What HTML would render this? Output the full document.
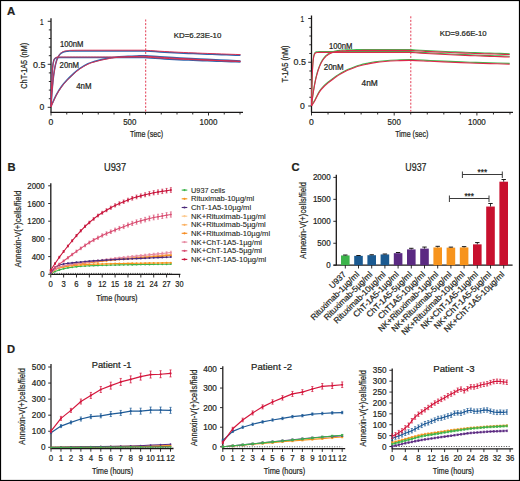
<!DOCTYPE html>
<html><head><meta charset="utf-8"><style>
html,body{margin:0;padding:0;background:#fff;}
svg{display:block;}
text{font-family:"Liberation Sans", sans-serif;fill:#231f20;stroke:#231f20;stroke-width:0.22px;}
</style></head><body>
<svg width="520" height="481" viewBox="0 0 520 481">
<rect x="0" y="0" width="520" height="481" fill="#fff"/>
<text x="7.1" y="14.99" font-size="11.4" fill="#000" font-weight="bold">A</text>
<line x1="51" y1="18.3" x2="51" y2="112.3" stroke="#1a1818" stroke-width="1.3" />
<line x1="47.7" y1="107.3" x2="51" y2="107.3" stroke="#1a1818" stroke-width="0.9" />
<line x1="48.8" y1="98.7" x2="51" y2="98.7" stroke="#1a1818" stroke-width="0.9" />
<line x1="48.8" y1="90.1" x2="51" y2="90.1" stroke="#1a1818" stroke-width="0.9" />
<line x1="48.8" y1="81.5" x2="51" y2="81.5" stroke="#1a1818" stroke-width="0.9" />
<line x1="48.8" y1="72.9" x2="51" y2="72.9" stroke="#1a1818" stroke-width="0.9" />
<line x1="47.7" y1="64.3" x2="51" y2="64.3" stroke="#1a1818" stroke-width="0.9" />
<line x1="48.8" y1="55.7" x2="51" y2="55.7" stroke="#1a1818" stroke-width="0.9" />
<line x1="48.8" y1="47.1" x2="51" y2="47.1" stroke="#1a1818" stroke-width="0.9" />
<line x1="48.8" y1="38.5" x2="51" y2="38.5" stroke="#1a1818" stroke-width="0.9" />
<line x1="48.8" y1="29.9" x2="51" y2="29.9" stroke="#1a1818" stroke-width="0.9" />
<line x1="47.7" y1="21.3" x2="51" y2="21.3" stroke="#1a1818" stroke-width="0.9" />
<text x="41.8" y="24.52" font-size="9.2" text-anchor="middle" textLength="3.6" lengthAdjust="spacingAndGlyphs">1</text>
<text x="39.2" y="67.52" font-size="9.2" text-anchor="middle" textLength="12.4" lengthAdjust="spacingAndGlyphs">0.5</text>
<text x="41.8" y="110.22" font-size="9.2" text-anchor="middle" textLength="4.8" lengthAdjust="spacingAndGlyphs">0</text>
<line x1="50.5" y1="112.3" x2="243" y2="112.3" stroke="#1a1818" stroke-width="1.3" />
<line x1="51" y1="112.3" x2="51" y2="115.5" stroke="#1a1818" stroke-width="0.9" />
<line x1="66.75" y1="112.3" x2="66.75" y2="114.5" stroke="#1a1818" stroke-width="0.9" />
<line x1="82.5" y1="112.3" x2="82.5" y2="114.5" stroke="#1a1818" stroke-width="0.9" />
<line x1="98.25" y1="112.3" x2="98.25" y2="114.5" stroke="#1a1818" stroke-width="0.9" />
<line x1="114" y1="112.3" x2="114" y2="114.5" stroke="#1a1818" stroke-width="0.9" />
<line x1="129.75" y1="112.3" x2="129.75" y2="115.5" stroke="#1a1818" stroke-width="0.9" />
<line x1="145.5" y1="112.3" x2="145.5" y2="114.5" stroke="#1a1818" stroke-width="0.9" />
<line x1="161.25" y1="112.3" x2="161.25" y2="114.5" stroke="#1a1818" stroke-width="0.9" />
<line x1="177" y1="112.3" x2="177" y2="114.5" stroke="#1a1818" stroke-width="0.9" />
<line x1="192.75" y1="112.3" x2="192.75" y2="114.5" stroke="#1a1818" stroke-width="0.9" />
<line x1="208.5" y1="112.3" x2="208.5" y2="115.5" stroke="#1a1818" stroke-width="0.9" />
<line x1="224.25" y1="112.3" x2="224.25" y2="114.5" stroke="#1a1818" stroke-width="0.9" />
<line x1="240" y1="112.3" x2="240" y2="114.5" stroke="#1a1818" stroke-width="0.9" />
<text x="51" y="125.12" font-size="9.2" text-anchor="middle" textLength="4.8" lengthAdjust="spacingAndGlyphs">0</text>
<text x="129.75" y="125.12" font-size="9.2" text-anchor="middle" textLength="13.2" lengthAdjust="spacingAndGlyphs">500</text>
<text x="208.5" y="125.12" font-size="9.2" text-anchor="middle" textLength="17.8" lengthAdjust="spacingAndGlyphs">1000</text>
<text x="146.5" y="136.61" font-size="8.6" text-anchor="middle" textLength="33.2" lengthAdjust="spacingAndGlyphs">Time (sec)</text>
<text x="27" y="65.75" font-size="9.4" text-anchor="middle" textLength="45.9" lengthAdjust="spacingAndGlyphs" transform="rotate(-90 27 65.75)">ChT-1A5 (nM)</text>
<line x1="145.7" y1="19.5" x2="145.7" y2="111.5" stroke="#e0263f" stroke-width="0.9" stroke-dasharray="2,1.6"/>
<text x="173.8" y="38.16" font-size="7.9" textLength="47.5" lengthAdjust="spacingAndGlyphs">KD=6.23E-10</text>
<text x="60" y="47.17" font-size="8.2" textLength="23.5" lengthAdjust="spacingAndGlyphs">100nM</text>
<text x="59.6" y="68.07" font-size="8.2" textLength="19.4" lengthAdjust="spacingAndGlyphs">20nM</text>
<text x="76.2" y="89.37" font-size="8.2" textLength="15.3" lengthAdjust="spacingAndGlyphs">4nM</text>
<path d="M51,107 L51.2,98.05 L51.4,90.71 L51.6,84.71 L51.8,79.8 L52,75.77 L52.2,72.48 L52.4,69.78 L52.6,67.57 L52.8,65.77 L53,64.29 L53.2,63.07 L53.4,62.08 L53.6,61.27 L53.8,60.6 L54,60.06 L54.2,59.61 L54.4,59.25 L54.6,58.95 L54.8,58.71 L55,58.5 L55.2,58.34 L55.4,58.21 L55.6,58.1 L55.8,58.01 L56,57.93 L56.2,57.87 L56.4,57.82 L56.6,57.78 L56.8,57.75 L57,57.72 L60,57.61 L63,57.6 L66,57.6 L69,57.6 L72,57.6 L75,57.6 L78,57.6 L81,57.6 L84,57.6 L87,57.6 L90,57.6 L93,57.6 L96,57.6 L99,57.6 L102,57.6 L105,57.6 L108,57.6 L111,57.6 L114,57.6 L117,57.6 L120,57.6 L123,57.6 L126,57.6 L129,57.6 L132,57.6 L135,57.6 L138,57.6 L141,57.6 L144,57.6 L150.44,57.97 L155.18,58.31 L159.92,58.62 L164.66,58.9 L169.4,59.17 L174.14,59.42 L178.88,59.65 L183.62,59.88 L188.36,60.09 L193.1,60.29 L197.84,60.48 L202.58,60.67 L207.32,60.85 L212.06,61.02 L216.8,61.19 L221.54,61.36 L226.28,61.53 L231.02,61.69 L235.76,61.84 L240.5,62" fill="none" stroke="#2f67ad" stroke-width="1.5" stroke-linejoin="round" />
<path d="M51,107 L51.3,101.98 L51.6,97.41 L51.9,93.25 L52.2,89.46 L52.5,86.01 L52.8,82.86 L53.1,80 L53.4,77.4 L53.7,75.03 L54,72.87 L54.3,70.9 L54.6,69.11 L54.9,67.48 L55.2,66 L55.5,64.65 L55.8,63.42 L56.1,62.3 L56.4,61.28 L56.7,60.35 L57,59.5 L57.3,58.73 L57.6,58.03 L57.9,57.39 L58.2,56.81 L58.5,56.28 L58.8,55.8 L59.1,55.36 L59.4,54.96 L59.7,54.6 L60,54.27 L60.3,53.97 L60.6,53.69 L60.9,53.44 L61.2,53.22 L61.5,53.01 L61.8,52.82 L62.1,52.65 L62.4,52.49 L62.7,52.35 L63,52.22 L63.3,52.1 L63.6,51.99 L63.9,51.9 L64.2,51.81 L64.5,51.73 L64.8,51.65 L65.1,51.58 L65.4,51.52 L65.7,51.47 L66,51.42 L66.3,51.37 L66.6,51.33 L66.9,51.29 L67.2,51.26 L67.5,51.22 L67.8,51.19 L68.1,51.17 L68.4,51.14 L68.7,51.12 L69,51.1 L69.3,51.08 L69.6,51.07 L69.9,51.05 L70.2,51.04 L70.5,51.03 L73.5,50.95 L76.5,50.92 L79.5,50.91 L82.5,50.9 L85.5,50.9 L88.5,50.9 L91.5,50.9 L94.5,50.9 L97.5,50.9 L100.5,50.9 L103.5,50.9 L106.5,50.9 L109.5,50.9 L112.5,50.9 L115.5,50.9 L118.5,50.9 L121.5,50.9 L124.5,50.9 L127.5,50.9 L130.5,50.9 L133.5,50.9 L136.5,50.9 L139.5,50.9 L142.5,50.9 L145.5,50.9 L150.44,51.27 L155.18,51.61 L159.92,51.92 L164.66,52.2 L169.4,52.47 L174.14,52.72 L178.88,52.95 L183.62,53.18 L188.36,53.39 L193.1,53.59 L197.84,53.78 L202.58,53.97 L207.32,54.15 L212.06,54.32 L216.8,54.49 L221.54,54.66 L226.28,54.83 L231.02,54.99 L235.76,55.14 L240.5,55.3" fill="none" stroke="#2f67ad" stroke-width="1.5" stroke-linejoin="round" />
<path d="M51,106.3 C51.88,104.38 54.55,98.1 56.3,94.8 C58.05,91.5 59.77,88.92 61.5,86.5 C63.23,84.08 64.78,82.37 66.7,80.3 C68.62,78.23 70.92,76 73,74.1 C75.08,72.2 76.7,70.63 79.2,68.9 C81.7,67.17 85.5,64.93 88,63.7 C90.5,62.47 91.9,62.2 94.2,61.5 C96.5,60.8 99.25,60.08 101.8,59.5 C104.35,58.92 106.93,58.43 109.5,58 C112.07,57.57 114.12,57.2 117.2,56.9 C120.28,56.6 124.7,56.37 128,56.2 C131.3,56.03 134.05,55.97 137,55.9 C139.95,55.83 141.87,55.65 145.7,55.8 C149.53,55.95 154.28,56.43 160,56.8 C165.72,57.17 173.33,57.63 180,58 C186.67,58.37 193.33,58.67 200,59 C206.67,59.33 213.25,59.68 220,60 C226.75,60.32 237.08,60.75 240.5,60.9" fill="none" stroke="#2f67ad" stroke-width="1.5" stroke-linejoin="round" />
<path d="M51,107 L51.2,98.33 L51.4,91.16 L51.6,85.24 L51.8,80.34 L52,76.29 L52.2,72.95 L52.4,70.18 L52.6,67.89 L52.8,66 L53,64.44 L53.2,63.15 L53.4,62.09 L53.6,61.2 L53.8,60.47 L54,59.87 L54.2,59.37 L54.4,58.96 L54.6,58.62 L54.8,58.34 L55,58.11 L55.2,57.92 L55.4,57.76 L55.6,57.63 L55.8,57.52 L56,57.43 L56.2,57.35 L56.4,57.29 L56.6,57.24 L56.8,57.2 L57,57.16 L57.2,57.14 L57.4,57.11 L60.4,57.01 L63.4,57 L66.4,57 L69.4,57 L72.4,57 L75.4,57 L78.4,57 L81.4,57 L84.4,57 L87.4,57 L90.4,57 L93.4,57 L96.4,57 L99.4,57 L102.4,57 L105.4,57 L108.4,57 L111.4,57 L114.4,57 L117.4,57 L120.4,57 L123.4,57 L126.4,57 L129.4,57 L132.4,57 L135.4,57 L138.4,57 L141.4,57 L144.4,57 L150.44,57.37 L155.18,57.71 L159.92,58.02 L164.66,58.3 L169.4,58.57 L174.14,58.82 L178.88,59.05 L183.62,59.28 L188.36,59.49 L193.1,59.69 L197.84,59.88 L202.58,60.07 L207.32,60.25 L212.06,60.42 L216.8,60.59 L221.54,60.76 L226.28,60.93 L231.02,61.09 L235.76,61.24 L240.5,61.4" fill="none" stroke="#dc2a4c" stroke-width="0.95" stroke-linejoin="round" />
<path d="M51,107 L51.3,102.06 L51.6,97.56 L51.9,93.44 L52.2,89.68 L52.5,86.25 L52.8,83.12 L53.1,80.26 L53.4,77.65 L53.7,75.26 L54,73.08 L54.3,71.1 L54.6,69.28 L54.9,67.62 L55.2,66.11 L55.5,64.73 L55.8,63.46 L56.1,62.31 L56.4,61.26 L56.7,60.3 L57,59.42 L57.3,58.62 L57.6,57.89 L57.9,57.22 L58.2,56.61 L58.5,56.05 L58.8,55.54 L59.1,55.08 L59.4,54.66 L59.7,54.27 L60,53.91 L60.3,53.59 L60.6,53.3 L60.9,53.03 L61.2,52.78 L61.5,52.56 L61.8,52.35 L62.1,52.17 L62.4,51.99 L62.7,51.84 L63,51.7 L63.3,51.57 L63.6,51.45 L63.9,51.34 L64.2,51.24 L64.5,51.15 L64.8,51.07 L65.1,50.99 L65.4,50.92 L65.7,50.86 L66,50.8 L66.3,50.75 L66.6,50.7 L66.9,50.66 L67.2,50.62 L67.5,50.58 L67.8,50.55 L68.1,50.52 L68.4,50.49 L68.7,50.47 L69,50.44 L69.3,50.42 L69.6,50.4 L69.9,50.38 L70.2,50.37 L70.5,50.35 L70.8,50.34 L71.1,50.33 L74.1,50.25 L77.1,50.22 L80.1,50.21 L83.1,50.2 L86.1,50.2 L89.1,50.2 L92.1,50.2 L95.1,50.2 L98.1,50.2 L101.1,50.2 L104.1,50.2 L107.1,50.2 L110.1,50.2 L113.1,50.2 L116.1,50.2 L119.1,50.2 L122.1,50.2 L125.1,50.2 L128.1,50.2 L131.1,50.2 L134.1,50.2 L137.1,50.2 L140.1,50.2 L143.1,50.2 L150.44,50.57 L155.18,50.91 L159.92,51.22 L164.66,51.5 L169.4,51.77 L174.14,52.02 L178.88,52.25 L183.62,52.48 L188.36,52.69 L193.1,52.89 L197.84,53.08 L202.58,53.27 L207.32,53.45 L212.06,53.62 L216.8,53.79 L221.54,53.96 L226.28,54.13 L231.02,54.29 L235.76,54.44 L240.5,54.6" fill="none" stroke="#dc2a4c" stroke-width="0.95" stroke-linejoin="round" />
<path d="M51,106.8 C51.88,104.88 54.55,98.6 56.3,95.3 C58.05,92 59.77,89.42 61.5,87 C63.23,84.58 64.78,82.87 66.7,80.8 C68.62,78.73 70.92,76.5 73,74.6 C75.08,72.7 76.7,71.13 79.2,69.4 C81.7,67.67 85.5,65.43 88,64.2 C90.5,62.97 91.9,62.7 94.2,62 C96.5,61.3 99.25,60.58 101.8,60 C104.35,59.42 106.93,58.93 109.5,58.5 C112.07,58.07 114.12,57.7 117.2,57.4 C120.28,57.1 124.7,56.87 128,56.7 C131.3,56.53 134.05,56.47 137,56.4 C139.95,56.33 141.87,56.15 145.7,56.3 C149.53,56.45 154.28,56.93 160,57.3 C165.72,57.67 173.33,58.13 180,58.5 C186.67,58.87 193.33,59.17 200,59.5 C206.67,59.83 213.25,60.18 220,60.5 C226.75,60.82 237.08,61.25 240.5,61.4" fill="none" stroke="#dc2a4c" stroke-width="0.95" stroke-linejoin="round" />
<line x1="311.5" y1="15.5" x2="311.5" y2="112.3" stroke="#1a1818" stroke-width="1.3" />
<line x1="308.2" y1="106" x2="311.5" y2="106" stroke="#1a1818" stroke-width="0.9" />
<line x1="309.3" y1="97.25" x2="311.5" y2="97.25" stroke="#1a1818" stroke-width="0.9" />
<line x1="309.3" y1="88.5" x2="311.5" y2="88.5" stroke="#1a1818" stroke-width="0.9" />
<line x1="309.3" y1="79.75" x2="311.5" y2="79.75" stroke="#1a1818" stroke-width="0.9" />
<line x1="309.3" y1="71" x2="311.5" y2="71" stroke="#1a1818" stroke-width="0.9" />
<line x1="308.2" y1="62.25" x2="311.5" y2="62.25" stroke="#1a1818" stroke-width="0.9" />
<line x1="309.3" y1="53.5" x2="311.5" y2="53.5" stroke="#1a1818" stroke-width="0.9" />
<line x1="309.3" y1="44.75" x2="311.5" y2="44.75" stroke="#1a1818" stroke-width="0.9" />
<line x1="309.3" y1="36" x2="311.5" y2="36" stroke="#1a1818" stroke-width="0.9" />
<line x1="309.3" y1="27.25" x2="311.5" y2="27.25" stroke="#1a1818" stroke-width="0.9" />
<line x1="308.2" y1="18.5" x2="311.5" y2="18.5" stroke="#1a1818" stroke-width="0.9" />
<text x="302.3" y="21.72" font-size="9.2" text-anchor="middle" textLength="3.6" lengthAdjust="spacingAndGlyphs">1</text>
<text x="299.7" y="65.47" font-size="9.2" text-anchor="middle" textLength="12.4" lengthAdjust="spacingAndGlyphs">0.5</text>
<text x="302.3" y="108.92" font-size="9.2" text-anchor="middle" textLength="4.8" lengthAdjust="spacingAndGlyphs">0</text>
<line x1="311" y1="112.3" x2="513" y2="112.3" stroke="#1a1818" stroke-width="1.3" />
<line x1="311.5" y1="112.3" x2="311.5" y2="115.5" stroke="#1a1818" stroke-width="0.9" />
<line x1="328.04" y1="112.3" x2="328.04" y2="114.5" stroke="#1a1818" stroke-width="0.9" />
<line x1="344.58" y1="112.3" x2="344.58" y2="114.5" stroke="#1a1818" stroke-width="0.9" />
<line x1="361.12" y1="112.3" x2="361.12" y2="114.5" stroke="#1a1818" stroke-width="0.9" />
<line x1="377.66" y1="112.3" x2="377.66" y2="114.5" stroke="#1a1818" stroke-width="0.9" />
<line x1="394.2" y1="112.3" x2="394.2" y2="115.5" stroke="#1a1818" stroke-width="0.9" />
<line x1="410.74" y1="112.3" x2="410.74" y2="114.5" stroke="#1a1818" stroke-width="0.9" />
<line x1="427.28" y1="112.3" x2="427.28" y2="114.5" stroke="#1a1818" stroke-width="0.9" />
<line x1="443.82" y1="112.3" x2="443.82" y2="114.5" stroke="#1a1818" stroke-width="0.9" />
<line x1="460.36" y1="112.3" x2="460.36" y2="114.5" stroke="#1a1818" stroke-width="0.9" />
<line x1="476.9" y1="112.3" x2="476.9" y2="115.5" stroke="#1a1818" stroke-width="0.9" />
<line x1="493.44" y1="112.3" x2="493.44" y2="114.5" stroke="#1a1818" stroke-width="0.9" />
<line x1="509.98" y1="112.3" x2="509.98" y2="114.5" stroke="#1a1818" stroke-width="0.9" />
<text x="311.5" y="125.12" font-size="9.2" text-anchor="middle" textLength="4.8" lengthAdjust="spacingAndGlyphs">0</text>
<text x="394.2" y="125.12" font-size="9.2" text-anchor="middle" textLength="13.2" lengthAdjust="spacingAndGlyphs">500</text>
<text x="476.9" y="125.12" font-size="9.2" text-anchor="middle" textLength="17.8" lengthAdjust="spacingAndGlyphs">1000</text>
<text x="411.74" y="136.61" font-size="8.6" text-anchor="middle" textLength="33.2" lengthAdjust="spacingAndGlyphs">Time (sec)</text>
<text x="287.7" y="63.9" font-size="9.4" text-anchor="middle" textLength="37" lengthAdjust="spacingAndGlyphs" transform="rotate(-90 287.7 63.9)">T-1A5 (nM)</text>
<line x1="410.8" y1="16.3" x2="410.8" y2="111.5" stroke="#e0263f" stroke-width="0.9" stroke-dasharray="2,1.6"/>
<text x="439.8" y="36.27" font-size="7.9" textLength="46.8" lengthAdjust="spacingAndGlyphs">KD=9.66E-10</text>
<text x="329.1" y="48.97" font-size="8.2" textLength="23.3" lengthAdjust="spacingAndGlyphs">100nM</text>
<text x="323.7" y="69.77" font-size="8.2" textLength="20" lengthAdjust="spacingAndGlyphs">20nM</text>
<text x="361.5" y="85.87" font-size="8.2" textLength="16.3" lengthAdjust="spacingAndGlyphs">4nM</text>
<path d="M311.5,105.2 C312.08,104.28 313.67,102.05 315,99.7 C316.33,97.35 317.92,93.52 319.5,91.1 C321.08,88.68 322.77,86.93 324.5,85.2 C326.23,83.47 328.07,82.17 329.9,80.7 C331.73,79.23 333.58,77.73 335.5,76.4 C337.42,75.07 339.4,73.85 341.4,72.7 C343.4,71.55 345.38,70.47 347.5,69.5 C349.62,68.53 352.02,67.65 354.1,66.9 C356.18,66.15 357.88,65.58 360,65 C362.12,64.42 364.3,63.93 366.8,63.4 C369.3,62.87 371.97,62.25 375,61.8 C378.03,61.35 381.33,61 385,60.7 C388.67,60.4 392.7,60.18 397,60 C401.3,59.82 405.3,59.52 410.8,59.6 C416.3,59.68 423.47,60.2 430,60.5 C436.53,60.8 443.33,61.12 450,61.4 C456.67,61.68 463.33,61.97 470,62.2 C476.67,62.43 483.38,62.6 490,62.8 C496.62,63 506.42,63.3 509.7,63.4" fill="none" stroke="#3dba4e" stroke-width="1.1" stroke-linejoin="round" />
<path d="M311.5,105.2 L311.7,94.52 L311.9,85.97 L312.1,79.12 L312.3,73.64 L312.5,69.24 L312.7,65.73 L312.9,62.91 L313.1,60.66 L313.3,58.85 L313.5,57.41 L313.7,56.25 L313.9,55.32 L314.1,54.58 L314.3,53.99 L314.5,53.51 L314.7,53.13 L314.9,52.83 L315.1,52.58 L315.3,52.39 L315.5,52.23 L315.7,52.1 L315.9,52 L316.1,51.92 L316.3,51.86 L316.5,51.81 L316.7,51.77 L316.9,51.73 L317.1,51.71 L320.1,51.6 L323.1,51.6 L326.1,51.6 L329.1,51.6 L332.1,51.6 L335.1,51.6 L338.1,51.6 L341.1,51.6 L344.1,51.6 L347.1,51.6 L350.1,51.6 L353.1,51.6 L356.1,51.6 L359.1,51.6 L362.1,51.6 L365.1,51.6 L368.1,51.6 L371.1,51.6 L374.1,51.6 L377.1,51.6 L380.1,51.6 L383.1,51.6 L386.1,51.6 L389.1,51.6 L392.1,51.6 L395.1,51.6 L398.1,51.6 L401.1,51.6 L404.1,51.6 L407.1,51.6 L410.1,51.6 L415.75,51.99 L420.69,52.34 L425.63,52.66 L430.58,52.96 L435.52,53.24 L440.47,53.5 L445.42,53.75 L450.36,53.98 L455.31,54.2 L460.25,54.41 L465.19,54.61 L470.14,54.81 L475.09,55 L480.03,55.18 L484.98,55.36 L489.92,55.53 L494.87,55.7 L499.81,55.87 L504.75,56.04 L509.7,56.2" fill="none" stroke="#3dba4e" stroke-width="1.1" stroke-linejoin="round" />
<path d="M311.5,105.2 L311.8,102.69 L312.1,100.3 L312.4,98.01 L312.7,95.83 L313,93.74 L313.3,91.75 L313.6,89.85 L313.9,88.03 L314.2,86.3 L314.5,84.65 L314.8,83.06 L315.1,81.56 L315.4,80.11 L315.7,78.74 L316,77.42 L316.3,76.17 L316.6,74.97 L316.9,73.83 L317.2,72.73 L317.5,71.69 L317.8,70.69 L318.1,69.74 L318.4,68.83 L318.7,67.97 L319,67.14 L319.3,66.35 L319.6,65.59 L319.9,64.87 L320.2,64.18 L320.5,63.52 L320.8,62.9 L321.1,62.3 L321.4,61.72 L321.7,61.18 L322,60.65 L322.3,60.16 L322.6,59.68 L322.9,59.22 L323.2,58.79 L323.5,58.38 L323.8,57.98 L324.1,57.6 L324.4,57.24 L324.7,56.9 L325,56.57 L325.3,56.25 L325.6,55.95 L325.9,55.67 L326.2,55.39 L326.5,55.13 L326.8,54.88 L327.1,54.64 L327.4,54.42 L327.7,54.2 L328,53.99 L328.3,53.79 L328.6,53.6 L328.9,53.42 L329.2,53.25 L329.5,53.09 L329.8,52.93 L330.1,52.78 L330.4,52.64 L330.7,52.5 L331,52.37 L331.3,52.24 L331.6,52.12 L331.9,52.01 L332.2,51.9 L332.5,51.8 L332.8,51.7 L333.1,51.6 L333.4,51.51 L333.7,51.43 L334,51.34 L334.3,51.27 L334.6,51.19 L334.9,51.12 L335.2,51.05 L335.5,50.99 L335.8,50.92 L336.1,50.86 L336.4,50.81 L336.7,50.75 L337,50.7 L337.3,50.65 L337.6,50.6 L337.9,50.56 L338.2,50.51 L338.5,50.47 L338.8,50.43 L339.1,50.4 L339.4,50.36 L339.7,50.33 L340,50.29 L340.3,50.26 L340.6,50.23 L340.9,50.2 L341.2,50.18 L341.5,50.15 L341.8,50.13 L342.1,50.1 L342.4,50.08 L342.7,50.06 L343,50.04 L343.3,50.02 L343.6,50 L343.9,49.98 L344.2,49.96 L344.5,49.95 L344.8,49.93 L345.1,49.92 L345.4,49.9 L345.7,49.89 L346,49.88 L346.3,49.86 L346.6,49.85 L346.9,49.84 L347.2,49.83 L347.5,49.82 L347.8,49.81 L348.1,49.8 L348.4,49.79 L348.7,49.78 L349,49.77 L349.3,49.77 L349.6,49.76 L349.9,49.75 L350.2,49.74 L350.5,49.74 L353.5,49.69 L356.5,49.65 L359.5,49.63 L362.5,49.62 L365.5,49.61 L368.5,49.61 L371.5,49.61 L374.5,49.6 L377.5,49.6 L380.5,49.6 L383.5,49.6 L386.5,49.6 L389.5,49.6 L392.5,49.6 L395.5,49.6 L398.5,49.6 L401.5,49.6 L404.5,49.6 L407.5,49.6 L410.5,49.6 L415.75,49.94 L420.69,50.26 L425.63,50.55 L430.58,50.81 L435.52,51.06 L440.47,51.3 L445.42,51.51 L450.36,51.72 L455.31,51.92 L460.25,52.11 L465.19,52.29 L470.14,52.46 L475.09,52.63 L480.03,52.79 L484.98,52.95 L489.92,53.11 L494.87,53.26 L499.81,53.41 L504.75,53.55 L509.7,53.7" fill="none" stroke="#3dba4e" stroke-width="1.1" stroke-linejoin="round" />
<path d="M311.5,106 C312.08,105.08 313.67,102.85 315,100.5 C316.33,98.15 317.92,94.32 319.5,91.9 C321.08,89.48 322.77,87.73 324.5,86 C326.23,84.27 328.07,82.97 329.9,81.5 C331.73,80.03 333.58,78.53 335.5,77.2 C337.42,75.87 339.4,74.65 341.4,73.5 C343.4,72.35 345.38,71.27 347.5,70.3 C349.62,69.33 352.02,68.45 354.1,67.7 C356.18,66.95 357.88,66.38 360,65.8 C362.12,65.22 364.3,64.73 366.8,64.2 C369.3,63.67 371.97,63.05 375,62.6 C378.03,62.15 381.33,61.8 385,61.5 C388.67,61.2 392.7,60.98 397,60.8 C401.3,60.62 405.3,60.32 410.8,60.4 C416.3,60.48 423.47,61 430,61.3 C436.53,61.6 443.33,61.92 450,62.2 C456.67,62.48 463.33,62.77 470,63 C476.67,63.23 483.38,63.4 490,63.6 C496.62,63.8 506.42,64.1 509.7,64.2" fill="none" stroke="#dc2a4c" stroke-width="1.1" stroke-linejoin="round" />
<path d="M311.5,106 L311.7,95.32 L311.9,86.77 L312.1,79.92 L312.3,74.44 L312.5,70.04 L312.7,66.53 L312.9,63.71 L313.1,61.46 L313.3,59.65 L313.5,58.21 L313.7,57.05 L313.9,56.12 L314.1,55.38 L314.3,54.79 L314.5,54.31 L314.7,53.93 L314.9,53.63 L315.1,53.38 L315.3,53.19 L315.5,53.03 L315.7,52.9 L315.9,52.8 L316.1,52.72 L316.3,52.66 L316.5,52.61 L316.7,52.57 L316.9,52.53 L317.1,52.51 L320.1,52.4 L323.1,52.4 L326.1,52.4 L329.1,52.4 L332.1,52.4 L335.1,52.4 L338.1,52.4 L341.1,52.4 L344.1,52.4 L347.1,52.4 L350.1,52.4 L353.1,52.4 L356.1,52.4 L359.1,52.4 L362.1,52.4 L365.1,52.4 L368.1,52.4 L371.1,52.4 L374.1,52.4 L377.1,52.4 L380.1,52.4 L383.1,52.4 L386.1,52.4 L389.1,52.4 L392.1,52.4 L395.1,52.4 L398.1,52.4 L401.1,52.4 L404.1,52.4 L407.1,52.4 L410.1,52.4 L415.75,52.79 L420.69,53.14 L425.63,53.46 L430.58,53.76 L435.52,54.04 L440.47,54.3 L445.42,54.55 L450.36,54.78 L455.31,55 L460.25,55.21 L465.19,55.41 L470.14,55.61 L475.09,55.8 L480.03,55.98 L484.98,56.16 L489.92,56.33 L494.87,56.5 L499.81,56.67 L504.75,56.84 L509.7,57" fill="none" stroke="#dc2a4c" stroke-width="1.1" stroke-linejoin="round" />
<path d="M311.5,106 L311.8,103.49 L312.1,101.1 L312.4,98.81 L312.7,96.63 L313,94.54 L313.3,92.55 L313.6,90.65 L313.9,88.83 L314.2,87.1 L314.5,85.45 L314.8,83.86 L315.1,82.36 L315.4,80.91 L315.7,79.54 L316,78.22 L316.3,76.97 L316.6,75.77 L316.9,74.63 L317.2,73.53 L317.5,72.49 L317.8,71.49 L318.1,70.54 L318.4,69.63 L318.7,68.77 L319,67.94 L319.3,67.15 L319.6,66.39 L319.9,65.67 L320.2,64.98 L320.5,64.32 L320.8,63.7 L321.1,63.1 L321.4,62.52 L321.7,61.98 L322,61.45 L322.3,60.96 L322.6,60.48 L322.9,60.02 L323.2,59.59 L323.5,59.18 L323.8,58.78 L324.1,58.4 L324.4,58.04 L324.7,57.7 L325,57.37 L325.3,57.05 L325.6,56.75 L325.9,56.47 L326.2,56.19 L326.5,55.93 L326.8,55.68 L327.1,55.44 L327.4,55.22 L327.7,55 L328,54.79 L328.3,54.59 L328.6,54.4 L328.9,54.22 L329.2,54.05 L329.5,53.89 L329.8,53.73 L330.1,53.58 L330.4,53.44 L330.7,53.3 L331,53.17 L331.3,53.04 L331.6,52.92 L331.9,52.81 L332.2,52.7 L332.5,52.6 L332.8,52.5 L333.1,52.4 L333.4,52.31 L333.7,52.23 L334,52.14 L334.3,52.07 L334.6,51.99 L334.9,51.92 L335.2,51.85 L335.5,51.79 L335.8,51.72 L336.1,51.66 L336.4,51.61 L336.7,51.55 L337,51.5 L337.3,51.45 L337.6,51.4 L337.9,51.36 L338.2,51.31 L338.5,51.27 L338.8,51.23 L339.1,51.2 L339.4,51.16 L339.7,51.13 L340,51.09 L340.3,51.06 L340.6,51.03 L340.9,51 L341.2,50.98 L341.5,50.95 L341.8,50.93 L342.1,50.9 L342.4,50.88 L342.7,50.86 L343,50.84 L343.3,50.82 L343.6,50.8 L343.9,50.78 L344.2,50.76 L344.5,50.75 L344.8,50.73 L345.1,50.72 L345.4,50.7 L345.7,50.69 L346,50.68 L346.3,50.66 L346.6,50.65 L346.9,50.64 L347.2,50.63 L347.5,50.62 L347.8,50.61 L348.1,50.6 L348.4,50.59 L348.7,50.58 L349,50.57 L349.3,50.57 L349.6,50.56 L349.9,50.55 L350.2,50.54 L350.5,50.54 L353.5,50.49 L356.5,50.45 L359.5,50.43 L362.5,50.42 L365.5,50.41 L368.5,50.41 L371.5,50.41 L374.5,50.4 L377.5,50.4 L380.5,50.4 L383.5,50.4 L386.5,50.4 L389.5,50.4 L392.5,50.4 L395.5,50.4 L398.5,50.4 L401.5,50.4 L404.5,50.4 L407.5,50.4 L410.5,50.4 L415.75,50.74 L420.69,51.06 L425.63,51.35 L430.58,51.61 L435.52,51.86 L440.47,52.1 L445.42,52.31 L450.36,52.52 L455.31,52.72 L460.25,52.91 L465.19,53.09 L470.14,53.26 L475.09,53.43 L480.03,53.59 L484.98,53.75 L489.92,53.91 L494.87,54.06 L499.81,54.21 L504.75,54.35 L509.7,54.5" fill="none" stroke="#dc2a4c" stroke-width="1.1" stroke-linejoin="round" />
<text x="7.5" y="170.92" font-size="11.2" fill="#000" font-weight="bold">B</text>
<text x="104" y="171.07" font-size="10.2" textLength="22.2" lengthAdjust="spacingAndGlyphs">U937</text>
<line x1="50.8" y1="183.3" x2="50.8" y2="274.8" stroke="#1a1818" stroke-width="1.3" />
<line x1="48.2" y1="274.3" x2="50.8" y2="274.3" stroke="#1a1818" stroke-width="0.9" />
<text x="44.7" y="277.38" font-size="8.8" text-anchor="end" textLength="4.35" lengthAdjust="spacingAndGlyphs">0</text>
<line x1="48.2" y1="256.6" x2="50.8" y2="256.6" stroke="#1a1818" stroke-width="0.9" />
<text x="44.7" y="259.68" font-size="8.8" text-anchor="end" textLength="13.05" lengthAdjust="spacingAndGlyphs">400</text>
<line x1="48.2" y1="238.9" x2="50.8" y2="238.9" stroke="#1a1818" stroke-width="0.9" />
<text x="44.7" y="241.98" font-size="8.8" text-anchor="end" textLength="13.05" lengthAdjust="spacingAndGlyphs">800</text>
<line x1="48.2" y1="221.2" x2="50.8" y2="221.2" stroke="#1a1818" stroke-width="0.9" />
<text x="44.7" y="224.28" font-size="8.8" text-anchor="end" textLength="17.4" lengthAdjust="spacingAndGlyphs">1200</text>
<line x1="48.2" y1="203.5" x2="50.8" y2="203.5" stroke="#1a1818" stroke-width="0.9" />
<text x="44.7" y="206.58" font-size="8.8" text-anchor="end" textLength="17.4" lengthAdjust="spacingAndGlyphs">1600</text>
<line x1="48.2" y1="185.8" x2="50.8" y2="185.8" stroke="#1a1818" stroke-width="0.9" />
<text x="44.7" y="188.88" font-size="8.8" text-anchor="end" textLength="17.4" lengthAdjust="spacingAndGlyphs">2000</text>
<line x1="50.3" y1="274.3" x2="180.4" y2="274.3" stroke="#1a1818" stroke-width="1.3" />
<line x1="52" y1="273.4" x2="172" y2="273.4" stroke="#222" stroke-width="0.9" stroke-dasharray="0.9,1.4"/>
<line x1="50.75" y1="274.3" x2="50.75" y2="277.5" stroke="#1a1818" stroke-width="0.9" />
<text x="50.75" y="287.38" font-size="8.8" text-anchor="middle" textLength="4.3" lengthAdjust="spacingAndGlyphs">0</text>
<line x1="63.62" y1="274.3" x2="63.62" y2="277.5" stroke="#1a1818" stroke-width="0.9" />
<text x="63.62" y="287.38" font-size="8.8" text-anchor="middle" textLength="4.3" lengthAdjust="spacingAndGlyphs">3</text>
<line x1="76.49" y1="274.3" x2="76.49" y2="277.5" stroke="#1a1818" stroke-width="0.9" />
<text x="76.49" y="287.38" font-size="8.8" text-anchor="middle" textLength="4.3" lengthAdjust="spacingAndGlyphs">6</text>
<line x1="89.36" y1="274.3" x2="89.36" y2="277.5" stroke="#1a1818" stroke-width="0.9" />
<text x="89.36" y="287.38" font-size="8.8" text-anchor="middle" textLength="4.3" lengthAdjust="spacingAndGlyphs">9</text>
<line x1="102.23" y1="274.3" x2="102.23" y2="277.5" stroke="#1a1818" stroke-width="0.9" />
<text x="102.23" y="287.38" font-size="8.8" text-anchor="middle" textLength="8.2" lengthAdjust="spacingAndGlyphs">12</text>
<line x1="115.1" y1="274.3" x2="115.1" y2="277.5" stroke="#1a1818" stroke-width="0.9" />
<text x="115.1" y="287.38" font-size="8.8" text-anchor="middle" textLength="8.2" lengthAdjust="spacingAndGlyphs">15</text>
<line x1="127.97" y1="274.3" x2="127.97" y2="277.5" stroke="#1a1818" stroke-width="0.9" />
<text x="127.97" y="287.38" font-size="8.8" text-anchor="middle" textLength="8.2" lengthAdjust="spacingAndGlyphs">18</text>
<line x1="140.84" y1="274.3" x2="140.84" y2="277.5" stroke="#1a1818" stroke-width="0.9" />
<text x="140.84" y="287.38" font-size="8.8" text-anchor="middle" textLength="8.2" lengthAdjust="spacingAndGlyphs">21</text>
<line x1="153.71" y1="274.3" x2="153.71" y2="277.5" stroke="#1a1818" stroke-width="0.9" />
<text x="153.71" y="287.38" font-size="8.8" text-anchor="middle" textLength="8.2" lengthAdjust="spacingAndGlyphs">24</text>
<line x1="166.58" y1="274.3" x2="166.58" y2="277.5" stroke="#1a1818" stroke-width="0.9" />
<text x="166.58" y="287.38" font-size="8.8" text-anchor="middle" textLength="8.2" lengthAdjust="spacingAndGlyphs">27</text>
<line x1="179.45" y1="274.3" x2="179.45" y2="277.5" stroke="#1a1818" stroke-width="0.9" />
<text x="179.45" y="287.38" font-size="8.8" text-anchor="middle" textLength="8.2" lengthAdjust="spacingAndGlyphs">30</text>
<text x="116.9" y="300.65" font-size="9" text-anchor="middle" textLength="41.3" lengthAdjust="spacingAndGlyphs">Time (hours)</text>
<text x="21" y="228.9" font-size="9" text-anchor="middle" textLength="76.6" lengthAdjust="spacingAndGlyphs" transform="rotate(-90 21 228.9)">Annexin-V(+)cells/field</text>
<line x1="181.7" y1="190.1" x2="187.3" y2="190.1" stroke="#3cb44b" stroke-width="1.1" />
<circle cx="184.5" cy="190.1" r="1.1" fill="#3cb44b"/>
<text x="191.1" y="192.76" font-size="7.6" textLength="34" lengthAdjust="spacingAndGlyphs" style="stroke-width:0.1px">U937 cells</text>
<line x1="181.7" y1="198.8" x2="187.3" y2="198.8" stroke="#f7941d" stroke-width="1.1" />
<circle cx="184.5" cy="198.8" r="1.1" fill="#f7941d"/>
<text x="191.1" y="201.46" font-size="7.6" textLength="63.1" lengthAdjust="spacingAndGlyphs" style="stroke-width:0.1px">Rituximab-10&#181;g/ml</text>
<line x1="181.7" y1="207.5" x2="187.3" y2="207.5" stroke="#4b2a7b" stroke-width="1.1" />
<circle cx="184.5" cy="207.5" r="1.1" fill="#4b2a7b"/>
<text x="191.1" y="210.16" font-size="7.6" textLength="60" lengthAdjust="spacingAndGlyphs" style="stroke-width:0.1px">ChT-1A5-10&#181;g/ml</text>
<line x1="181.7" y1="216.2" x2="187.3" y2="216.2" stroke="#fcc98e" stroke-width="1.1" />
<circle cx="184.5" cy="216.2" r="1.1" fill="#fcc98e"/>
<text x="191.1" y="218.86" font-size="7.6" textLength="74.7" lengthAdjust="spacingAndGlyphs" style="stroke-width:0.1px">NK+Rituximab-1&#181;g/ml</text>
<line x1="181.7" y1="224.8" x2="187.3" y2="224.8" stroke="#fbb060" stroke-width="1.1" />
<circle cx="184.5" cy="224.8" r="1.1" fill="#fbb060"/>
<text x="191.1" y="227.46" font-size="7.6" textLength="74.7" lengthAdjust="spacingAndGlyphs" style="stroke-width:0.1px">NK+Rituximab-5&#181;g/ml</text>
<line x1="181.7" y1="233.3" x2="187.3" y2="233.3" stroke="#f68b1f" stroke-width="1.1" />
<circle cx="184.5" cy="233.3" r="1.1" fill="#f68b1f"/>
<text x="191.1" y="235.96" font-size="7.6" textLength="79" lengthAdjust="spacingAndGlyphs" style="stroke-width:0.1px">NK+Rituximab-10&#181;g/ml</text>
<line x1="181.7" y1="242.1" x2="187.3" y2="242.1" stroke="#e68aa1" stroke-width="1.1" />
<circle cx="184.5" cy="242.1" r="1.1" fill="#e68aa1"/>
<text x="191.1" y="244.76" font-size="7.6" textLength="70.9" lengthAdjust="spacingAndGlyphs" style="stroke-width:0.1px">NK+ChT-1A5-1&#181;g/ml</text>
<line x1="181.7" y1="250.8" x2="187.3" y2="250.8" stroke="#d94e72" stroke-width="1.1" />
<circle cx="184.5" cy="250.8" r="1.1" fill="#d94e72"/>
<text x="191.1" y="253.46" font-size="7.6" textLength="70.9" lengthAdjust="spacingAndGlyphs" style="stroke-width:0.1px">NK+ChT-1A5-5&#181;g/ml</text>
<line x1="181.7" y1="259.4" x2="187.3" y2="259.4" stroke="#c8143b" stroke-width="1.1" />
<circle cx="184.5" cy="259.4" r="1.1" fill="#c8143b"/>
<text x="191.1" y="262.06" font-size="7.6" textLength="75.2" lengthAdjust="spacingAndGlyphs" style="stroke-width:0.1px">NK+ChT-1A5-10&#181;g/ml</text>
<path d="M50.75,273.42 L55.04,271.44 L59.33,269.9 L63.62,268.66 L67.91,267.87 L72.2,267.23 L76.49,266.67 L80.78,266.31 L85.07,266.01 L89.36,265.75 L93.65,265.58 L97.94,265.45 L102.23,265.32 L106.52,265.18 L110.81,265.05 L115.1,264.93 L119.39,264.86 L123.68,264.8 L127.97,264.74 L132.26,264.67 L136.55,264.61 L140.84,264.55 L145.13,264.49 L149.42,264.43 L153.71,264.37 L158,264.31 L162.29,264.25 L166.58,264.18 L170.87,264.12" fill="none" stroke="#3cb44b" stroke-width="1.1" stroke-linejoin="round" />
<circle cx="50.75" cy="273.42" r="1" fill="#3cb44b"/>
<circle cx="55.04" cy="271.44" r="1" fill="#3cb44b"/>
<circle cx="59.33" cy="269.9" r="1" fill="#3cb44b"/>
<circle cx="63.62" cy="268.66" r="1" fill="#3cb44b"/>
<circle cx="67.91" cy="267.87" r="1" fill="#3cb44b"/>
<circle cx="72.2" cy="267.23" r="1" fill="#3cb44b"/>
<circle cx="76.49" cy="266.67" r="1" fill="#3cb44b"/>
<circle cx="80.78" cy="266.31" r="1" fill="#3cb44b"/>
<circle cx="85.07" cy="266.01" r="1" fill="#3cb44b"/>
<circle cx="89.36" cy="265.75" r="1" fill="#3cb44b"/>
<circle cx="93.65" cy="265.58" r="1" fill="#3cb44b"/>
<circle cx="97.94" cy="265.45" r="1" fill="#3cb44b"/>
<circle cx="102.23" cy="265.32" r="1" fill="#3cb44b"/>
<circle cx="106.52" cy="265.18" r="1" fill="#3cb44b"/>
<circle cx="110.81" cy="265.05" r="1" fill="#3cb44b"/>
<circle cx="115.1" cy="264.93" r="1" fill="#3cb44b"/>
<circle cx="119.39" cy="264.86" r="1" fill="#3cb44b"/>
<circle cx="123.68" cy="264.8" r="1" fill="#3cb44b"/>
<circle cx="127.97" cy="264.74" r="1" fill="#3cb44b"/>
<circle cx="132.26" cy="264.67" r="1" fill="#3cb44b"/>
<circle cx="136.55" cy="264.61" r="1" fill="#3cb44b"/>
<circle cx="140.84" cy="264.55" r="1" fill="#3cb44b"/>
<circle cx="145.13" cy="264.49" r="1" fill="#3cb44b"/>
<circle cx="149.42" cy="264.43" r="1" fill="#3cb44b"/>
<circle cx="153.71" cy="264.37" r="1" fill="#3cb44b"/>
<circle cx="158" cy="264.31" r="1" fill="#3cb44b"/>
<circle cx="162.29" cy="264.25" r="1" fill="#3cb44b"/>
<circle cx="166.58" cy="264.18" r="1" fill="#3cb44b"/>
<circle cx="170.87" cy="264.12" r="1" fill="#3cb44b"/>
<path d="M50.75,273.19 L55.04,269.61 L59.33,267.88 L63.62,266.89 L67.91,266.25 L72.2,265.72 L76.49,265.24 L80.78,264.92 L85.07,264.65 L89.36,264.41 L93.65,264.26 L97.94,264.12 L102.23,263.99 L106.52,263.86 L110.81,263.72 L115.1,263.61 L119.39,263.53 L123.68,263.47 L127.97,263.41 L132.26,263.35 L136.55,263.29 L140.84,263.22 L145.13,263.16 L149.42,263.1 L153.71,263.04 L158,262.98 L162.29,262.92 L166.58,262.86 L170.87,262.8" fill="none" stroke="#f7941d" stroke-width="1.1" stroke-linejoin="round" />
<circle cx="50.75" cy="273.19" r="1" fill="#f7941d"/>
<circle cx="55.04" cy="269.61" r="1" fill="#f7941d"/>
<circle cx="59.33" cy="267.88" r="1" fill="#f7941d"/>
<circle cx="63.62" cy="266.89" r="1" fill="#f7941d"/>
<circle cx="67.91" cy="266.25" r="1" fill="#f7941d"/>
<circle cx="72.2" cy="265.72" r="1" fill="#f7941d"/>
<circle cx="76.49" cy="265.24" r="1" fill="#f7941d"/>
<circle cx="80.78" cy="264.92" r="1" fill="#f7941d"/>
<circle cx="85.07" cy="264.65" r="1" fill="#f7941d"/>
<circle cx="89.36" cy="264.41" r="1" fill="#f7941d"/>
<circle cx="93.65" cy="264.26" r="1" fill="#f7941d"/>
<circle cx="97.94" cy="264.12" r="1" fill="#f7941d"/>
<circle cx="102.23" cy="263.99" r="1" fill="#f7941d"/>
<circle cx="106.52" cy="263.86" r="1" fill="#f7941d"/>
<circle cx="110.81" cy="263.72" r="1" fill="#f7941d"/>
<circle cx="115.1" cy="263.61" r="1" fill="#f7941d"/>
<circle cx="119.39" cy="263.53" r="1" fill="#f7941d"/>
<circle cx="123.68" cy="263.47" r="1" fill="#f7941d"/>
<circle cx="127.97" cy="263.41" r="1" fill="#f7941d"/>
<circle cx="132.26" cy="263.35" r="1" fill="#f7941d"/>
<circle cx="136.55" cy="263.29" r="1" fill="#f7941d"/>
<circle cx="140.84" cy="263.22" r="1" fill="#f7941d"/>
<circle cx="145.13" cy="263.16" r="1" fill="#f7941d"/>
<circle cx="149.42" cy="263.1" r="1" fill="#f7941d"/>
<circle cx="153.71" cy="263.04" r="1" fill="#f7941d"/>
<circle cx="158" cy="262.98" r="1" fill="#f7941d"/>
<circle cx="162.29" cy="262.92" r="1" fill="#f7941d"/>
<circle cx="166.58" cy="262.86" r="1" fill="#f7941d"/>
<circle cx="170.87" cy="262.8" r="1" fill="#f7941d"/>
<path d="M50.75,272.97 L55.04,269.48 L59.33,267.44 L63.62,266.06 L67.91,265.2 L72.2,264.51 L76.49,263.86 L80.78,263.36 L85.07,262.9 L89.36,262.43 L93.65,261.95 L97.94,261.45 L102.23,260.96 L106.52,260.46 L110.81,259.97 L115.1,259.51 L119.39,259.15 L123.68,258.82 L127.97,258.49 L132.26,258.16 L136.55,257.83 L140.84,257.5 L145.13,257.17 L149.42,256.83 L153.71,256.5 L158,256.17 L162.29,255.84 L166.58,255.51 L170.87,255.18" fill="none" stroke="#fcc98e" stroke-width="1.1" stroke-linejoin="round" />
<circle cx="50.75" cy="272.97" r="1" fill="#fcc98e"/>
<circle cx="55.04" cy="269.48" r="1" fill="#fcc98e"/>
<circle cx="59.33" cy="267.44" r="1" fill="#fcc98e"/>
<circle cx="63.62" cy="266.06" r="1" fill="#fcc98e"/>
<circle cx="67.91" cy="265.2" r="1" fill="#fcc98e"/>
<circle cx="72.2" cy="264.51" r="1" fill="#fcc98e"/>
<circle cx="76.49" cy="263.86" r="1" fill="#fcc98e"/>
<circle cx="80.78" cy="263.36" r="1" fill="#fcc98e"/>
<circle cx="85.07" cy="262.9" r="1" fill="#fcc98e"/>
<circle cx="89.36" cy="262.43" r="1" fill="#fcc98e"/>
<circle cx="93.65" cy="261.95" r="1" fill="#fcc98e"/>
<circle cx="97.94" cy="261.45" r="1" fill="#fcc98e"/>
<circle cx="102.23" cy="260.96" r="1" fill="#fcc98e"/>
<circle cx="106.52" cy="260.46" r="1" fill="#fcc98e"/>
<circle cx="110.81" cy="259.97" r="1" fill="#fcc98e"/>
<circle cx="115.1" cy="259.51" r="1" fill="#fcc98e"/>
<circle cx="119.39" cy="259.15" r="1" fill="#fcc98e"/>
<circle cx="123.68" cy="258.82" r="1" fill="#fcc98e"/>
<circle cx="127.97" cy="258.49" r="1" fill="#fcc98e"/>
<circle cx="132.26" cy="258.16" r="1" fill="#fcc98e"/>
<circle cx="136.55" cy="257.83" r="1" fill="#fcc98e"/>
<circle cx="140.84" cy="257.5" r="1" fill="#fcc98e"/>
<circle cx="145.13" cy="257.17" r="1" fill="#fcc98e"/>
<circle cx="149.42" cy="256.83" r="1" fill="#fcc98e"/>
<circle cx="153.71" cy="256.5" r="1" fill="#fcc98e"/>
<circle cx="158" cy="256.17" r="1" fill="#fcc98e"/>
<circle cx="162.29" cy="255.84" r="1" fill="#fcc98e"/>
<circle cx="166.58" cy="255.51" r="1" fill="#fcc98e"/>
<circle cx="170.87" cy="255.18" r="1" fill="#fcc98e"/>
<path d="M50.75,272.97 L55.04,269.3 L59.33,267.22 L63.62,265.84 L67.91,264.98 L72.2,264.28 L76.49,263.64 L80.78,263.13 L85.07,262.68 L89.36,262.21 L93.65,261.71 L97.94,261.2 L102.23,260.69 L106.52,260.18 L110.81,259.68 L115.1,259.2 L119.39,258.81 L123.68,258.45 L127.97,258.09 L132.26,257.74 L136.55,257.38 L140.84,257.02 L145.13,256.66 L149.42,256.31 L153.71,255.95 L158,255.59 L162.29,255.24 L166.58,254.88 L170.87,254.52" fill="none" stroke="#fbb060" stroke-width="1.1" stroke-linejoin="round" />
<circle cx="50.75" cy="272.97" r="1" fill="#fbb060"/>
<circle cx="55.04" cy="269.3" r="1" fill="#fbb060"/>
<circle cx="59.33" cy="267.22" r="1" fill="#fbb060"/>
<circle cx="63.62" cy="265.84" r="1" fill="#fbb060"/>
<circle cx="67.91" cy="264.98" r="1" fill="#fbb060"/>
<circle cx="72.2" cy="264.28" r="1" fill="#fbb060"/>
<circle cx="76.49" cy="263.64" r="1" fill="#fbb060"/>
<circle cx="80.78" cy="263.13" r="1" fill="#fbb060"/>
<circle cx="85.07" cy="262.68" r="1" fill="#fbb060"/>
<circle cx="89.36" cy="262.21" r="1" fill="#fbb060"/>
<circle cx="93.65" cy="261.71" r="1" fill="#fbb060"/>
<circle cx="97.94" cy="261.2" r="1" fill="#fbb060"/>
<circle cx="102.23" cy="260.69" r="1" fill="#fbb060"/>
<circle cx="106.52" cy="260.18" r="1" fill="#fbb060"/>
<circle cx="110.81" cy="259.68" r="1" fill="#fbb060"/>
<circle cx="115.1" cy="259.2" r="1" fill="#fbb060"/>
<circle cx="119.39" cy="258.81" r="1" fill="#fbb060"/>
<circle cx="123.68" cy="258.45" r="1" fill="#fbb060"/>
<circle cx="127.97" cy="258.09" r="1" fill="#fbb060"/>
<circle cx="132.26" cy="257.74" r="1" fill="#fbb060"/>
<circle cx="136.55" cy="257.38" r="1" fill="#fbb060"/>
<circle cx="140.84" cy="257.02" r="1" fill="#fbb060"/>
<circle cx="145.13" cy="256.66" r="1" fill="#fbb060"/>
<circle cx="149.42" cy="256.31" r="1" fill="#fbb060"/>
<circle cx="153.71" cy="255.95" r="1" fill="#fbb060"/>
<circle cx="158" cy="255.59" r="1" fill="#fbb060"/>
<circle cx="162.29" cy="255.24" r="1" fill="#fbb060"/>
<circle cx="166.58" cy="254.88" r="1" fill="#fbb060"/>
<circle cx="170.87" cy="254.52" r="1" fill="#fbb060"/>
<path d="M50.75,272.97 L55.04,269.55 L59.33,267.53 L63.62,266.15 L67.91,265.29 L72.2,264.59 L76.49,263.95 L80.78,263.46 L85.07,263.02 L89.36,262.57 L93.65,262.11 L97.94,261.64 L102.23,261.18 L106.52,260.72 L110.81,260.25 L115.1,259.81 L119.39,259.46 L123.68,259.13 L127.97,258.8 L132.26,258.47 L136.55,258.14 L140.84,257.8 L145.13,257.47 L149.42,257.14 L153.71,256.81 L158,256.48 L162.29,256.15 L166.58,255.82 L170.87,255.49" fill="none" stroke="#f68b1f" stroke-width="1.1" stroke-linejoin="round" />
<circle cx="50.75" cy="272.97" r="1" fill="#f68b1f"/>
<circle cx="55.04" cy="269.55" r="1" fill="#f68b1f"/>
<circle cx="59.33" cy="267.53" r="1" fill="#f68b1f"/>
<circle cx="63.62" cy="266.15" r="1" fill="#f68b1f"/>
<circle cx="67.91" cy="265.29" r="1" fill="#f68b1f"/>
<circle cx="72.2" cy="264.59" r="1" fill="#f68b1f"/>
<circle cx="76.49" cy="263.95" r="1" fill="#f68b1f"/>
<circle cx="80.78" cy="263.46" r="1" fill="#f68b1f"/>
<circle cx="85.07" cy="263.02" r="1" fill="#f68b1f"/>
<circle cx="89.36" cy="262.57" r="1" fill="#f68b1f"/>
<circle cx="93.65" cy="262.11" r="1" fill="#f68b1f"/>
<circle cx="97.94" cy="261.64" r="1" fill="#f68b1f"/>
<circle cx="102.23" cy="261.18" r="1" fill="#f68b1f"/>
<circle cx="106.52" cy="260.72" r="1" fill="#f68b1f"/>
<circle cx="110.81" cy="260.25" r="1" fill="#f68b1f"/>
<circle cx="115.1" cy="259.81" r="1" fill="#f68b1f"/>
<circle cx="119.39" cy="259.46" r="1" fill="#f68b1f"/>
<circle cx="123.68" cy="259.13" r="1" fill="#f68b1f"/>
<circle cx="127.97" cy="258.8" r="1" fill="#f68b1f"/>
<circle cx="132.26" cy="258.47" r="1" fill="#f68b1f"/>
<circle cx="136.55" cy="258.14" r="1" fill="#f68b1f"/>
<circle cx="140.84" cy="257.8" r="1" fill="#f68b1f"/>
<circle cx="145.13" cy="257.47" r="1" fill="#f68b1f"/>
<circle cx="149.42" cy="257.14" r="1" fill="#f68b1f"/>
<circle cx="153.71" cy="256.81" r="1" fill="#f68b1f"/>
<circle cx="158" cy="256.48" r="1" fill="#f68b1f"/>
<circle cx="162.29" cy="256.15" r="1" fill="#f68b1f"/>
<circle cx="166.58" cy="255.82" r="1" fill="#f68b1f"/>
<circle cx="170.87" cy="255.49" r="1" fill="#f68b1f"/>
<path d="M50.75,272.75 L55.04,269.24 L59.33,267.15 L63.62,265.72 L67.91,264.85 L72.2,264.15 L76.49,263.5 L80.78,262.97 L85.07,262.49 L89.36,261.97 L93.65,261.39 L97.94,260.79 L102.23,260.18 L106.52,259.58 L110.81,258.97 L115.1,258.4 L119.39,257.92 L123.68,257.47 L127.97,257.02 L132.26,256.57 L136.55,256.12 L140.84,255.67 L145.13,255.22 L149.42,254.78 L153.71,254.33 L158,253.88 L162.29,253.43 L166.58,252.98 L170.87,252.53" fill="none" stroke="#e68aa1" stroke-width="1.1" stroke-linejoin="round" />
<circle cx="50.75" cy="272.75" r="1" fill="#e68aa1"/>
<circle cx="55.04" cy="269.24" r="1" fill="#e68aa1"/>
<circle cx="59.33" cy="267.15" r="1" fill="#e68aa1"/>
<circle cx="63.62" cy="265.72" r="1" fill="#e68aa1"/>
<circle cx="67.91" cy="264.85" r="1" fill="#e68aa1"/>
<line x1="72.2" y1="263.55" x2="72.2" y2="264.75" stroke="#e68aa1" stroke-width="0.8" />
<line x1="71.2" y1="263.55" x2="73.2" y2="263.55" stroke="#e68aa1" stroke-width="0.6" />
<line x1="71.2" y1="264.75" x2="73.2" y2="264.75" stroke="#e68aa1" stroke-width="0.6" />
<circle cx="72.2" cy="264.15" r="1" fill="#e68aa1"/>
<line x1="76.49" y1="262.87" x2="76.49" y2="264.13" stroke="#e68aa1" stroke-width="0.8" />
<line x1="75.49" y1="262.87" x2="77.49" y2="262.87" stroke="#e68aa1" stroke-width="0.6" />
<line x1="75.49" y1="264.13" x2="77.49" y2="264.13" stroke="#e68aa1" stroke-width="0.6" />
<circle cx="76.49" cy="263.5" r="1" fill="#e68aa1"/>
<line x1="80.78" y1="262.31" x2="80.78" y2="263.64" stroke="#e68aa1" stroke-width="0.8" />
<line x1="79.78" y1="262.31" x2="81.78" y2="262.31" stroke="#e68aa1" stroke-width="0.6" />
<line x1="79.78" y1="263.64" x2="81.78" y2="263.64" stroke="#e68aa1" stroke-width="0.6" />
<circle cx="80.78" cy="262.97" r="1" fill="#e68aa1"/>
<line x1="85.07" y1="261.79" x2="85.07" y2="263.18" stroke="#e68aa1" stroke-width="0.8" />
<line x1="84.07" y1="261.79" x2="86.07" y2="261.79" stroke="#e68aa1" stroke-width="0.6" />
<line x1="84.07" y1="263.18" x2="86.07" y2="263.18" stroke="#e68aa1" stroke-width="0.6" />
<circle cx="85.07" cy="262.49" r="1" fill="#e68aa1"/>
<line x1="89.36" y1="261.25" x2="89.36" y2="262.7" stroke="#e68aa1" stroke-width="0.8" />
<line x1="88.36" y1="261.25" x2="90.36" y2="261.25" stroke="#e68aa1" stroke-width="0.6" />
<line x1="88.36" y1="262.7" x2="90.36" y2="262.7" stroke="#e68aa1" stroke-width="0.6" />
<circle cx="89.36" cy="261.97" r="1" fill="#e68aa1"/>
<line x1="93.65" y1="260.64" x2="93.65" y2="262.15" stroke="#e68aa1" stroke-width="0.8" />
<line x1="92.65" y1="260.64" x2="94.65" y2="260.64" stroke="#e68aa1" stroke-width="0.6" />
<line x1="92.65" y1="262.15" x2="94.65" y2="262.15" stroke="#e68aa1" stroke-width="0.6" />
<circle cx="93.65" cy="261.39" r="1" fill="#e68aa1"/>
<line x1="97.94" y1="260" x2="97.94" y2="261.58" stroke="#e68aa1" stroke-width="0.8" />
<line x1="96.94" y1="260" x2="98.94" y2="260" stroke="#e68aa1" stroke-width="0.6" />
<line x1="96.94" y1="261.58" x2="98.94" y2="261.58" stroke="#e68aa1" stroke-width="0.6" />
<circle cx="97.94" cy="260.79" r="1" fill="#e68aa1"/>
<line x1="102.23" y1="259.36" x2="102.23" y2="261.01" stroke="#e68aa1" stroke-width="0.8" />
<line x1="101.23" y1="259.36" x2="103.23" y2="259.36" stroke="#e68aa1" stroke-width="0.6" />
<line x1="101.23" y1="261.01" x2="103.23" y2="261.01" stroke="#e68aa1" stroke-width="0.6" />
<circle cx="102.23" cy="260.18" r="1" fill="#e68aa1"/>
<line x1="106.52" y1="258.73" x2="106.52" y2="260.43" stroke="#e68aa1" stroke-width="0.8" />
<line x1="105.52" y1="258.73" x2="107.52" y2="258.73" stroke="#e68aa1" stroke-width="0.6" />
<line x1="105.52" y1="260.43" x2="107.52" y2="260.43" stroke="#e68aa1" stroke-width="0.6" />
<circle cx="106.52" cy="259.58" r="1" fill="#e68aa1"/>
<line x1="110.81" y1="258.09" x2="110.81" y2="259.86" stroke="#e68aa1" stroke-width="0.8" />
<line x1="109.81" y1="258.09" x2="111.81" y2="258.09" stroke="#e68aa1" stroke-width="0.6" />
<line x1="109.81" y1="259.86" x2="111.81" y2="259.86" stroke="#e68aa1" stroke-width="0.6" />
<circle cx="110.81" cy="258.97" r="1" fill="#e68aa1"/>
<line x1="115.1" y1="257.48" x2="115.1" y2="259.32" stroke="#e68aa1" stroke-width="0.8" />
<line x1="114.1" y1="257.48" x2="116.1" y2="257.48" stroke="#e68aa1" stroke-width="0.6" />
<line x1="114.1" y1="259.32" x2="116.1" y2="259.32" stroke="#e68aa1" stroke-width="0.6" />
<circle cx="115.1" cy="258.4" r="1" fill="#e68aa1"/>
<line x1="119.39" y1="256.97" x2="119.39" y2="258.87" stroke="#e68aa1" stroke-width="0.8" />
<line x1="118.39" y1="256.97" x2="120.39" y2="256.97" stroke="#e68aa1" stroke-width="0.6" />
<line x1="118.39" y1="258.87" x2="120.39" y2="258.87" stroke="#e68aa1" stroke-width="0.6" />
<circle cx="119.39" cy="257.92" r="1" fill="#e68aa1"/>
<line x1="123.68" y1="256.49" x2="123.68" y2="258.45" stroke="#e68aa1" stroke-width="0.8" />
<line x1="122.68" y1="256.49" x2="124.68" y2="256.49" stroke="#e68aa1" stroke-width="0.6" />
<line x1="122.68" y1="258.45" x2="124.68" y2="258.45" stroke="#e68aa1" stroke-width="0.6" />
<circle cx="123.68" cy="257.47" r="1" fill="#e68aa1"/>
<line x1="127.97" y1="256.01" x2="127.97" y2="258.03" stroke="#e68aa1" stroke-width="0.8" />
<line x1="126.97" y1="256.01" x2="128.97" y2="256.01" stroke="#e68aa1" stroke-width="0.6" />
<line x1="126.97" y1="258.03" x2="128.97" y2="258.03" stroke="#e68aa1" stroke-width="0.6" />
<circle cx="127.97" cy="257.02" r="1" fill="#e68aa1"/>
<line x1="132.26" y1="255.53" x2="132.26" y2="257.62" stroke="#e68aa1" stroke-width="0.8" />
<line x1="131.26" y1="255.53" x2="133.26" y2="255.53" stroke="#e68aa1" stroke-width="0.6" />
<line x1="131.26" y1="257.62" x2="133.26" y2="257.62" stroke="#e68aa1" stroke-width="0.6" />
<circle cx="132.26" cy="256.57" r="1" fill="#e68aa1"/>
<line x1="136.55" y1="255.05" x2="136.55" y2="257.2" stroke="#e68aa1" stroke-width="0.8" />
<line x1="135.55" y1="255.05" x2="137.55" y2="255.05" stroke="#e68aa1" stroke-width="0.6" />
<line x1="135.55" y1="257.2" x2="137.55" y2="257.2" stroke="#e68aa1" stroke-width="0.6" />
<circle cx="136.55" cy="256.12" r="1" fill="#e68aa1"/>
<line x1="140.84" y1="254.57" x2="140.84" y2="256.78" stroke="#e68aa1" stroke-width="0.8" />
<line x1="139.84" y1="254.57" x2="141.84" y2="254.57" stroke="#e68aa1" stroke-width="0.6" />
<line x1="139.84" y1="256.78" x2="141.84" y2="256.78" stroke="#e68aa1" stroke-width="0.6" />
<circle cx="140.84" cy="255.67" r="1" fill="#e68aa1"/>
<line x1="145.13" y1="254.09" x2="145.13" y2="256.36" stroke="#e68aa1" stroke-width="0.8" />
<line x1="144.13" y1="254.09" x2="146.13" y2="254.09" stroke="#e68aa1" stroke-width="0.6" />
<line x1="144.13" y1="256.36" x2="146.13" y2="256.36" stroke="#e68aa1" stroke-width="0.6" />
<circle cx="145.13" cy="255.22" r="1" fill="#e68aa1"/>
<line x1="149.42" y1="253.61" x2="149.42" y2="255.95" stroke="#e68aa1" stroke-width="0.8" />
<line x1="148.42" y1="253.61" x2="150.42" y2="253.61" stroke="#e68aa1" stroke-width="0.6" />
<line x1="148.42" y1="255.95" x2="150.42" y2="255.95" stroke="#e68aa1" stroke-width="0.6" />
<circle cx="149.42" cy="254.78" r="1" fill="#e68aa1"/>
<line x1="153.71" y1="253.13" x2="153.71" y2="255.53" stroke="#e68aa1" stroke-width="0.8" />
<line x1="152.71" y1="253.13" x2="154.71" y2="253.13" stroke="#e68aa1" stroke-width="0.6" />
<line x1="152.71" y1="255.53" x2="154.71" y2="255.53" stroke="#e68aa1" stroke-width="0.6" />
<circle cx="153.71" cy="254.33" r="1" fill="#e68aa1"/>
<line x1="158" y1="252.64" x2="158" y2="255.11" stroke="#e68aa1" stroke-width="0.8" />
<line x1="157" y1="252.64" x2="159" y2="252.64" stroke="#e68aa1" stroke-width="0.6" />
<line x1="157" y1="255.11" x2="159" y2="255.11" stroke="#e68aa1" stroke-width="0.6" />
<circle cx="158" cy="253.88" r="1" fill="#e68aa1"/>
<line x1="162.29" y1="252.16" x2="162.29" y2="254.69" stroke="#e68aa1" stroke-width="0.8" />
<line x1="161.29" y1="252.16" x2="163.29" y2="252.16" stroke="#e68aa1" stroke-width="0.6" />
<line x1="161.29" y1="254.69" x2="163.29" y2="254.69" stroke="#e68aa1" stroke-width="0.6" />
<circle cx="162.29" cy="253.43" r="1" fill="#e68aa1"/>
<line x1="166.58" y1="251.68" x2="166.58" y2="254.27" stroke="#e68aa1" stroke-width="0.8" />
<line x1="165.58" y1="251.68" x2="167.58" y2="251.68" stroke="#e68aa1" stroke-width="0.6" />
<line x1="165.58" y1="254.27" x2="167.58" y2="254.27" stroke="#e68aa1" stroke-width="0.6" />
<circle cx="166.58" cy="252.98" r="1" fill="#e68aa1"/>
<line x1="170.87" y1="251.2" x2="170.87" y2="253.86" stroke="#e68aa1" stroke-width="0.8" />
<line x1="169.87" y1="251.2" x2="171.87" y2="251.2" stroke="#e68aa1" stroke-width="0.6" />
<line x1="169.87" y1="253.86" x2="171.87" y2="253.86" stroke="#e68aa1" stroke-width="0.6" />
<circle cx="170.87" cy="252.53" r="1" fill="#e68aa1"/>
<path d="M50.75,272.97 L55.04,267.41 L59.33,265.07 L63.62,263.97 L67.91,263.33 L72.2,262.84 L76.49,262.37 L80.78,261.94 L85.07,261.53 L89.36,261.14 L93.65,260.86 L97.94,260.6 L102.23,260.34 L106.52,260.08 L110.81,259.82 L115.1,259.58 L119.39,259.37 L123.68,259.17 L127.97,258.97 L132.26,258.78 L136.55,258.58 L140.84,258.38 L145.13,258.18 L149.42,257.99 L153.71,257.79 L158,257.59 L162.29,257.39 L166.58,257.2 L170.87,257" fill="none" stroke="#4b2a7b" stroke-width="1.1" stroke-linejoin="round" />
<circle cx="50.75" cy="272.97" r="1" fill="#4b2a7b"/>
<circle cx="55.04" cy="267.41" r="1" fill="#4b2a7b"/>
<circle cx="59.33" cy="265.07" r="1" fill="#4b2a7b"/>
<circle cx="63.62" cy="263.97" r="1" fill="#4b2a7b"/>
<circle cx="67.91" cy="263.33" r="1" fill="#4b2a7b"/>
<circle cx="72.2" cy="262.84" r="1" fill="#4b2a7b"/>
<circle cx="76.49" cy="262.37" r="1" fill="#4b2a7b"/>
<circle cx="80.78" cy="261.94" r="1" fill="#4b2a7b"/>
<circle cx="85.07" cy="261.53" r="1" fill="#4b2a7b"/>
<circle cx="89.36" cy="261.14" r="1" fill="#4b2a7b"/>
<circle cx="93.65" cy="260.86" r="1" fill="#4b2a7b"/>
<circle cx="97.94" cy="260.6" r="1" fill="#4b2a7b"/>
<circle cx="102.23" cy="260.34" r="1" fill="#4b2a7b"/>
<circle cx="106.52" cy="260.08" r="1" fill="#4b2a7b"/>
<circle cx="110.81" cy="259.82" r="1" fill="#4b2a7b"/>
<circle cx="115.1" cy="259.58" r="1" fill="#4b2a7b"/>
<circle cx="119.39" cy="259.37" r="1" fill="#4b2a7b"/>
<circle cx="123.68" cy="259.17" r="1" fill="#4b2a7b"/>
<circle cx="127.97" cy="258.97" r="1" fill="#4b2a7b"/>
<circle cx="132.26" cy="258.78" r="1" fill="#4b2a7b"/>
<circle cx="136.55" cy="258.58" r="1" fill="#4b2a7b"/>
<circle cx="140.84" cy="258.38" r="1" fill="#4b2a7b"/>
<circle cx="145.13" cy="258.18" r="1" fill="#4b2a7b"/>
<circle cx="149.42" cy="257.99" r="1" fill="#4b2a7b"/>
<circle cx="153.71" cy="257.79" r="1" fill="#4b2a7b"/>
<circle cx="158" cy="257.59" r="1" fill="#4b2a7b"/>
<circle cx="162.29" cy="257.39" r="1" fill="#4b2a7b"/>
<circle cx="166.58" cy="257.2" r="1" fill="#4b2a7b"/>
<circle cx="170.87" cy="257" r="1" fill="#4b2a7b"/>
<path d="M50.75,271.29 L55.04,267.41 L59.33,264.12 L63.62,261 L67.91,257.78 L72.2,254.54 L76.49,251.35 L80.78,248.34 L85.07,245.39 L89.36,242.56 L93.65,240.08 L97.94,237.72 L102.23,235.47 L106.52,233.55 L110.81,231.73 L115.1,229.95 L119.39,228.28 L123.68,226.64 L127.97,225.01 L132.26,223.42 L136.55,222.04 L140.84,220.83 L145.13,219.63 L149.42,218.43 L153.71,217.45 L158,216.69 L162.29,215.97 L166.58,215.24 L170.87,214.52" fill="none" stroke="#d94e72" stroke-width="1.1" stroke-linejoin="round" />
<line x1="50.75" y1="270.41" x2="50.75" y2="272.18" stroke="#d94e72" stroke-width="0.8" />
<line x1="49.75" y1="270.41" x2="51.75" y2="270.41" stroke="#d94e72" stroke-width="0.6" />
<line x1="49.75" y1="272.18" x2="51.75" y2="272.18" stroke="#d94e72" stroke-width="0.6" />
<circle cx="50.75" cy="271.29" r="1" fill="#d94e72"/>
<line x1="55.04" y1="266.47" x2="55.04" y2="268.36" stroke="#d94e72" stroke-width="0.8" />
<line x1="54.04" y1="266.47" x2="56.04" y2="266.47" stroke="#d94e72" stroke-width="0.6" />
<line x1="54.04" y1="268.36" x2="56.04" y2="268.36" stroke="#d94e72" stroke-width="0.6" />
<circle cx="55.04" cy="267.41" r="1" fill="#d94e72"/>
<line x1="59.33" y1="263.11" x2="59.33" y2="265.13" stroke="#d94e72" stroke-width="0.8" />
<line x1="58.33" y1="263.11" x2="60.33" y2="263.11" stroke="#d94e72" stroke-width="0.6" />
<line x1="58.33" y1="265.13" x2="60.33" y2="265.13" stroke="#d94e72" stroke-width="0.6" />
<circle cx="59.33" cy="264.12" r="1" fill="#d94e72"/>
<line x1="63.62" y1="259.92" x2="63.62" y2="262.07" stroke="#d94e72" stroke-width="0.8" />
<line x1="62.62" y1="259.92" x2="64.62" y2="259.92" stroke="#d94e72" stroke-width="0.6" />
<line x1="62.62" y1="262.07" x2="64.62" y2="262.07" stroke="#d94e72" stroke-width="0.6" />
<circle cx="63.62" cy="261" r="1" fill="#d94e72"/>
<line x1="67.91" y1="256.64" x2="67.91" y2="258.92" stroke="#d94e72" stroke-width="0.8" />
<line x1="66.91" y1="256.64" x2="68.91" y2="256.64" stroke="#d94e72" stroke-width="0.6" />
<line x1="66.91" y1="258.92" x2="68.91" y2="258.92" stroke="#d94e72" stroke-width="0.6" />
<circle cx="67.91" cy="257.78" r="1" fill="#d94e72"/>
<line x1="72.2" y1="253.33" x2="72.2" y2="255.74" stroke="#d94e72" stroke-width="0.8" />
<line x1="71.2" y1="253.33" x2="73.2" y2="253.33" stroke="#d94e72" stroke-width="0.6" />
<line x1="71.2" y1="255.74" x2="73.2" y2="255.74" stroke="#d94e72" stroke-width="0.6" />
<circle cx="72.2" cy="254.54" r="1" fill="#d94e72"/>
<line x1="76.49" y1="250.08" x2="76.49" y2="252.61" stroke="#d94e72" stroke-width="0.8" />
<line x1="75.49" y1="250.08" x2="77.49" y2="250.08" stroke="#d94e72" stroke-width="0.6" />
<line x1="75.49" y1="252.61" x2="77.49" y2="252.61" stroke="#d94e72" stroke-width="0.6" />
<circle cx="76.49" cy="251.35" r="1" fill="#d94e72"/>
<line x1="80.78" y1="247.01" x2="80.78" y2="249.67" stroke="#d94e72" stroke-width="0.8" />
<line x1="79.78" y1="247.01" x2="81.78" y2="247.01" stroke="#d94e72" stroke-width="0.6" />
<line x1="79.78" y1="249.67" x2="81.78" y2="249.67" stroke="#d94e72" stroke-width="0.6" />
<circle cx="80.78" cy="248.34" r="1" fill="#d94e72"/>
<line x1="85.07" y1="244" x2="85.07" y2="246.78" stroke="#d94e72" stroke-width="0.8" />
<line x1="84.07" y1="244" x2="86.07" y2="244" stroke="#d94e72" stroke-width="0.6" />
<line x1="84.07" y1="246.78" x2="86.07" y2="246.78" stroke="#d94e72" stroke-width="0.6" />
<circle cx="85.07" cy="245.39" r="1" fill="#d94e72"/>
<line x1="89.36" y1="241.1" x2="89.36" y2="244.01" stroke="#d94e72" stroke-width="0.8" />
<line x1="88.36" y1="241.1" x2="90.36" y2="241.1" stroke="#d94e72" stroke-width="0.6" />
<line x1="88.36" y1="244.01" x2="90.36" y2="244.01" stroke="#d94e72" stroke-width="0.6" />
<circle cx="89.36" cy="242.56" r="1" fill="#d94e72"/>
<line x1="93.65" y1="238.56" x2="93.65" y2="241.6" stroke="#d94e72" stroke-width="0.8" />
<line x1="92.65" y1="238.56" x2="94.65" y2="238.56" stroke="#d94e72" stroke-width="0.6" />
<line x1="92.65" y1="241.6" x2="94.65" y2="241.6" stroke="#d94e72" stroke-width="0.6" />
<circle cx="93.65" cy="240.08" r="1" fill="#d94e72"/>
<line x1="97.94" y1="236.14" x2="97.94" y2="239.3" stroke="#d94e72" stroke-width="0.8" />
<line x1="96.94" y1="236.14" x2="98.94" y2="236.14" stroke="#d94e72" stroke-width="0.6" />
<line x1="96.94" y1="239.3" x2="98.94" y2="239.3" stroke="#d94e72" stroke-width="0.6" />
<circle cx="97.94" cy="237.72" r="1" fill="#d94e72"/>
<line x1="102.23" y1="233.83" x2="102.23" y2="237.11" stroke="#d94e72" stroke-width="0.8" />
<line x1="101.23" y1="233.83" x2="103.23" y2="233.83" stroke="#d94e72" stroke-width="0.6" />
<line x1="101.23" y1="237.11" x2="103.23" y2="237.11" stroke="#d94e72" stroke-width="0.6" />
<circle cx="102.23" cy="235.47" r="1" fill="#d94e72"/>
<line x1="106.52" y1="231.84" x2="106.52" y2="235.25" stroke="#d94e72" stroke-width="0.8" />
<line x1="105.52" y1="231.84" x2="107.52" y2="231.84" stroke="#d94e72" stroke-width="0.6" />
<line x1="105.52" y1="235.25" x2="107.52" y2="235.25" stroke="#d94e72" stroke-width="0.6" />
<circle cx="106.52" cy="233.55" r="1" fill="#d94e72"/>
<line x1="110.81" y1="229.96" x2="110.81" y2="233.5" stroke="#d94e72" stroke-width="0.8" />
<line x1="109.81" y1="229.96" x2="111.81" y2="229.96" stroke="#d94e72" stroke-width="0.6" />
<line x1="109.81" y1="233.5" x2="111.81" y2="233.5" stroke="#d94e72" stroke-width="0.6" />
<circle cx="110.81" cy="231.73" r="1" fill="#d94e72"/>
<line x1="115.1" y1="228.12" x2="115.1" y2="231.79" stroke="#d94e72" stroke-width="0.8" />
<line x1="114.1" y1="228.12" x2="116.1" y2="228.12" stroke="#d94e72" stroke-width="0.6" />
<line x1="114.1" y1="231.79" x2="116.1" y2="231.79" stroke="#d94e72" stroke-width="0.6" />
<circle cx="115.1" cy="229.95" r="1" fill="#d94e72"/>
<line x1="119.39" y1="226.38" x2="119.39" y2="230.18" stroke="#d94e72" stroke-width="0.8" />
<line x1="118.39" y1="226.38" x2="120.39" y2="226.38" stroke="#d94e72" stroke-width="0.6" />
<line x1="118.39" y1="230.18" x2="120.39" y2="230.18" stroke="#d94e72" stroke-width="0.6" />
<circle cx="119.39" cy="228.28" r="1" fill="#d94e72"/>
<line x1="123.68" y1="224.69" x2="123.68" y2="228.6" stroke="#d94e72" stroke-width="0.8" />
<line x1="122.68" y1="224.69" x2="124.68" y2="224.69" stroke="#d94e72" stroke-width="0.6" />
<line x1="122.68" y1="228.6" x2="124.68" y2="228.6" stroke="#d94e72" stroke-width="0.6" />
<circle cx="123.68" cy="226.64" r="1" fill="#d94e72"/>
<line x1="127.97" y1="222.99" x2="127.97" y2="227.03" stroke="#d94e72" stroke-width="0.8" />
<line x1="126.97" y1="222.99" x2="128.97" y2="222.99" stroke="#d94e72" stroke-width="0.6" />
<line x1="126.97" y1="227.03" x2="128.97" y2="227.03" stroke="#d94e72" stroke-width="0.6" />
<circle cx="127.97" cy="225.01" r="1" fill="#d94e72"/>
<line x1="132.26" y1="221.33" x2="132.26" y2="225.5" stroke="#d94e72" stroke-width="0.8" />
<line x1="131.26" y1="221.33" x2="133.26" y2="221.33" stroke="#d94e72" stroke-width="0.6" />
<line x1="131.26" y1="225.5" x2="133.26" y2="225.5" stroke="#d94e72" stroke-width="0.6" />
<circle cx="132.26" cy="223.42" r="1" fill="#d94e72"/>
<line x1="136.55" y1="219.89" x2="136.55" y2="224.19" stroke="#d94e72" stroke-width="0.8" />
<line x1="135.55" y1="219.89" x2="137.55" y2="219.89" stroke="#d94e72" stroke-width="0.6" />
<line x1="135.55" y1="224.19" x2="137.55" y2="224.19" stroke="#d94e72" stroke-width="0.6" />
<circle cx="136.55" cy="222.04" r="1" fill="#d94e72"/>
<line x1="140.84" y1="218.62" x2="140.84" y2="223.05" stroke="#d94e72" stroke-width="0.8" />
<line x1="139.84" y1="218.62" x2="141.84" y2="218.62" stroke="#d94e72" stroke-width="0.6" />
<line x1="139.84" y1="223.05" x2="141.84" y2="223.05" stroke="#d94e72" stroke-width="0.6" />
<circle cx="140.84" cy="220.83" r="1" fill="#d94e72"/>
<line x1="145.13" y1="217.35" x2="145.13" y2="221.91" stroke="#d94e72" stroke-width="0.8" />
<line x1="144.13" y1="217.35" x2="146.13" y2="217.35" stroke="#d94e72" stroke-width="0.6" />
<line x1="144.13" y1="221.91" x2="146.13" y2="221.91" stroke="#d94e72" stroke-width="0.6" />
<circle cx="145.13" cy="219.63" r="1" fill="#d94e72"/>
<line x1="149.42" y1="216.09" x2="149.42" y2="220.77" stroke="#d94e72" stroke-width="0.8" />
<line x1="148.42" y1="216.09" x2="150.42" y2="216.09" stroke="#d94e72" stroke-width="0.6" />
<line x1="148.42" y1="220.77" x2="150.42" y2="220.77" stroke="#d94e72" stroke-width="0.6" />
<circle cx="149.42" cy="218.43" r="1" fill="#d94e72"/>
<line x1="153.71" y1="215.04" x2="153.71" y2="219.85" stroke="#d94e72" stroke-width="0.8" />
<line x1="152.71" y1="215.04" x2="154.71" y2="215.04" stroke="#d94e72" stroke-width="0.6" />
<line x1="152.71" y1="219.85" x2="154.71" y2="219.85" stroke="#d94e72" stroke-width="0.6" />
<circle cx="153.71" cy="217.45" r="1" fill="#d94e72"/>
<line x1="158" y1="214.23" x2="158" y2="219.16" stroke="#d94e72" stroke-width="0.8" />
<line x1="157" y1="214.23" x2="159" y2="214.23" stroke="#d94e72" stroke-width="0.6" />
<line x1="157" y1="219.16" x2="159" y2="219.16" stroke="#d94e72" stroke-width="0.6" />
<circle cx="158" cy="216.69" r="1" fill="#d94e72"/>
<line x1="162.29" y1="213.44" x2="162.29" y2="218.5" stroke="#d94e72" stroke-width="0.8" />
<line x1="161.29" y1="213.44" x2="163.29" y2="213.44" stroke="#d94e72" stroke-width="0.6" />
<line x1="161.29" y1="218.5" x2="163.29" y2="218.5" stroke="#d94e72" stroke-width="0.6" />
<circle cx="162.29" cy="215.97" r="1" fill="#d94e72"/>
<line x1="166.58" y1="212.65" x2="166.58" y2="217.83" stroke="#d94e72" stroke-width="0.8" />
<line x1="165.58" y1="212.65" x2="167.58" y2="212.65" stroke="#d94e72" stroke-width="0.6" />
<line x1="165.58" y1="217.83" x2="167.58" y2="217.83" stroke="#d94e72" stroke-width="0.6" />
<circle cx="166.58" cy="215.24" r="1" fill="#d94e72"/>
<line x1="170.87" y1="211.86" x2="170.87" y2="217.17" stroke="#d94e72" stroke-width="0.8" />
<line x1="169.87" y1="211.86" x2="171.87" y2="211.86" stroke="#d94e72" stroke-width="0.6" />
<line x1="169.87" y1="217.17" x2="171.87" y2="217.17" stroke="#d94e72" stroke-width="0.6" />
<circle cx="170.87" cy="214.52" r="1" fill="#d94e72"/>
<path d="M50.75,270.32 L55.04,263.56 L59.33,257.2 L63.62,251.49 L67.91,246.03 L72.2,240.74 L76.49,235.6 L80.78,230.78 L85.07,226.3 L89.36,222.5 L93.65,218.93 L97.94,215.54 L102.23,212.75 L106.52,210.24 L110.81,207.73 L115.1,205.38 L119.39,203.48 L123.68,201.73 L127.97,199.98 L132.26,198.29 L136.55,196.94 L140.84,195.85 L145.13,194.76 L149.42,193.67 L153.71,192.77 L158,192.06 L162.29,191.37 L166.58,190.69 L170.87,190" fill="none" stroke="#c8143b" stroke-width="1.1" stroke-linejoin="round" />
<line x1="50.75" y1="269.54" x2="50.75" y2="271.09" stroke="#c8143b" stroke-width="0.8" />
<line x1="49.75" y1="269.54" x2="51.75" y2="269.54" stroke="#c8143b" stroke-width="0.6" />
<line x1="49.75" y1="271.09" x2="51.75" y2="271.09" stroke="#c8143b" stroke-width="0.6" />
<circle cx="50.75" cy="270.32" r="1" fill="#c8143b"/>
<line x1="55.04" y1="262.74" x2="55.04" y2="264.39" stroke="#c8143b" stroke-width="0.8" />
<line x1="54.04" y1="262.74" x2="56.04" y2="262.74" stroke="#c8143b" stroke-width="0.6" />
<line x1="54.04" y1="264.39" x2="56.04" y2="264.39" stroke="#c8143b" stroke-width="0.6" />
<circle cx="55.04" cy="263.56" r="1" fill="#c8143b"/>
<line x1="59.33" y1="256.31" x2="59.33" y2="258.08" stroke="#c8143b" stroke-width="0.8" />
<line x1="58.33" y1="256.31" x2="60.33" y2="256.31" stroke="#c8143b" stroke-width="0.6" />
<line x1="58.33" y1="258.08" x2="60.33" y2="258.08" stroke="#c8143b" stroke-width="0.6" />
<circle cx="59.33" cy="257.2" r="1" fill="#c8143b"/>
<line x1="63.62" y1="250.55" x2="63.62" y2="252.43" stroke="#c8143b" stroke-width="0.8" />
<line x1="62.62" y1="250.55" x2="64.62" y2="250.55" stroke="#c8143b" stroke-width="0.6" />
<line x1="62.62" y1="252.43" x2="64.62" y2="252.43" stroke="#c8143b" stroke-width="0.6" />
<circle cx="63.62" cy="251.49" r="1" fill="#c8143b"/>
<line x1="67.91" y1="245.04" x2="67.91" y2="247.03" stroke="#c8143b" stroke-width="0.8" />
<line x1="66.91" y1="245.04" x2="68.91" y2="245.04" stroke="#c8143b" stroke-width="0.6" />
<line x1="66.91" y1="247.03" x2="68.91" y2="247.03" stroke="#c8143b" stroke-width="0.6" />
<circle cx="67.91" cy="246.03" r="1" fill="#c8143b"/>
<line x1="72.2" y1="239.69" x2="72.2" y2="241.79" stroke="#c8143b" stroke-width="0.8" />
<line x1="71.2" y1="239.69" x2="73.2" y2="239.69" stroke="#c8143b" stroke-width="0.6" />
<line x1="71.2" y1="241.79" x2="73.2" y2="241.79" stroke="#c8143b" stroke-width="0.6" />
<circle cx="72.2" cy="240.74" r="1" fill="#c8143b"/>
<line x1="76.49" y1="234.49" x2="76.49" y2="236.71" stroke="#c8143b" stroke-width="0.8" />
<line x1="75.49" y1="234.49" x2="77.49" y2="234.49" stroke="#c8143b" stroke-width="0.6" />
<line x1="75.49" y1="236.71" x2="77.49" y2="236.71" stroke="#c8143b" stroke-width="0.6" />
<circle cx="76.49" cy="235.6" r="1" fill="#c8143b"/>
<line x1="80.78" y1="229.62" x2="80.78" y2="231.94" stroke="#c8143b" stroke-width="0.8" />
<line x1="79.78" y1="229.62" x2="81.78" y2="229.62" stroke="#c8143b" stroke-width="0.6" />
<line x1="79.78" y1="231.94" x2="81.78" y2="231.94" stroke="#c8143b" stroke-width="0.6" />
<circle cx="80.78" cy="230.78" r="1" fill="#c8143b"/>
<line x1="85.07" y1="225.08" x2="85.07" y2="227.51" stroke="#c8143b" stroke-width="0.8" />
<line x1="84.07" y1="225.08" x2="86.07" y2="225.08" stroke="#c8143b" stroke-width="0.6" />
<line x1="84.07" y1="227.51" x2="86.07" y2="227.51" stroke="#c8143b" stroke-width="0.6" />
<circle cx="85.07" cy="226.3" r="1" fill="#c8143b"/>
<line x1="89.36" y1="221.23" x2="89.36" y2="223.77" stroke="#c8143b" stroke-width="0.8" />
<line x1="88.36" y1="221.23" x2="90.36" y2="221.23" stroke="#c8143b" stroke-width="0.6" />
<line x1="88.36" y1="223.77" x2="90.36" y2="223.77" stroke="#c8143b" stroke-width="0.6" />
<circle cx="89.36" cy="222.5" r="1" fill="#c8143b"/>
<line x1="93.65" y1="217.6" x2="93.65" y2="220.26" stroke="#c8143b" stroke-width="0.8" />
<line x1="92.65" y1="217.6" x2="94.65" y2="217.6" stroke="#c8143b" stroke-width="0.6" />
<line x1="92.65" y1="220.26" x2="94.65" y2="220.26" stroke="#c8143b" stroke-width="0.6" />
<circle cx="93.65" cy="218.93" r="1" fill="#c8143b"/>
<line x1="97.94" y1="214.16" x2="97.94" y2="216.92" stroke="#c8143b" stroke-width="0.8" />
<line x1="96.94" y1="214.16" x2="98.94" y2="214.16" stroke="#c8143b" stroke-width="0.6" />
<line x1="96.94" y1="216.92" x2="98.94" y2="216.92" stroke="#c8143b" stroke-width="0.6" />
<circle cx="97.94" cy="215.54" r="1" fill="#c8143b"/>
<line x1="102.23" y1="211.31" x2="102.23" y2="214.19" stroke="#c8143b" stroke-width="0.8" />
<line x1="101.23" y1="211.31" x2="103.23" y2="211.31" stroke="#c8143b" stroke-width="0.6" />
<line x1="101.23" y1="214.19" x2="103.23" y2="214.19" stroke="#c8143b" stroke-width="0.6" />
<circle cx="102.23" cy="212.75" r="1" fill="#c8143b"/>
<line x1="106.52" y1="208.75" x2="106.52" y2="211.73" stroke="#c8143b" stroke-width="0.8" />
<line x1="105.52" y1="208.75" x2="107.52" y2="208.75" stroke="#c8143b" stroke-width="0.6" />
<line x1="105.52" y1="211.73" x2="107.52" y2="211.73" stroke="#c8143b" stroke-width="0.6" />
<circle cx="106.52" cy="210.24" r="1" fill="#c8143b"/>
<line x1="110.81" y1="206.18" x2="110.81" y2="209.28" stroke="#c8143b" stroke-width="0.8" />
<line x1="109.81" y1="206.18" x2="111.81" y2="206.18" stroke="#c8143b" stroke-width="0.6" />
<line x1="109.81" y1="209.28" x2="111.81" y2="209.28" stroke="#c8143b" stroke-width="0.6" />
<circle cx="110.81" cy="207.73" r="1" fill="#c8143b"/>
<line x1="115.1" y1="203.77" x2="115.1" y2="206.98" stroke="#c8143b" stroke-width="0.8" />
<line x1="114.1" y1="203.77" x2="116.1" y2="203.77" stroke="#c8143b" stroke-width="0.6" />
<line x1="114.1" y1="206.98" x2="116.1" y2="206.98" stroke="#c8143b" stroke-width="0.6" />
<circle cx="115.1" cy="205.38" r="1" fill="#c8143b"/>
<line x1="119.39" y1="201.82" x2="119.39" y2="205.14" stroke="#c8143b" stroke-width="0.8" />
<line x1="118.39" y1="201.82" x2="120.39" y2="201.82" stroke="#c8143b" stroke-width="0.6" />
<line x1="118.39" y1="205.14" x2="120.39" y2="205.14" stroke="#c8143b" stroke-width="0.6" />
<circle cx="119.39" cy="203.48" r="1" fill="#c8143b"/>
<line x1="123.68" y1="200.01" x2="123.68" y2="203.44" stroke="#c8143b" stroke-width="0.8" />
<line x1="122.68" y1="200.01" x2="124.68" y2="200.01" stroke="#c8143b" stroke-width="0.6" />
<line x1="122.68" y1="203.44" x2="124.68" y2="203.44" stroke="#c8143b" stroke-width="0.6" />
<circle cx="123.68" cy="201.73" r="1" fill="#c8143b"/>
<line x1="127.97" y1="198.21" x2="127.97" y2="201.75" stroke="#c8143b" stroke-width="0.8" />
<line x1="126.97" y1="198.21" x2="128.97" y2="198.21" stroke="#c8143b" stroke-width="0.6" />
<line x1="126.97" y1="201.75" x2="128.97" y2="201.75" stroke="#c8143b" stroke-width="0.6" />
<circle cx="127.97" cy="199.98" r="1" fill="#c8143b"/>
<line x1="132.26" y1="196.47" x2="132.26" y2="200.12" stroke="#c8143b" stroke-width="0.8" />
<line x1="131.26" y1="196.47" x2="133.26" y2="196.47" stroke="#c8143b" stroke-width="0.6" />
<line x1="131.26" y1="200.12" x2="133.26" y2="200.12" stroke="#c8143b" stroke-width="0.6" />
<circle cx="132.26" cy="198.29" r="1" fill="#c8143b"/>
<line x1="136.55" y1="195.06" x2="136.55" y2="198.82" stroke="#c8143b" stroke-width="0.8" />
<line x1="135.55" y1="195.06" x2="137.55" y2="195.06" stroke="#c8143b" stroke-width="0.6" />
<line x1="135.55" y1="198.82" x2="137.55" y2="198.82" stroke="#c8143b" stroke-width="0.6" />
<circle cx="136.55" cy="196.94" r="1" fill="#c8143b"/>
<line x1="140.84" y1="193.91" x2="140.84" y2="197.78" stroke="#c8143b" stroke-width="0.8" />
<line x1="139.84" y1="193.91" x2="141.84" y2="193.91" stroke="#c8143b" stroke-width="0.6" />
<line x1="139.84" y1="197.78" x2="141.84" y2="197.78" stroke="#c8143b" stroke-width="0.6" />
<circle cx="140.84" cy="195.85" r="1" fill="#c8143b"/>
<line x1="145.13" y1="192.77" x2="145.13" y2="196.75" stroke="#c8143b" stroke-width="0.8" />
<line x1="144.13" y1="192.77" x2="146.13" y2="192.77" stroke="#c8143b" stroke-width="0.6" />
<line x1="144.13" y1="196.75" x2="146.13" y2="196.75" stroke="#c8143b" stroke-width="0.6" />
<circle cx="145.13" cy="194.76" r="1" fill="#c8143b"/>
<line x1="149.42" y1="191.62" x2="149.42" y2="195.71" stroke="#c8143b" stroke-width="0.8" />
<line x1="148.42" y1="191.62" x2="150.42" y2="191.62" stroke="#c8143b" stroke-width="0.6" />
<line x1="148.42" y1="195.71" x2="150.42" y2="195.71" stroke="#c8143b" stroke-width="0.6" />
<circle cx="149.42" cy="193.67" r="1" fill="#c8143b"/>
<line x1="153.71" y1="190.66" x2="153.71" y2="194.87" stroke="#c8143b" stroke-width="0.8" />
<line x1="152.71" y1="190.66" x2="154.71" y2="190.66" stroke="#c8143b" stroke-width="0.6" />
<line x1="152.71" y1="194.87" x2="154.71" y2="194.87" stroke="#c8143b" stroke-width="0.6" />
<circle cx="153.71" cy="192.77" r="1" fill="#c8143b"/>
<line x1="158" y1="189.9" x2="158" y2="194.21" stroke="#c8143b" stroke-width="0.8" />
<line x1="157" y1="189.9" x2="159" y2="189.9" stroke="#c8143b" stroke-width="0.6" />
<line x1="157" y1="194.21" x2="159" y2="194.21" stroke="#c8143b" stroke-width="0.6" />
<circle cx="158" cy="192.06" r="1" fill="#c8143b"/>
<line x1="162.29" y1="189.16" x2="162.29" y2="193.58" stroke="#c8143b" stroke-width="0.8" />
<line x1="161.29" y1="189.16" x2="163.29" y2="189.16" stroke="#c8143b" stroke-width="0.6" />
<line x1="161.29" y1="193.58" x2="163.29" y2="193.58" stroke="#c8143b" stroke-width="0.6" />
<circle cx="162.29" cy="191.37" r="1" fill="#c8143b"/>
<line x1="166.58" y1="188.42" x2="166.58" y2="192.96" stroke="#c8143b" stroke-width="0.8" />
<line x1="165.58" y1="188.42" x2="167.58" y2="188.42" stroke="#c8143b" stroke-width="0.6" />
<line x1="165.58" y1="192.96" x2="167.58" y2="192.96" stroke="#c8143b" stroke-width="0.6" />
<circle cx="166.58" cy="190.69" r="1" fill="#c8143b"/>
<line x1="170.87" y1="187.68" x2="170.87" y2="192.33" stroke="#c8143b" stroke-width="0.8" />
<line x1="169.87" y1="187.68" x2="171.87" y2="187.68" stroke="#c8143b" stroke-width="0.6" />
<line x1="169.87" y1="192.33" x2="171.87" y2="192.33" stroke="#c8143b" stroke-width="0.6" />
<circle cx="170.87" cy="190" r="1" fill="#c8143b"/>
<text x="291.6" y="170.72" font-size="11.2" fill="#000" font-weight="bold">C</text>
<text x="405.3" y="170.87" font-size="10.2" textLength="21.2" lengthAdjust="spacingAndGlyphs">U937</text>
<line x1="336.3" y1="174.8" x2="336.3" y2="265.2" stroke="#1a1818" stroke-width="1.3" />
<line x1="333.3" y1="265.2" x2="336.3" y2="265.2" stroke="#1a1818" stroke-width="0.9" />
<text x="330.7" y="268.28" font-size="8.8" text-anchor="end" textLength="4.45" lengthAdjust="spacingAndGlyphs">0</text>
<line x1="333.3" y1="243.25" x2="336.3" y2="243.25" stroke="#1a1818" stroke-width="0.9" />
<text x="330.7" y="246.33" font-size="8.8" text-anchor="end" textLength="13.35" lengthAdjust="spacingAndGlyphs">500</text>
<line x1="333.3" y1="221.3" x2="336.3" y2="221.3" stroke="#1a1818" stroke-width="0.9" />
<text x="330.7" y="224.38" font-size="8.8" text-anchor="end" textLength="17.8" lengthAdjust="spacingAndGlyphs">1000</text>
<line x1="333.3" y1="199.35" x2="336.3" y2="199.35" stroke="#1a1818" stroke-width="0.9" />
<text x="330.7" y="202.43" font-size="8.8" text-anchor="end" textLength="17.8" lengthAdjust="spacingAndGlyphs">1500</text>
<line x1="333.3" y1="177.4" x2="336.3" y2="177.4" stroke="#1a1818" stroke-width="0.9" />
<text x="330.7" y="180.48" font-size="8.8" text-anchor="end" textLength="17.8" lengthAdjust="spacingAndGlyphs">2000</text>
<line x1="333.5" y1="265.2" x2="512.6" y2="265.2" stroke="#1a1818" stroke-width="1.3" />
<text x="305.8" y="220.3" font-size="9" text-anchor="middle" textLength="76.8" lengthAdjust="spacingAndGlyphs" transform="rotate(-90 305.8 220.3)">Annexin-V(+)cells/field</text>
<rect x="341" y="255.45" width="8.6" height="9.75" fill="#3cb44b"/>
<line x1="345.3" y1="255.02" x2="345.3" y2="255.45" stroke="#1a1818" stroke-width="0.9" />
<line x1="343.1" y1="255.02" x2="347.5" y2="255.02" stroke="#1a1818" stroke-width="1" />
<line x1="345.3" y1="265.2" x2="345.3" y2="268.5" stroke="#1a1818" stroke-width="0.9" />
<rect x="354.2" y="255.85" width="8.6" height="9.35" fill="#1b5a91"/>
<line x1="358.5" y1="255.5" x2="358.5" y2="255.85" stroke="#1a1818" stroke-width="0.9" />
<line x1="356.3" y1="255.5" x2="360.7" y2="255.5" stroke="#1a1818" stroke-width="1" />
<line x1="358.5" y1="265.2" x2="358.5" y2="268.5" stroke="#1a1818" stroke-width="0.9" />
<rect x="367.4" y="255.19" width="8.6" height="10.01" fill="#1b5a91"/>
<line x1="371.7" y1="254.75" x2="371.7" y2="255.19" stroke="#1a1818" stroke-width="0.9" />
<line x1="369.5" y1="254.75" x2="373.9" y2="254.75" stroke="#1a1818" stroke-width="1" />
<line x1="371.7" y1="265.2" x2="371.7" y2="268.5" stroke="#1a1818" stroke-width="0.9" />
<rect x="380.6" y="254.44" width="8.6" height="10.76" fill="#1b5a91"/>
<line x1="384.9" y1="254.01" x2="384.9" y2="254.44" stroke="#1a1818" stroke-width="0.9" />
<line x1="382.7" y1="254.01" x2="387.1" y2="254.01" stroke="#1a1818" stroke-width="1" />
<line x1="384.9" y1="265.2" x2="384.9" y2="268.5" stroke="#1a1818" stroke-width="0.9" />
<rect x="393.8" y="253.17" width="8.6" height="12.03" fill="#5b2a82"/>
<line x1="398.1" y1="252.51" x2="398.1" y2="253.17" stroke="#1a1818" stroke-width="0.9" />
<line x1="395.9" y1="252.51" x2="400.3" y2="252.51" stroke="#1a1818" stroke-width="1" />
<line x1="398.1" y1="265.2" x2="398.1" y2="268.5" stroke="#1a1818" stroke-width="0.9" />
<rect x="407" y="249.4" width="8.6" height="15.8" fill="#5b2a82"/>
<line x1="411.3" y1="248.3" x2="411.3" y2="249.4" stroke="#1a1818" stroke-width="0.9" />
<line x1="409.1" y1="248.3" x2="413.5" y2="248.3" stroke="#1a1818" stroke-width="1" />
<line x1="411.3" y1="265.2" x2="411.3" y2="268.5" stroke="#1a1818" stroke-width="0.9" />
<rect x="420.2" y="248.61" width="8.6" height="16.59" fill="#5b2a82"/>
<line x1="424.5" y1="247.07" x2="424.5" y2="248.61" stroke="#1a1818" stroke-width="0.9" />
<line x1="422.3" y1="247.07" x2="426.7" y2="247.07" stroke="#1a1818" stroke-width="1" />
<line x1="424.5" y1="265.2" x2="424.5" y2="268.5" stroke="#1a1818" stroke-width="0.9" />
<rect x="433.4" y="247.42" width="8.6" height="17.78" fill="#f7941d"/>
<line x1="437.7" y1="246.32" x2="437.7" y2="247.42" stroke="#1a1818" stroke-width="0.9" />
<line x1="435.5" y1="246.32" x2="439.9" y2="246.32" stroke="#1a1818" stroke-width="1" />
<line x1="437.7" y1="265.2" x2="437.7" y2="268.5" stroke="#1a1818" stroke-width="0.9" />
<rect x="446.6" y="247.64" width="8.6" height="17.56" fill="#f7941d"/>
<line x1="450.9" y1="247.11" x2="450.9" y2="247.64" stroke="#1a1818" stroke-width="0.9" />
<line x1="448.7" y1="247.11" x2="453.1" y2="247.11" stroke="#1a1818" stroke-width="1" />
<line x1="450.9" y1="265.2" x2="450.9" y2="268.5" stroke="#1a1818" stroke-width="0.9" />
<rect x="459.8" y="247.42" width="8.6" height="17.78" fill="#f7941d"/>
<line x1="464.1" y1="246.63" x2="464.1" y2="247.42" stroke="#1a1818" stroke-width="0.9" />
<line x1="461.9" y1="246.63" x2="466.3" y2="246.63" stroke="#1a1818" stroke-width="1" />
<line x1="464.1" y1="265.2" x2="464.1" y2="268.5" stroke="#1a1818" stroke-width="0.9" />
<rect x="473" y="244.35" width="8.6" height="20.85" fill="#c8102e"/>
<line x1="477.3" y1="242.59" x2="477.3" y2="244.35" stroke="#1a1818" stroke-width="0.9" />
<line x1="475.1" y1="242.59" x2="479.5" y2="242.59" stroke="#1a1818" stroke-width="1" />
<line x1="477.3" y1="265.2" x2="477.3" y2="268.5" stroke="#1a1818" stroke-width="0.9" />
<rect x="486.2" y="206.55" width="8.6" height="58.65" fill="#c8102e"/>
<line x1="490.5" y1="203.48" x2="490.5" y2="206.55" stroke="#1a1818" stroke-width="0.9" />
<line x1="488.3" y1="203.48" x2="492.7" y2="203.48" stroke="#1a1818" stroke-width="1" />
<line x1="490.5" y1="265.2" x2="490.5" y2="268.5" stroke="#1a1818" stroke-width="0.9" />
<rect x="499.4" y="181.7" width="8.6" height="83.5" fill="#c8102e"/>
<line x1="503.7" y1="179.51" x2="503.7" y2="181.7" stroke="#1a1818" stroke-width="0.9" />
<line x1="501.5" y1="179.51" x2="505.9" y2="179.51" stroke="#1a1818" stroke-width="1" />
<line x1="503.7" y1="265.2" x2="503.7" y2="268.5" stroke="#1a1818" stroke-width="0.9" />
<text x="346.5" y="275" font-size="8.3" text-anchor="end" transform="rotate(-45 346.5 275)">U937</text>
<text x="359.7" y="275" font-size="8.3" text-anchor="end" transform="rotate(-45 359.7 275)">Rituximab-1&#181;g/ml</text>
<text x="372.9" y="275" font-size="8.3" text-anchor="end" transform="rotate(-45 372.9 275)">Rituximab-5&#181;g/ml</text>
<text x="386.1" y="275" font-size="8.3" text-anchor="end" transform="rotate(-45 386.1 275)">Rituximab-10&#181;g/ml</text>
<text x="399.3" y="275" font-size="8.3" text-anchor="end" transform="rotate(-45 399.3 275)">ChT-1A5-1&#181;g/ml</text>
<text x="412.5" y="275" font-size="8.3" text-anchor="end" transform="rotate(-45 412.5 275)">ChT-1A5-5&#181;g/ml</text>
<text x="425.7" y="275" font-size="8.3" text-anchor="end" transform="rotate(-45 425.7 275)">ChT1A5-10&#181;g/ml</text>
<text x="438.9" y="275" font-size="8.3" text-anchor="end" transform="rotate(-45 438.9 275)">NK+Rituximab-1&#181;g/ml</text>
<text x="452.1" y="275" font-size="8.3" text-anchor="end" transform="rotate(-45 452.1 275)">NK+Rituximab-5&#181;g/ml</text>
<text x="465.3" y="275" font-size="8.3" text-anchor="end" transform="rotate(-45 465.3 275)">NK+Rituximab-10&#181;g/ml</text>
<text x="478.5" y="275" font-size="8.3" text-anchor="end" transform="rotate(-45 478.5 275)">NK+ChT-1A5-1&#181;g/ml</text>
<text x="491.7" y="275" font-size="8.3" text-anchor="end" transform="rotate(-45 491.7 275)">NK+ChT-1A5-5&#181;g/ml</text>
<text x="504.9" y="275" font-size="8.3" text-anchor="end" transform="rotate(-45 504.9 275)">NK+ChT-1A5-10&#181;g/ml</text>
<line x1="462.4" y1="174.5" x2="502.3" y2="174.5" stroke="#3a3a3a" stroke-width="1" />
<line x1="462.4" y1="171.5" x2="462.4" y2="178" stroke="#3a3a3a" stroke-width="1" />
<line x1="502.3" y1="171.5" x2="502.3" y2="178" stroke="#3a3a3a" stroke-width="1" />
<text x="482.35" y="174.91" font-size="8.6" text-anchor="middle" textLength="9.6" lengthAdjust="spacingAndGlyphs">***</text>
<line x1="449.4" y1="198.5" x2="489" y2="198.5" stroke="#3a3a3a" stroke-width="1" />
<line x1="449.4" y1="195.5" x2="449.4" y2="202" stroke="#3a3a3a" stroke-width="1" />
<line x1="489" y1="195.5" x2="489" y2="202" stroke="#3a3a3a" stroke-width="1" />
<text x="469.2" y="198.91" font-size="8.6" text-anchor="middle" textLength="9.6" lengthAdjust="spacingAndGlyphs">***</text>
<text x="7.1" y="352.72" font-size="11.2" fill="#000" font-weight="bold">D</text>
<line x1="51" y1="364" x2="51" y2="448.5" stroke="#1a1818" stroke-width="1.25" />
<line x1="48.2" y1="447.3" x2="51" y2="447.3" stroke="#1a1818" stroke-width="0.9" />
<text x="45.5" y="450.38" font-size="8.8" text-anchor="end" textLength="4.55" lengthAdjust="spacingAndGlyphs">0</text>
<line x1="48.2" y1="431.24" x2="51" y2="431.24" stroke="#1a1818" stroke-width="0.9" />
<text x="45.5" y="434.32" font-size="8.8" text-anchor="end" textLength="13.65" lengthAdjust="spacingAndGlyphs">100</text>
<line x1="48.2" y1="415.18" x2="51" y2="415.18" stroke="#1a1818" stroke-width="0.9" />
<text x="45.5" y="418.26" font-size="8.8" text-anchor="end" textLength="13.65" lengthAdjust="spacingAndGlyphs">200</text>
<line x1="48.2" y1="399.12" x2="51" y2="399.12" stroke="#1a1818" stroke-width="0.9" />
<text x="45.5" y="402.2" font-size="8.8" text-anchor="end" textLength="13.65" lengthAdjust="spacingAndGlyphs">300</text>
<line x1="48.2" y1="383.06" x2="51" y2="383.06" stroke="#1a1818" stroke-width="0.9" />
<text x="45.5" y="386.14" font-size="8.8" text-anchor="end" textLength="13.65" lengthAdjust="spacingAndGlyphs">400</text>
<line x1="48.2" y1="367" x2="51" y2="367" stroke="#1a1818" stroke-width="0.9" />
<text x="45.5" y="370.08" font-size="8.8" text-anchor="end" textLength="13.65" lengthAdjust="spacingAndGlyphs">500</text>
<line x1="50.5" y1="448.5" x2="173.52" y2="448.5" stroke="#1a1818" stroke-width="1.3" />
<line x1="51" y1="448.5" x2="51" y2="451.7" stroke="#1a1818" stroke-width="0.9" />
<text x="51" y="461.42" font-size="8.9" text-anchor="middle" textLength="4.4" lengthAdjust="spacingAndGlyphs">0</text>
<line x1="60.96" y1="448.5" x2="60.96" y2="451.7" stroke="#1a1818" stroke-width="0.9" />
<text x="60.96" y="461.42" font-size="8.9" text-anchor="middle" textLength="4.4" lengthAdjust="spacingAndGlyphs">1</text>
<line x1="70.92" y1="448.5" x2="70.92" y2="451.7" stroke="#1a1818" stroke-width="0.9" />
<text x="70.92" y="461.42" font-size="8.9" text-anchor="middle" textLength="4.4" lengthAdjust="spacingAndGlyphs">2</text>
<line x1="80.88" y1="448.5" x2="80.88" y2="451.7" stroke="#1a1818" stroke-width="0.9" />
<text x="80.88" y="461.42" font-size="8.9" text-anchor="middle" textLength="4.4" lengthAdjust="spacingAndGlyphs">3</text>
<line x1="90.84" y1="448.5" x2="90.84" y2="451.7" stroke="#1a1818" stroke-width="0.9" />
<text x="90.84" y="461.42" font-size="8.9" text-anchor="middle" textLength="4.4" lengthAdjust="spacingAndGlyphs">4</text>
<line x1="100.8" y1="448.5" x2="100.8" y2="451.7" stroke="#1a1818" stroke-width="0.9" />
<text x="100.8" y="461.42" font-size="8.9" text-anchor="middle" textLength="4.4" lengthAdjust="spacingAndGlyphs">5</text>
<line x1="110.76" y1="448.5" x2="110.76" y2="451.7" stroke="#1a1818" stroke-width="0.9" />
<text x="110.76" y="461.42" font-size="8.9" text-anchor="middle" textLength="4.4" lengthAdjust="spacingAndGlyphs">6</text>
<line x1="120.72" y1="448.5" x2="120.72" y2="451.7" stroke="#1a1818" stroke-width="0.9" />
<text x="120.72" y="461.42" font-size="8.9" text-anchor="middle" textLength="4.4" lengthAdjust="spacingAndGlyphs">7</text>
<line x1="130.68" y1="448.5" x2="130.68" y2="451.7" stroke="#1a1818" stroke-width="0.9" />
<text x="130.68" y="461.42" font-size="8.9" text-anchor="middle" textLength="4.4" lengthAdjust="spacingAndGlyphs">8</text>
<line x1="140.64" y1="448.5" x2="140.64" y2="451.7" stroke="#1a1818" stroke-width="0.9" />
<text x="140.64" y="461.42" font-size="8.9" text-anchor="middle" textLength="4.4" lengthAdjust="spacingAndGlyphs">9</text>
<line x1="150.6" y1="448.5" x2="150.6" y2="451.7" stroke="#1a1818" stroke-width="0.9" />
<text x="150.6" y="461.42" font-size="8.9" text-anchor="middle" textLength="8.6" lengthAdjust="spacingAndGlyphs">10</text>
<line x1="160.56" y1="448.5" x2="160.56" y2="451.7" stroke="#1a1818" stroke-width="0.9" />
<text x="160.56" y="461.42" font-size="8.9" text-anchor="middle" textLength="8.6" lengthAdjust="spacingAndGlyphs">11</text>
<line x1="170.52" y1="448.5" x2="170.52" y2="451.7" stroke="#1a1818" stroke-width="0.9" />
<text x="170.52" y="461.42" font-size="8.9" text-anchor="middle" textLength="8.6" lengthAdjust="spacingAndGlyphs">12</text>
<line x1="52.5" y1="447.3" x2="170.52" y2="447.3" stroke="#222" stroke-width="0.9" stroke-dasharray="0.9,1.6"/>
<text x="112.6" y="473.75" font-size="9" text-anchor="middle" textLength="41.3" lengthAdjust="spacingAndGlyphs">Time (hours)</text>
<text x="25.4" y="406.4" font-size="9" text-anchor="middle" textLength="76.6" lengthAdjust="spacingAndGlyphs" transform="rotate(-90 25.4 406.4)">Annexin-V(+)cells/field</text>
<text x="91.7" y="367.56" font-size="9.6" textLength="39.8" lengthAdjust="spacingAndGlyphs">Patient -1</text>
<path d="M51,447.3 L60.96,447.3 L70.92,447.14 L80.88,447.14 L90.84,447.14 L100.8,446.98 L110.76,446.98 L120.72,446.82 L130.68,446.82 L140.64,446.66 L150.6,446.66 L160.56,446.5 L170.52,446.34" fill="none" stroke="#c8143b" stroke-width="1" stroke-linejoin="round" />
<circle cx="51" cy="447.3" r="0.9" fill="#c8143b"/>
<circle cx="60.96" cy="447.3" r="0.9" fill="#c8143b"/>
<circle cx="70.92" cy="447.14" r="0.9" fill="#c8143b"/>
<circle cx="80.88" cy="447.14" r="0.9" fill="#c8143b"/>
<circle cx="90.84" cy="447.14" r="0.9" fill="#c8143b"/>
<circle cx="100.8" cy="446.98" r="0.9" fill="#c8143b"/>
<circle cx="110.76" cy="446.98" r="0.9" fill="#c8143b"/>
<circle cx="120.72" cy="446.82" r="0.9" fill="#c8143b"/>
<circle cx="130.68" cy="446.82" r="0.9" fill="#c8143b"/>
<circle cx="140.64" cy="446.66" r="0.9" fill="#c8143b"/>
<circle cx="150.6" cy="446.66" r="0.9" fill="#c8143b"/>
<circle cx="160.56" cy="446.5" r="0.9" fill="#c8143b"/>
<circle cx="170.52" cy="446.34" r="0.9" fill="#c8143b"/>
<path d="M51,447.3 L60.96,447.14 L70.92,447.14 L80.88,446.98 L90.84,446.82 L100.8,446.66 L110.76,446.5 L120.72,446.34 L130.68,446.18 L140.64,446.02 L150.6,445.85 L160.56,445.69 L170.52,445.53" fill="none" stroke="#f7941d" stroke-width="1" stroke-linejoin="round" />
<circle cx="51" cy="447.3" r="0.9" fill="#f7941d"/>
<circle cx="60.96" cy="447.14" r="0.9" fill="#f7941d"/>
<circle cx="70.92" cy="447.14" r="0.9" fill="#f7941d"/>
<circle cx="80.88" cy="446.98" r="0.9" fill="#f7941d"/>
<circle cx="90.84" cy="446.82" r="0.9" fill="#f7941d"/>
<circle cx="100.8" cy="446.66" r="0.9" fill="#f7941d"/>
<circle cx="110.76" cy="446.5" r="0.9" fill="#f7941d"/>
<circle cx="120.72" cy="446.34" r="0.9" fill="#f7941d"/>
<circle cx="130.68" cy="446.18" r="0.9" fill="#f7941d"/>
<circle cx="140.64" cy="446.02" r="0.9" fill="#f7941d"/>
<circle cx="150.6" cy="445.85" r="0.9" fill="#f7941d"/>
<circle cx="160.56" cy="445.69" r="0.9" fill="#f7941d"/>
<circle cx="170.52" cy="445.53" r="0.9" fill="#f7941d"/>
<path d="M51,447.3 L60.96,447.14 L70.92,446.98 L80.88,446.82 L90.84,446.66 L100.8,446.5 L110.76,446.34 L120.72,446.18 L130.68,446.02 L140.64,445.69 L150.6,445.05 L160.56,444.73 L170.52,444.25" fill="none" stroke="#5b2a82" stroke-width="1" stroke-linejoin="round" />
<circle cx="51" cy="447.3" r="0.9" fill="#5b2a82"/>
<circle cx="60.96" cy="447.14" r="0.9" fill="#5b2a82"/>
<circle cx="70.92" cy="446.98" r="0.9" fill="#5b2a82"/>
<circle cx="80.88" cy="446.82" r="0.9" fill="#5b2a82"/>
<circle cx="90.84" cy="446.66" r="0.9" fill="#5b2a82"/>
<circle cx="100.8" cy="446.5" r="0.9" fill="#5b2a82"/>
<circle cx="110.76" cy="446.34" r="0.9" fill="#5b2a82"/>
<circle cx="120.72" cy="446.18" r="0.9" fill="#5b2a82"/>
<circle cx="130.68" cy="446.02" r="0.9" fill="#5b2a82"/>
<circle cx="140.64" cy="445.69" r="0.9" fill="#5b2a82"/>
<circle cx="150.6" cy="445.05" r="0.9" fill="#5b2a82"/>
<circle cx="160.56" cy="444.73" r="0.9" fill="#5b2a82"/>
<circle cx="170.52" cy="444.25" r="0.9" fill="#5b2a82"/>
<path d="M51,447.3 L60.96,447.3 L70.92,447.3 L80.88,447.3 L90.84,447.14 L100.8,447.14 L110.76,447.14 L120.72,447.14 L130.68,446.98 L140.64,446.98 L150.6,446.98 L160.56,446.98 L170.52,446.82" fill="none" stroke="#3cb44b" stroke-width="1" stroke-linejoin="round" />
<circle cx="51" cy="447.3" r="0.9" fill="#3cb44b"/>
<circle cx="60.96" cy="447.3" r="0.9" fill="#3cb44b"/>
<circle cx="70.92" cy="447.3" r="0.9" fill="#3cb44b"/>
<circle cx="80.88" cy="447.3" r="0.9" fill="#3cb44b"/>
<circle cx="90.84" cy="447.14" r="0.9" fill="#3cb44b"/>
<circle cx="100.8" cy="447.14" r="0.9" fill="#3cb44b"/>
<circle cx="110.76" cy="447.14" r="0.9" fill="#3cb44b"/>
<circle cx="120.72" cy="447.14" r="0.9" fill="#3cb44b"/>
<circle cx="130.68" cy="446.98" r="0.9" fill="#3cb44b"/>
<circle cx="140.64" cy="446.98" r="0.9" fill="#3cb44b"/>
<circle cx="150.6" cy="446.98" r="0.9" fill="#3cb44b"/>
<circle cx="160.56" cy="446.98" r="0.9" fill="#3cb44b"/>
<circle cx="170.52" cy="446.82" r="0.9" fill="#3cb44b"/>
<path d="M51,432.69 L60.96,426.1 L70.92,422.41 L80.88,419.03 L90.84,416.63 L100.8,415.82 L110.76,414.06 L120.72,412.93 L130.68,411.17 L140.64,411.17 L150.6,410.04 L160.56,410.04 L170.52,410.36" fill="none" stroke="#1f5b97" stroke-width="1.2" stroke-linejoin="round" />
<line x1="51" y1="431.69" x2="51" y2="433.69" stroke="#1f5b97" stroke-width="0.8" />
<line x1="49.9" y1="431.69" x2="52.1" y2="431.69" stroke="#1f5b97" stroke-width="0.7" />
<line x1="49.9" y1="433.69" x2="52.1" y2="433.69" stroke="#1f5b97" stroke-width="0.7" />
<circle cx="51" cy="432.69" r="1.1" fill="#1f5b97"/>
<line x1="60.96" y1="424.6" x2="60.96" y2="427.6" stroke="#1f5b97" stroke-width="0.8" />
<line x1="59.86" y1="424.6" x2="62.06" y2="424.6" stroke="#1f5b97" stroke-width="0.7" />
<line x1="59.86" y1="427.6" x2="62.06" y2="427.6" stroke="#1f5b97" stroke-width="0.7" />
<circle cx="60.96" cy="426.1" r="1.1" fill="#1f5b97"/>
<line x1="70.92" y1="420.91" x2="70.92" y2="423.91" stroke="#1f5b97" stroke-width="0.8" />
<line x1="69.82" y1="420.91" x2="72.02" y2="420.91" stroke="#1f5b97" stroke-width="0.7" />
<line x1="69.82" y1="423.91" x2="72.02" y2="423.91" stroke="#1f5b97" stroke-width="0.7" />
<circle cx="70.92" cy="422.41" r="1.1" fill="#1f5b97"/>
<line x1="80.88" y1="417.03" x2="80.88" y2="421.03" stroke="#1f5b97" stroke-width="0.8" />
<line x1="79.78" y1="417.03" x2="81.98" y2="417.03" stroke="#1f5b97" stroke-width="0.7" />
<line x1="79.78" y1="421.03" x2="81.98" y2="421.03" stroke="#1f5b97" stroke-width="0.7" />
<circle cx="80.88" cy="419.03" r="1.1" fill="#1f5b97"/>
<line x1="90.84" y1="414.63" x2="90.84" y2="418.63" stroke="#1f5b97" stroke-width="0.8" />
<line x1="89.74" y1="414.63" x2="91.94" y2="414.63" stroke="#1f5b97" stroke-width="0.7" />
<line x1="89.74" y1="418.63" x2="91.94" y2="418.63" stroke="#1f5b97" stroke-width="0.7" />
<circle cx="90.84" cy="416.63" r="1.1" fill="#1f5b97"/>
<line x1="100.8" y1="413.82" x2="100.8" y2="417.82" stroke="#1f5b97" stroke-width="0.8" />
<line x1="99.7" y1="413.82" x2="101.9" y2="413.82" stroke="#1f5b97" stroke-width="0.7" />
<line x1="99.7" y1="417.82" x2="101.9" y2="417.82" stroke="#1f5b97" stroke-width="0.7" />
<circle cx="100.8" cy="415.82" r="1.1" fill="#1f5b97"/>
<line x1="110.76" y1="411.56" x2="110.76" y2="416.56" stroke="#1f5b97" stroke-width="0.8" />
<line x1="109.66" y1="411.56" x2="111.86" y2="411.56" stroke="#1f5b97" stroke-width="0.7" />
<line x1="109.66" y1="416.56" x2="111.86" y2="416.56" stroke="#1f5b97" stroke-width="0.7" />
<circle cx="110.76" cy="414.06" r="1.1" fill="#1f5b97"/>
<line x1="120.72" y1="410.43" x2="120.72" y2="415.43" stroke="#1f5b97" stroke-width="0.8" />
<line x1="119.62" y1="410.43" x2="121.82" y2="410.43" stroke="#1f5b97" stroke-width="0.7" />
<line x1="119.62" y1="415.43" x2="121.82" y2="415.43" stroke="#1f5b97" stroke-width="0.7" />
<circle cx="120.72" cy="412.93" r="1.1" fill="#1f5b97"/>
<line x1="130.68" y1="408.17" x2="130.68" y2="414.17" stroke="#1f5b97" stroke-width="0.8" />
<line x1="129.58" y1="408.17" x2="131.78" y2="408.17" stroke="#1f5b97" stroke-width="0.7" />
<line x1="129.58" y1="414.17" x2="131.78" y2="414.17" stroke="#1f5b97" stroke-width="0.7" />
<circle cx="130.68" cy="411.17" r="1.1" fill="#1f5b97"/>
<line x1="140.64" y1="408.17" x2="140.64" y2="414.17" stroke="#1f5b97" stroke-width="0.8" />
<line x1="139.54" y1="408.17" x2="141.74" y2="408.17" stroke="#1f5b97" stroke-width="0.7" />
<line x1="139.54" y1="414.17" x2="141.74" y2="414.17" stroke="#1f5b97" stroke-width="0.7" />
<circle cx="140.64" cy="411.17" r="1.1" fill="#1f5b97"/>
<line x1="150.6" y1="407.04" x2="150.6" y2="413.04" stroke="#1f5b97" stroke-width="0.8" />
<line x1="149.5" y1="407.04" x2="151.7" y2="407.04" stroke="#1f5b97" stroke-width="0.7" />
<line x1="149.5" y1="413.04" x2="151.7" y2="413.04" stroke="#1f5b97" stroke-width="0.7" />
<circle cx="150.6" cy="410.04" r="1.1" fill="#1f5b97"/>
<line x1="160.56" y1="407.04" x2="160.56" y2="413.04" stroke="#1f5b97" stroke-width="0.8" />
<line x1="159.46" y1="407.04" x2="161.66" y2="407.04" stroke="#1f5b97" stroke-width="0.7" />
<line x1="159.46" y1="413.04" x2="161.66" y2="413.04" stroke="#1f5b97" stroke-width="0.7" />
<circle cx="160.56" cy="410.04" r="1.1" fill="#1f5b97"/>
<line x1="170.52" y1="407.36" x2="170.52" y2="413.36" stroke="#1f5b97" stroke-width="0.8" />
<line x1="169.42" y1="407.36" x2="171.62" y2="407.36" stroke="#1f5b97" stroke-width="0.7" />
<line x1="169.42" y1="413.36" x2="171.62" y2="413.36" stroke="#1f5b97" stroke-width="0.7" />
<circle cx="170.52" cy="410.36" r="1.1" fill="#1f5b97"/>
<path d="M51,431.24 L60.96,418.39 L70.92,410.36 L80.88,401.53 L90.84,395.43 L100.8,389.48 L110.76,385.63 L120.72,381.94 L130.68,379.37 L140.64,376.64 L150.6,374.55 L160.56,374.23 L170.52,373.42" fill="none" stroke="#d4163c" stroke-width="1.2" stroke-linejoin="round" />
<line x1="51" y1="429.74" x2="51" y2="432.74" stroke="#d4163c" stroke-width="0.8" />
<line x1="49.9" y1="429.74" x2="52.1" y2="429.74" stroke="#d4163c" stroke-width="0.7" />
<line x1="49.9" y1="432.74" x2="52.1" y2="432.74" stroke="#d4163c" stroke-width="0.7" />
<circle cx="51" cy="431.24" r="1.1" fill="#d4163c"/>
<line x1="60.96" y1="416.39" x2="60.96" y2="420.39" stroke="#d4163c" stroke-width="0.8" />
<line x1="59.86" y1="416.39" x2="62.06" y2="416.39" stroke="#d4163c" stroke-width="0.7" />
<line x1="59.86" y1="420.39" x2="62.06" y2="420.39" stroke="#d4163c" stroke-width="0.7" />
<circle cx="60.96" cy="418.39" r="1.1" fill="#d4163c"/>
<line x1="70.92" y1="408.36" x2="70.92" y2="412.36" stroke="#d4163c" stroke-width="0.8" />
<line x1="69.82" y1="408.36" x2="72.02" y2="408.36" stroke="#d4163c" stroke-width="0.7" />
<line x1="69.82" y1="412.36" x2="72.02" y2="412.36" stroke="#d4163c" stroke-width="0.7" />
<circle cx="70.92" cy="410.36" r="1.1" fill="#d4163c"/>
<line x1="80.88" y1="399.03" x2="80.88" y2="404.03" stroke="#d4163c" stroke-width="0.8" />
<line x1="79.78" y1="399.03" x2="81.98" y2="399.03" stroke="#d4163c" stroke-width="0.7" />
<line x1="79.78" y1="404.03" x2="81.98" y2="404.03" stroke="#d4163c" stroke-width="0.7" />
<circle cx="80.88" cy="401.53" r="1.1" fill="#d4163c"/>
<line x1="90.84" y1="392.43" x2="90.84" y2="398.43" stroke="#d4163c" stroke-width="0.8" />
<line x1="89.74" y1="392.43" x2="91.94" y2="392.43" stroke="#d4163c" stroke-width="0.7" />
<line x1="89.74" y1="398.43" x2="91.94" y2="398.43" stroke="#d4163c" stroke-width="0.7" />
<circle cx="90.84" cy="395.43" r="1.1" fill="#d4163c"/>
<line x1="100.8" y1="386.48" x2="100.8" y2="392.48" stroke="#d4163c" stroke-width="0.8" />
<line x1="99.7" y1="386.48" x2="101.9" y2="386.48" stroke="#d4163c" stroke-width="0.7" />
<line x1="99.7" y1="392.48" x2="101.9" y2="392.48" stroke="#d4163c" stroke-width="0.7" />
<circle cx="100.8" cy="389.48" r="1.1" fill="#d4163c"/>
<line x1="110.76" y1="382.13" x2="110.76" y2="389.13" stroke="#d4163c" stroke-width="0.8" />
<line x1="109.66" y1="382.13" x2="111.86" y2="382.13" stroke="#d4163c" stroke-width="0.7" />
<line x1="109.66" y1="389.13" x2="111.86" y2="389.13" stroke="#d4163c" stroke-width="0.7" />
<circle cx="110.76" cy="385.63" r="1.1" fill="#d4163c"/>
<line x1="120.72" y1="378.44" x2="120.72" y2="385.44" stroke="#d4163c" stroke-width="0.8" />
<line x1="119.62" y1="378.44" x2="121.82" y2="378.44" stroke="#d4163c" stroke-width="0.7" />
<line x1="119.62" y1="385.44" x2="121.82" y2="385.44" stroke="#d4163c" stroke-width="0.7" />
<circle cx="120.72" cy="381.94" r="1.1" fill="#d4163c"/>
<line x1="130.68" y1="375.87" x2="130.68" y2="382.87" stroke="#d4163c" stroke-width="0.8" />
<line x1="129.58" y1="375.87" x2="131.78" y2="375.87" stroke="#d4163c" stroke-width="0.7" />
<line x1="129.58" y1="382.87" x2="131.78" y2="382.87" stroke="#d4163c" stroke-width="0.7" />
<circle cx="130.68" cy="379.37" r="1.1" fill="#d4163c"/>
<line x1="140.64" y1="373.14" x2="140.64" y2="380.14" stroke="#d4163c" stroke-width="0.8" />
<line x1="139.54" y1="373.14" x2="141.74" y2="373.14" stroke="#d4163c" stroke-width="0.7" />
<line x1="139.54" y1="380.14" x2="141.74" y2="380.14" stroke="#d4163c" stroke-width="0.7" />
<circle cx="140.64" cy="376.64" r="1.1" fill="#d4163c"/>
<line x1="150.6" y1="371.05" x2="150.6" y2="378.05" stroke="#d4163c" stroke-width="0.8" />
<line x1="149.5" y1="371.05" x2="151.7" y2="371.05" stroke="#d4163c" stroke-width="0.7" />
<line x1="149.5" y1="378.05" x2="151.7" y2="378.05" stroke="#d4163c" stroke-width="0.7" />
<circle cx="150.6" cy="374.55" r="1.1" fill="#d4163c"/>
<line x1="160.56" y1="370.73" x2="160.56" y2="377.73" stroke="#d4163c" stroke-width="0.8" />
<line x1="159.46" y1="370.73" x2="161.66" y2="370.73" stroke="#d4163c" stroke-width="0.7" />
<line x1="159.46" y1="377.73" x2="161.66" y2="377.73" stroke="#d4163c" stroke-width="0.7" />
<circle cx="160.56" cy="374.23" r="1.1" fill="#d4163c"/>
<line x1="170.52" y1="369.92" x2="170.52" y2="376.92" stroke="#d4163c" stroke-width="0.8" />
<line x1="169.42" y1="369.92" x2="171.62" y2="369.92" stroke="#d4163c" stroke-width="0.7" />
<line x1="169.42" y1="376.92" x2="171.62" y2="376.92" stroke="#d4163c" stroke-width="0.7" />
<circle cx="170.52" cy="373.42" r="1.1" fill="#d4163c"/>
<line x1="222.8" y1="366.2" x2="222.8" y2="448.7" stroke="#1a1818" stroke-width="1.25" />
<line x1="220" y1="446.8" x2="222.8" y2="446.8" stroke="#1a1818" stroke-width="0.9" />
<text x="216.8" y="449.88" font-size="8.8" text-anchor="end" textLength="4.55" lengthAdjust="spacingAndGlyphs">0</text>
<line x1="220" y1="427.22" x2="222.8" y2="427.22" stroke="#1a1818" stroke-width="0.9" />
<text x="216.8" y="430.3" font-size="8.8" text-anchor="end" textLength="13.65" lengthAdjust="spacingAndGlyphs">100</text>
<line x1="220" y1="407.64" x2="222.8" y2="407.64" stroke="#1a1818" stroke-width="0.9" />
<text x="216.8" y="410.72" font-size="8.8" text-anchor="end" textLength="13.65" lengthAdjust="spacingAndGlyphs">200</text>
<line x1="220" y1="388.06" x2="222.8" y2="388.06" stroke="#1a1818" stroke-width="0.9" />
<text x="216.8" y="391.14" font-size="8.8" text-anchor="end" textLength="13.65" lengthAdjust="spacingAndGlyphs">300</text>
<line x1="220" y1="368.48" x2="222.8" y2="368.48" stroke="#1a1818" stroke-width="0.9" />
<text x="216.8" y="371.56" font-size="8.8" text-anchor="end" textLength="13.65" lengthAdjust="spacingAndGlyphs">400</text>
<line x1="222.3" y1="448.7" x2="345.2" y2="448.7" stroke="#1a1818" stroke-width="1.3" />
<line x1="222.8" y1="448.7" x2="222.8" y2="451.9" stroke="#1a1818" stroke-width="0.9" />
<text x="222.8" y="461.42" font-size="8.9" text-anchor="middle" textLength="4.4" lengthAdjust="spacingAndGlyphs">0</text>
<line x1="232.75" y1="448.7" x2="232.75" y2="451.9" stroke="#1a1818" stroke-width="0.9" />
<text x="232.75" y="461.42" font-size="8.9" text-anchor="middle" textLength="4.4" lengthAdjust="spacingAndGlyphs">1</text>
<line x1="242.7" y1="448.7" x2="242.7" y2="451.9" stroke="#1a1818" stroke-width="0.9" />
<text x="242.7" y="461.42" font-size="8.9" text-anchor="middle" textLength="4.4" lengthAdjust="spacingAndGlyphs">2</text>
<line x1="252.65" y1="448.7" x2="252.65" y2="451.9" stroke="#1a1818" stroke-width="0.9" />
<text x="252.65" y="461.42" font-size="8.9" text-anchor="middle" textLength="4.4" lengthAdjust="spacingAndGlyphs">3</text>
<line x1="262.6" y1="448.7" x2="262.6" y2="451.9" stroke="#1a1818" stroke-width="0.9" />
<text x="262.6" y="461.42" font-size="8.9" text-anchor="middle" textLength="4.4" lengthAdjust="spacingAndGlyphs">4</text>
<line x1="272.55" y1="448.7" x2="272.55" y2="451.9" stroke="#1a1818" stroke-width="0.9" />
<text x="272.55" y="461.42" font-size="8.9" text-anchor="middle" textLength="4.4" lengthAdjust="spacingAndGlyphs">5</text>
<line x1="282.5" y1="448.7" x2="282.5" y2="451.9" stroke="#1a1818" stroke-width="0.9" />
<text x="282.5" y="461.42" font-size="8.9" text-anchor="middle" textLength="4.4" lengthAdjust="spacingAndGlyphs">6</text>
<line x1="292.45" y1="448.7" x2="292.45" y2="451.9" stroke="#1a1818" stroke-width="0.9" />
<text x="292.45" y="461.42" font-size="8.9" text-anchor="middle" textLength="4.4" lengthAdjust="spacingAndGlyphs">7</text>
<line x1="302.4" y1="448.7" x2="302.4" y2="451.9" stroke="#1a1818" stroke-width="0.9" />
<text x="302.4" y="461.42" font-size="8.9" text-anchor="middle" textLength="4.4" lengthAdjust="spacingAndGlyphs">8</text>
<line x1="312.35" y1="448.7" x2="312.35" y2="451.9" stroke="#1a1818" stroke-width="0.9" />
<text x="312.35" y="461.42" font-size="8.9" text-anchor="middle" textLength="4.4" lengthAdjust="spacingAndGlyphs">9</text>
<line x1="322.3" y1="448.7" x2="322.3" y2="451.9" stroke="#1a1818" stroke-width="0.9" />
<text x="322.3" y="461.42" font-size="8.9" text-anchor="middle" textLength="8.6" lengthAdjust="spacingAndGlyphs">10</text>
<line x1="332.25" y1="448.7" x2="332.25" y2="451.9" stroke="#1a1818" stroke-width="0.9" />
<text x="332.25" y="461.42" font-size="8.9" text-anchor="middle" textLength="8.6" lengthAdjust="spacingAndGlyphs">11</text>
<line x1="342.2" y1="448.7" x2="342.2" y2="451.9" stroke="#1a1818" stroke-width="0.9" />
<text x="342.2" y="461.42" font-size="8.9" text-anchor="middle" textLength="8.6" lengthAdjust="spacingAndGlyphs">12</text>
<line x1="224.3" y1="446.8" x2="342.2" y2="446.8" stroke="#222" stroke-width="0.9" stroke-dasharray="0.9,1.6"/>
<text x="284.5" y="473.75" font-size="9" text-anchor="middle" textLength="41.3" lengthAdjust="spacingAndGlyphs">Time (hours)</text>
<text x="197.3" y="407.7" font-size="9" text-anchor="middle" textLength="76.6" lengthAdjust="spacingAndGlyphs" transform="rotate(-90 197.3 407.7)">Annexin-V(+)cells/field</text>
<text x="251.1" y="370.26" font-size="9.6" textLength="40.9" lengthAdjust="spacingAndGlyphs">Patient -2</text>
<path d="M222.8,446.8 L232.75,446.02 L242.7,445.23 L252.65,444.25 L262.6,443.47 L272.55,442.69 L282.5,441.71 L292.45,440.93 L302.4,440.14 L312.35,439.36 L322.3,438.58 L332.25,437.79 L342.2,437.01" fill="none" stroke="#f7941d" stroke-width="1.1" stroke-linejoin="round" />
<line x1="222.8" y1="446" x2="222.8" y2="447.6" stroke="#f7941d" stroke-width="0.8" />
<line x1="221.7" y1="446" x2="223.9" y2="446" stroke="#f7941d" stroke-width="0.7" />
<line x1="221.7" y1="447.6" x2="223.9" y2="447.6" stroke="#f7941d" stroke-width="0.7" />
<circle cx="222.8" cy="446.8" r="0.9" fill="#f7941d"/>
<line x1="232.75" y1="445.22" x2="232.75" y2="446.82" stroke="#f7941d" stroke-width="0.8" />
<line x1="231.65" y1="445.22" x2="233.85" y2="445.22" stroke="#f7941d" stroke-width="0.7" />
<line x1="231.65" y1="446.82" x2="233.85" y2="446.82" stroke="#f7941d" stroke-width="0.7" />
<circle cx="232.75" cy="446.02" r="0.9" fill="#f7941d"/>
<line x1="242.7" y1="444.43" x2="242.7" y2="446.03" stroke="#f7941d" stroke-width="0.8" />
<line x1="241.6" y1="444.43" x2="243.8" y2="444.43" stroke="#f7941d" stroke-width="0.7" />
<line x1="241.6" y1="446.03" x2="243.8" y2="446.03" stroke="#f7941d" stroke-width="0.7" />
<circle cx="242.7" cy="445.23" r="0.9" fill="#f7941d"/>
<line x1="252.65" y1="443.45" x2="252.65" y2="445.05" stroke="#f7941d" stroke-width="0.8" />
<line x1="251.55" y1="443.45" x2="253.75" y2="443.45" stroke="#f7941d" stroke-width="0.7" />
<line x1="251.55" y1="445.05" x2="253.75" y2="445.05" stroke="#f7941d" stroke-width="0.7" />
<circle cx="252.65" cy="444.25" r="0.9" fill="#f7941d"/>
<line x1="262.6" y1="442.67" x2="262.6" y2="444.27" stroke="#f7941d" stroke-width="0.8" />
<line x1="261.5" y1="442.67" x2="263.7" y2="442.67" stroke="#f7941d" stroke-width="0.7" />
<line x1="261.5" y1="444.27" x2="263.7" y2="444.27" stroke="#f7941d" stroke-width="0.7" />
<circle cx="262.6" cy="443.47" r="0.9" fill="#f7941d"/>
<line x1="272.55" y1="441.89" x2="272.55" y2="443.49" stroke="#f7941d" stroke-width="0.8" />
<line x1="271.45" y1="441.89" x2="273.65" y2="441.89" stroke="#f7941d" stroke-width="0.7" />
<line x1="271.45" y1="443.49" x2="273.65" y2="443.49" stroke="#f7941d" stroke-width="0.7" />
<circle cx="272.55" cy="442.69" r="0.9" fill="#f7941d"/>
<line x1="282.5" y1="440.91" x2="282.5" y2="442.51" stroke="#f7941d" stroke-width="0.8" />
<line x1="281.4" y1="440.91" x2="283.6" y2="440.91" stroke="#f7941d" stroke-width="0.7" />
<line x1="281.4" y1="442.51" x2="283.6" y2="442.51" stroke="#f7941d" stroke-width="0.7" />
<circle cx="282.5" cy="441.71" r="0.9" fill="#f7941d"/>
<line x1="292.45" y1="440.13" x2="292.45" y2="441.73" stroke="#f7941d" stroke-width="0.8" />
<line x1="291.35" y1="440.13" x2="293.55" y2="440.13" stroke="#f7941d" stroke-width="0.7" />
<line x1="291.35" y1="441.73" x2="293.55" y2="441.73" stroke="#f7941d" stroke-width="0.7" />
<circle cx="292.45" cy="440.93" r="0.9" fill="#f7941d"/>
<line x1="302.4" y1="439.34" x2="302.4" y2="440.94" stroke="#f7941d" stroke-width="0.8" />
<line x1="301.3" y1="439.34" x2="303.5" y2="439.34" stroke="#f7941d" stroke-width="0.7" />
<line x1="301.3" y1="440.94" x2="303.5" y2="440.94" stroke="#f7941d" stroke-width="0.7" />
<circle cx="302.4" cy="440.14" r="0.9" fill="#f7941d"/>
<line x1="312.35" y1="438.56" x2="312.35" y2="440.16" stroke="#f7941d" stroke-width="0.8" />
<line x1="311.25" y1="438.56" x2="313.45" y2="438.56" stroke="#f7941d" stroke-width="0.7" />
<line x1="311.25" y1="440.16" x2="313.45" y2="440.16" stroke="#f7941d" stroke-width="0.7" />
<circle cx="312.35" cy="439.36" r="0.9" fill="#f7941d"/>
<line x1="322.3" y1="437.78" x2="322.3" y2="439.38" stroke="#f7941d" stroke-width="0.8" />
<line x1="321.2" y1="437.78" x2="323.4" y2="437.78" stroke="#f7941d" stroke-width="0.7" />
<line x1="321.2" y1="439.38" x2="323.4" y2="439.38" stroke="#f7941d" stroke-width="0.7" />
<circle cx="322.3" cy="438.58" r="0.9" fill="#f7941d"/>
<line x1="332.25" y1="436.99" x2="332.25" y2="438.59" stroke="#f7941d" stroke-width="0.8" />
<line x1="331.15" y1="436.99" x2="333.35" y2="436.99" stroke="#f7941d" stroke-width="0.7" />
<line x1="331.15" y1="438.59" x2="333.35" y2="438.59" stroke="#f7941d" stroke-width="0.7" />
<circle cx="332.25" cy="437.79" r="0.9" fill="#f7941d"/>
<line x1="342.2" y1="436.21" x2="342.2" y2="437.81" stroke="#f7941d" stroke-width="0.8" />
<line x1="341.1" y1="436.21" x2="343.3" y2="436.21" stroke="#f7941d" stroke-width="0.7" />
<line x1="341.1" y1="437.81" x2="343.3" y2="437.81" stroke="#f7941d" stroke-width="0.7" />
<circle cx="342.2" cy="437.01" r="0.9" fill="#f7941d"/>
<path d="M222.8,446.8 L232.75,445.82 L242.7,444.84 L252.65,443.86 L262.6,442.69 L272.55,441.71 L282.5,440.73 L292.45,439.75 L302.4,438.77 L312.35,437.79 L322.3,437.01 L332.25,436.42 L342.2,435.64" fill="none" stroke="#5b2a82" stroke-width="1.1" stroke-linejoin="round" />
<line x1="222.8" y1="446" x2="222.8" y2="447.6" stroke="#5b2a82" stroke-width="0.8" />
<line x1="221.7" y1="446" x2="223.9" y2="446" stroke="#5b2a82" stroke-width="0.7" />
<line x1="221.7" y1="447.6" x2="223.9" y2="447.6" stroke="#5b2a82" stroke-width="0.7" />
<circle cx="222.8" cy="446.8" r="0.9" fill="#5b2a82"/>
<line x1="232.75" y1="445.02" x2="232.75" y2="446.62" stroke="#5b2a82" stroke-width="0.8" />
<line x1="231.65" y1="445.02" x2="233.85" y2="445.02" stroke="#5b2a82" stroke-width="0.7" />
<line x1="231.65" y1="446.62" x2="233.85" y2="446.62" stroke="#5b2a82" stroke-width="0.7" />
<circle cx="232.75" cy="445.82" r="0.9" fill="#5b2a82"/>
<line x1="242.7" y1="444.04" x2="242.7" y2="445.64" stroke="#5b2a82" stroke-width="0.8" />
<line x1="241.6" y1="444.04" x2="243.8" y2="444.04" stroke="#5b2a82" stroke-width="0.7" />
<line x1="241.6" y1="445.64" x2="243.8" y2="445.64" stroke="#5b2a82" stroke-width="0.7" />
<circle cx="242.7" cy="444.84" r="0.9" fill="#5b2a82"/>
<line x1="252.65" y1="443.06" x2="252.65" y2="444.66" stroke="#5b2a82" stroke-width="0.8" />
<line x1="251.55" y1="443.06" x2="253.75" y2="443.06" stroke="#5b2a82" stroke-width="0.7" />
<line x1="251.55" y1="444.66" x2="253.75" y2="444.66" stroke="#5b2a82" stroke-width="0.7" />
<circle cx="252.65" cy="443.86" r="0.9" fill="#5b2a82"/>
<line x1="262.6" y1="441.89" x2="262.6" y2="443.49" stroke="#5b2a82" stroke-width="0.8" />
<line x1="261.5" y1="441.89" x2="263.7" y2="441.89" stroke="#5b2a82" stroke-width="0.7" />
<line x1="261.5" y1="443.49" x2="263.7" y2="443.49" stroke="#5b2a82" stroke-width="0.7" />
<circle cx="262.6" cy="442.69" r="0.9" fill="#5b2a82"/>
<line x1="272.55" y1="440.91" x2="272.55" y2="442.51" stroke="#5b2a82" stroke-width="0.8" />
<line x1="271.45" y1="440.91" x2="273.65" y2="440.91" stroke="#5b2a82" stroke-width="0.7" />
<line x1="271.45" y1="442.51" x2="273.65" y2="442.51" stroke="#5b2a82" stroke-width="0.7" />
<circle cx="272.55" cy="441.71" r="0.9" fill="#5b2a82"/>
<line x1="282.5" y1="439.93" x2="282.5" y2="441.53" stroke="#5b2a82" stroke-width="0.8" />
<line x1="281.4" y1="439.93" x2="283.6" y2="439.93" stroke="#5b2a82" stroke-width="0.7" />
<line x1="281.4" y1="441.53" x2="283.6" y2="441.53" stroke="#5b2a82" stroke-width="0.7" />
<circle cx="282.5" cy="440.73" r="0.9" fill="#5b2a82"/>
<line x1="292.45" y1="438.95" x2="292.45" y2="440.55" stroke="#5b2a82" stroke-width="0.8" />
<line x1="291.35" y1="438.95" x2="293.55" y2="438.95" stroke="#5b2a82" stroke-width="0.7" />
<line x1="291.35" y1="440.55" x2="293.55" y2="440.55" stroke="#5b2a82" stroke-width="0.7" />
<circle cx="292.45" cy="439.75" r="0.9" fill="#5b2a82"/>
<line x1="302.4" y1="437.97" x2="302.4" y2="439.57" stroke="#5b2a82" stroke-width="0.8" />
<line x1="301.3" y1="437.97" x2="303.5" y2="437.97" stroke="#5b2a82" stroke-width="0.7" />
<line x1="301.3" y1="439.57" x2="303.5" y2="439.57" stroke="#5b2a82" stroke-width="0.7" />
<circle cx="302.4" cy="438.77" r="0.9" fill="#5b2a82"/>
<line x1="312.35" y1="436.99" x2="312.35" y2="438.59" stroke="#5b2a82" stroke-width="0.8" />
<line x1="311.25" y1="436.99" x2="313.45" y2="436.99" stroke="#5b2a82" stroke-width="0.7" />
<line x1="311.25" y1="438.59" x2="313.45" y2="438.59" stroke="#5b2a82" stroke-width="0.7" />
<circle cx="312.35" cy="437.79" r="0.9" fill="#5b2a82"/>
<line x1="322.3" y1="436.21" x2="322.3" y2="437.81" stroke="#5b2a82" stroke-width="0.8" />
<line x1="321.2" y1="436.21" x2="323.4" y2="436.21" stroke="#5b2a82" stroke-width="0.7" />
<line x1="321.2" y1="437.81" x2="323.4" y2="437.81" stroke="#5b2a82" stroke-width="0.7" />
<circle cx="322.3" cy="437.01" r="0.9" fill="#5b2a82"/>
<line x1="332.25" y1="435.62" x2="332.25" y2="437.22" stroke="#5b2a82" stroke-width="0.8" />
<line x1="331.15" y1="435.62" x2="333.35" y2="435.62" stroke="#5b2a82" stroke-width="0.7" />
<line x1="331.15" y1="437.22" x2="333.35" y2="437.22" stroke="#5b2a82" stroke-width="0.7" />
<circle cx="332.25" cy="436.42" r="0.9" fill="#5b2a82"/>
<line x1="342.2" y1="434.84" x2="342.2" y2="436.44" stroke="#5b2a82" stroke-width="0.8" />
<line x1="341.1" y1="434.84" x2="343.3" y2="434.84" stroke="#5b2a82" stroke-width="0.7" />
<line x1="341.1" y1="436.44" x2="343.3" y2="436.44" stroke="#5b2a82" stroke-width="0.7" />
<circle cx="342.2" cy="435.64" r="0.9" fill="#5b2a82"/>
<path d="M222.8,446.8 L232.75,445.82 L242.7,444.84 L252.65,443.86 L262.6,442.88 L272.55,441.91 L282.5,440.93 L292.45,439.95 L302.4,438.97 L312.35,437.99 L322.3,437.01 L332.25,436.03 L342.2,435.25" fill="none" stroke="#3cb44b" stroke-width="1.1" stroke-linejoin="round" />
<line x1="222.8" y1="446" x2="222.8" y2="447.6" stroke="#3cb44b" stroke-width="0.8" />
<line x1="221.7" y1="446" x2="223.9" y2="446" stroke="#3cb44b" stroke-width="0.7" />
<line x1="221.7" y1="447.6" x2="223.9" y2="447.6" stroke="#3cb44b" stroke-width="0.7" />
<circle cx="222.8" cy="446.8" r="0.9" fill="#3cb44b"/>
<line x1="232.75" y1="445.02" x2="232.75" y2="446.62" stroke="#3cb44b" stroke-width="0.8" />
<line x1="231.65" y1="445.02" x2="233.85" y2="445.02" stroke="#3cb44b" stroke-width="0.7" />
<line x1="231.65" y1="446.62" x2="233.85" y2="446.62" stroke="#3cb44b" stroke-width="0.7" />
<circle cx="232.75" cy="445.82" r="0.9" fill="#3cb44b"/>
<line x1="242.7" y1="444.04" x2="242.7" y2="445.64" stroke="#3cb44b" stroke-width="0.8" />
<line x1="241.6" y1="444.04" x2="243.8" y2="444.04" stroke="#3cb44b" stroke-width="0.7" />
<line x1="241.6" y1="445.64" x2="243.8" y2="445.64" stroke="#3cb44b" stroke-width="0.7" />
<circle cx="242.7" cy="444.84" r="0.9" fill="#3cb44b"/>
<line x1="252.65" y1="443.06" x2="252.65" y2="444.66" stroke="#3cb44b" stroke-width="0.8" />
<line x1="251.55" y1="443.06" x2="253.75" y2="443.06" stroke="#3cb44b" stroke-width="0.7" />
<line x1="251.55" y1="444.66" x2="253.75" y2="444.66" stroke="#3cb44b" stroke-width="0.7" />
<circle cx="252.65" cy="443.86" r="0.9" fill="#3cb44b"/>
<line x1="262.6" y1="442.08" x2="262.6" y2="443.68" stroke="#3cb44b" stroke-width="0.8" />
<line x1="261.5" y1="442.08" x2="263.7" y2="442.08" stroke="#3cb44b" stroke-width="0.7" />
<line x1="261.5" y1="443.68" x2="263.7" y2="443.68" stroke="#3cb44b" stroke-width="0.7" />
<circle cx="262.6" cy="442.88" r="0.9" fill="#3cb44b"/>
<line x1="272.55" y1="441.11" x2="272.55" y2="442.71" stroke="#3cb44b" stroke-width="0.8" />
<line x1="271.45" y1="441.11" x2="273.65" y2="441.11" stroke="#3cb44b" stroke-width="0.7" />
<line x1="271.45" y1="442.71" x2="273.65" y2="442.71" stroke="#3cb44b" stroke-width="0.7" />
<circle cx="272.55" cy="441.91" r="0.9" fill="#3cb44b"/>
<line x1="282.5" y1="440.13" x2="282.5" y2="441.73" stroke="#3cb44b" stroke-width="0.8" />
<line x1="281.4" y1="440.13" x2="283.6" y2="440.13" stroke="#3cb44b" stroke-width="0.7" />
<line x1="281.4" y1="441.73" x2="283.6" y2="441.73" stroke="#3cb44b" stroke-width="0.7" />
<circle cx="282.5" cy="440.93" r="0.9" fill="#3cb44b"/>
<line x1="292.45" y1="439.15" x2="292.45" y2="440.75" stroke="#3cb44b" stroke-width="0.8" />
<line x1="291.35" y1="439.15" x2="293.55" y2="439.15" stroke="#3cb44b" stroke-width="0.7" />
<line x1="291.35" y1="440.75" x2="293.55" y2="440.75" stroke="#3cb44b" stroke-width="0.7" />
<circle cx="292.45" cy="439.95" r="0.9" fill="#3cb44b"/>
<line x1="302.4" y1="438.17" x2="302.4" y2="439.77" stroke="#3cb44b" stroke-width="0.8" />
<line x1="301.3" y1="438.17" x2="303.5" y2="438.17" stroke="#3cb44b" stroke-width="0.7" />
<line x1="301.3" y1="439.77" x2="303.5" y2="439.77" stroke="#3cb44b" stroke-width="0.7" />
<circle cx="302.4" cy="438.97" r="0.9" fill="#3cb44b"/>
<line x1="312.35" y1="437.19" x2="312.35" y2="438.79" stroke="#3cb44b" stroke-width="0.8" />
<line x1="311.25" y1="437.19" x2="313.45" y2="437.19" stroke="#3cb44b" stroke-width="0.7" />
<line x1="311.25" y1="438.79" x2="313.45" y2="438.79" stroke="#3cb44b" stroke-width="0.7" />
<circle cx="312.35" cy="437.99" r="0.9" fill="#3cb44b"/>
<line x1="322.3" y1="436.21" x2="322.3" y2="437.81" stroke="#3cb44b" stroke-width="0.8" />
<line x1="321.2" y1="436.21" x2="323.4" y2="436.21" stroke="#3cb44b" stroke-width="0.7" />
<line x1="321.2" y1="437.81" x2="323.4" y2="437.81" stroke="#3cb44b" stroke-width="0.7" />
<circle cx="322.3" cy="437.01" r="0.9" fill="#3cb44b"/>
<line x1="332.25" y1="435.23" x2="332.25" y2="436.83" stroke="#3cb44b" stroke-width="0.8" />
<line x1="331.15" y1="435.23" x2="333.35" y2="435.23" stroke="#3cb44b" stroke-width="0.7" />
<line x1="331.15" y1="436.83" x2="333.35" y2="436.83" stroke="#3cb44b" stroke-width="0.7" />
<circle cx="332.25" cy="436.03" r="0.9" fill="#3cb44b"/>
<line x1="342.2" y1="434.45" x2="342.2" y2="436.05" stroke="#3cb44b" stroke-width="0.8" />
<line x1="341.1" y1="434.45" x2="343.3" y2="434.45" stroke="#3cb44b" stroke-width="0.7" />
<line x1="341.1" y1="436.05" x2="343.3" y2="436.05" stroke="#3cb44b" stroke-width="0.7" />
<circle cx="342.2" cy="435.25" r="0.9" fill="#3cb44b"/>
<path d="M222.8,440.53 L232.75,431.33 L242.7,427.22 L252.65,424.28 L262.6,421.93 L272.55,419.98 L282.5,418.41 L292.45,416.65 L302.4,415.67 L312.35,414.1 L322.3,413.51 L332.25,412.93 L342.2,412.54" fill="none" stroke="#1f5b97" stroke-width="1.2" stroke-linejoin="round" />
<line x1="222.8" y1="439.33" x2="222.8" y2="441.73" stroke="#1f5b97" stroke-width="0.8" />
<line x1="221.7" y1="439.33" x2="223.9" y2="439.33" stroke="#1f5b97" stroke-width="0.7" />
<line x1="221.7" y1="441.73" x2="223.9" y2="441.73" stroke="#1f5b97" stroke-width="0.7" />
<circle cx="222.8" cy="440.53" r="1.1" fill="#1f5b97"/>
<line x1="232.75" y1="430.13" x2="232.75" y2="432.53" stroke="#1f5b97" stroke-width="0.8" />
<line x1="231.65" y1="430.13" x2="233.85" y2="430.13" stroke="#1f5b97" stroke-width="0.7" />
<line x1="231.65" y1="432.53" x2="233.85" y2="432.53" stroke="#1f5b97" stroke-width="0.7" />
<circle cx="232.75" cy="431.33" r="1.1" fill="#1f5b97"/>
<line x1="242.7" y1="426.02" x2="242.7" y2="428.42" stroke="#1f5b97" stroke-width="0.8" />
<line x1="241.6" y1="426.02" x2="243.8" y2="426.02" stroke="#1f5b97" stroke-width="0.7" />
<line x1="241.6" y1="428.42" x2="243.8" y2="428.42" stroke="#1f5b97" stroke-width="0.7" />
<circle cx="242.7" cy="427.22" r="1.1" fill="#1f5b97"/>
<line x1="252.65" y1="423.08" x2="252.65" y2="425.48" stroke="#1f5b97" stroke-width="0.8" />
<line x1="251.55" y1="423.08" x2="253.75" y2="423.08" stroke="#1f5b97" stroke-width="0.7" />
<line x1="251.55" y1="425.48" x2="253.75" y2="425.48" stroke="#1f5b97" stroke-width="0.7" />
<circle cx="252.65" cy="424.28" r="1.1" fill="#1f5b97"/>
<line x1="262.6" y1="420.73" x2="262.6" y2="423.13" stroke="#1f5b97" stroke-width="0.8" />
<line x1="261.5" y1="420.73" x2="263.7" y2="420.73" stroke="#1f5b97" stroke-width="0.7" />
<line x1="261.5" y1="423.13" x2="263.7" y2="423.13" stroke="#1f5b97" stroke-width="0.7" />
<circle cx="262.6" cy="421.93" r="1.1" fill="#1f5b97"/>
<line x1="272.55" y1="418.78" x2="272.55" y2="421.18" stroke="#1f5b97" stroke-width="0.8" />
<line x1="271.45" y1="418.78" x2="273.65" y2="418.78" stroke="#1f5b97" stroke-width="0.7" />
<line x1="271.45" y1="421.18" x2="273.65" y2="421.18" stroke="#1f5b97" stroke-width="0.7" />
<circle cx="272.55" cy="419.98" r="1.1" fill="#1f5b97"/>
<line x1="282.5" y1="417.21" x2="282.5" y2="419.61" stroke="#1f5b97" stroke-width="0.8" />
<line x1="281.4" y1="417.21" x2="283.6" y2="417.21" stroke="#1f5b97" stroke-width="0.7" />
<line x1="281.4" y1="419.61" x2="283.6" y2="419.61" stroke="#1f5b97" stroke-width="0.7" />
<circle cx="282.5" cy="418.41" r="1.1" fill="#1f5b97"/>
<line x1="292.45" y1="415.45" x2="292.45" y2="417.85" stroke="#1f5b97" stroke-width="0.8" />
<line x1="291.35" y1="415.45" x2="293.55" y2="415.45" stroke="#1f5b97" stroke-width="0.7" />
<line x1="291.35" y1="417.85" x2="293.55" y2="417.85" stroke="#1f5b97" stroke-width="0.7" />
<circle cx="292.45" cy="416.65" r="1.1" fill="#1f5b97"/>
<line x1="302.4" y1="414.47" x2="302.4" y2="416.87" stroke="#1f5b97" stroke-width="0.8" />
<line x1="301.3" y1="414.47" x2="303.5" y2="414.47" stroke="#1f5b97" stroke-width="0.7" />
<line x1="301.3" y1="416.87" x2="303.5" y2="416.87" stroke="#1f5b97" stroke-width="0.7" />
<circle cx="302.4" cy="415.67" r="1.1" fill="#1f5b97"/>
<line x1="312.35" y1="412.9" x2="312.35" y2="415.3" stroke="#1f5b97" stroke-width="0.8" />
<line x1="311.25" y1="412.9" x2="313.45" y2="412.9" stroke="#1f5b97" stroke-width="0.7" />
<line x1="311.25" y1="415.3" x2="313.45" y2="415.3" stroke="#1f5b97" stroke-width="0.7" />
<circle cx="312.35" cy="414.1" r="1.1" fill="#1f5b97"/>
<line x1="322.3" y1="412.31" x2="322.3" y2="414.71" stroke="#1f5b97" stroke-width="0.8" />
<line x1="321.2" y1="412.31" x2="323.4" y2="412.31" stroke="#1f5b97" stroke-width="0.7" />
<line x1="321.2" y1="414.71" x2="323.4" y2="414.71" stroke="#1f5b97" stroke-width="0.7" />
<circle cx="322.3" cy="413.51" r="1.1" fill="#1f5b97"/>
<line x1="332.25" y1="411.73" x2="332.25" y2="414.13" stroke="#1f5b97" stroke-width="0.8" />
<line x1="331.15" y1="411.73" x2="333.35" y2="411.73" stroke="#1f5b97" stroke-width="0.7" />
<line x1="331.15" y1="414.13" x2="333.35" y2="414.13" stroke="#1f5b97" stroke-width="0.7" />
<circle cx="332.25" cy="412.93" r="1.1" fill="#1f5b97"/>
<line x1="342.2" y1="411.34" x2="342.2" y2="413.74" stroke="#1f5b97" stroke-width="0.8" />
<line x1="341.1" y1="411.34" x2="343.3" y2="411.34" stroke="#1f5b97" stroke-width="0.7" />
<line x1="341.1" y1="413.74" x2="343.3" y2="413.74" stroke="#1f5b97" stroke-width="0.7" />
<circle cx="342.2" cy="412.54" r="1.1" fill="#1f5b97"/>
<path d="M222.8,442.3 L232.75,428.79 L242.7,419.98 L252.65,412.93 L262.6,406.86 L272.55,401.96 L282.5,397.85 L292.45,393.93 L302.4,392.17 L312.35,389.04 L322.3,386.3 L332.25,385.71 L342.2,384.73" fill="none" stroke="#d4163c" stroke-width="1.2" stroke-linejoin="round" />
<line x1="222.8" y1="441.1" x2="222.8" y2="443.5" stroke="#d4163c" stroke-width="0.8" />
<line x1="221.7" y1="441.1" x2="223.9" y2="441.1" stroke="#d4163c" stroke-width="0.7" />
<line x1="221.7" y1="443.5" x2="223.9" y2="443.5" stroke="#d4163c" stroke-width="0.7" />
<circle cx="222.8" cy="442.3" r="1.1" fill="#d4163c"/>
<line x1="232.75" y1="427.29" x2="232.75" y2="430.29" stroke="#d4163c" stroke-width="0.8" />
<line x1="231.65" y1="427.29" x2="233.85" y2="427.29" stroke="#d4163c" stroke-width="0.7" />
<line x1="231.65" y1="430.29" x2="233.85" y2="430.29" stroke="#d4163c" stroke-width="0.7" />
<circle cx="232.75" cy="428.79" r="1.1" fill="#d4163c"/>
<line x1="242.7" y1="418.18" x2="242.7" y2="421.78" stroke="#d4163c" stroke-width="0.8" />
<line x1="241.6" y1="418.18" x2="243.8" y2="418.18" stroke="#d4163c" stroke-width="0.7" />
<line x1="241.6" y1="421.78" x2="243.8" y2="421.78" stroke="#d4163c" stroke-width="0.7" />
<circle cx="242.7" cy="419.98" r="1.1" fill="#d4163c"/>
<line x1="252.65" y1="410.93" x2="252.65" y2="414.93" stroke="#d4163c" stroke-width="0.8" />
<line x1="251.55" y1="410.93" x2="253.75" y2="410.93" stroke="#d4163c" stroke-width="0.7" />
<line x1="251.55" y1="414.93" x2="253.75" y2="414.93" stroke="#d4163c" stroke-width="0.7" />
<circle cx="252.65" cy="412.93" r="1.1" fill="#d4163c"/>
<line x1="262.6" y1="404.86" x2="262.6" y2="408.86" stroke="#d4163c" stroke-width="0.8" />
<line x1="261.5" y1="404.86" x2="263.7" y2="404.86" stroke="#d4163c" stroke-width="0.7" />
<line x1="261.5" y1="408.86" x2="263.7" y2="408.86" stroke="#d4163c" stroke-width="0.7" />
<circle cx="262.6" cy="406.86" r="1.1" fill="#d4163c"/>
<line x1="272.55" y1="399.76" x2="272.55" y2="404.16" stroke="#d4163c" stroke-width="0.8" />
<line x1="271.45" y1="399.76" x2="273.65" y2="399.76" stroke="#d4163c" stroke-width="0.7" />
<line x1="271.45" y1="404.16" x2="273.65" y2="404.16" stroke="#d4163c" stroke-width="0.7" />
<circle cx="272.55" cy="401.96" r="1.1" fill="#d4163c"/>
<line x1="282.5" y1="395.65" x2="282.5" y2="400.05" stroke="#d4163c" stroke-width="0.8" />
<line x1="281.4" y1="395.65" x2="283.6" y2="395.65" stroke="#d4163c" stroke-width="0.7" />
<line x1="281.4" y1="400.05" x2="283.6" y2="400.05" stroke="#d4163c" stroke-width="0.7" />
<circle cx="282.5" cy="397.85" r="1.1" fill="#d4163c"/>
<line x1="292.45" y1="391.43" x2="292.45" y2="396.43" stroke="#d4163c" stroke-width="0.8" />
<line x1="291.35" y1="391.43" x2="293.55" y2="391.43" stroke="#d4163c" stroke-width="0.7" />
<line x1="291.35" y1="396.43" x2="293.55" y2="396.43" stroke="#d4163c" stroke-width="0.7" />
<circle cx="292.45" cy="393.93" r="1.1" fill="#d4163c"/>
<line x1="302.4" y1="389.67" x2="302.4" y2="394.67" stroke="#d4163c" stroke-width="0.8" />
<line x1="301.3" y1="389.67" x2="303.5" y2="389.67" stroke="#d4163c" stroke-width="0.7" />
<line x1="301.3" y1="394.67" x2="303.5" y2="394.67" stroke="#d4163c" stroke-width="0.7" />
<circle cx="302.4" cy="392.17" r="1.1" fill="#d4163c"/>
<line x1="312.35" y1="386.54" x2="312.35" y2="391.54" stroke="#d4163c" stroke-width="0.8" />
<line x1="311.25" y1="386.54" x2="313.45" y2="386.54" stroke="#d4163c" stroke-width="0.7" />
<line x1="311.25" y1="391.54" x2="313.45" y2="391.54" stroke="#d4163c" stroke-width="0.7" />
<circle cx="312.35" cy="389.04" r="1.1" fill="#d4163c"/>
<line x1="322.3" y1="383.5" x2="322.3" y2="389.1" stroke="#d4163c" stroke-width="0.8" />
<line x1="321.2" y1="383.5" x2="323.4" y2="383.5" stroke="#d4163c" stroke-width="0.7" />
<line x1="321.2" y1="389.1" x2="323.4" y2="389.1" stroke="#d4163c" stroke-width="0.7" />
<circle cx="322.3" cy="386.3" r="1.1" fill="#d4163c"/>
<line x1="332.25" y1="382.91" x2="332.25" y2="388.51" stroke="#d4163c" stroke-width="0.8" />
<line x1="331.15" y1="382.91" x2="333.35" y2="382.91" stroke="#d4163c" stroke-width="0.7" />
<line x1="331.15" y1="388.51" x2="333.35" y2="388.51" stroke="#d4163c" stroke-width="0.7" />
<circle cx="332.25" cy="385.71" r="1.1" fill="#d4163c"/>
<line x1="342.2" y1="381.93" x2="342.2" y2="387.53" stroke="#d4163c" stroke-width="0.8" />
<line x1="341.1" y1="381.93" x2="343.3" y2="381.93" stroke="#d4163c" stroke-width="0.7" />
<line x1="341.1" y1="387.53" x2="343.3" y2="387.53" stroke="#d4163c" stroke-width="0.7" />
<circle cx="342.2" cy="384.73" r="1.1" fill="#d4163c"/>
<line x1="392.2" y1="368.6" x2="392.2" y2="448.9" stroke="#1a1818" stroke-width="1.25" />
<line x1="389.4" y1="446.5" x2="392.2" y2="446.5" stroke="#1a1818" stroke-width="0.9" />
<text x="386.5" y="449.58" font-size="8.8" text-anchor="end" textLength="4.55" lengthAdjust="spacingAndGlyphs">0</text>
<line x1="389.4" y1="435.61" x2="392.2" y2="435.61" stroke="#1a1818" stroke-width="0.9" />
<text x="386.5" y="438.69" font-size="8.8" text-anchor="end" textLength="9.1" lengthAdjust="spacingAndGlyphs">50</text>
<line x1="389.4" y1="424.73" x2="392.2" y2="424.73" stroke="#1a1818" stroke-width="0.9" />
<text x="386.5" y="427.81" font-size="8.8" text-anchor="end" textLength="13.65" lengthAdjust="spacingAndGlyphs">100</text>
<line x1="389.4" y1="413.84" x2="392.2" y2="413.84" stroke="#1a1818" stroke-width="0.9" />
<text x="386.5" y="416.92" font-size="8.8" text-anchor="end" textLength="13.65" lengthAdjust="spacingAndGlyphs">150</text>
<line x1="389.4" y1="402.96" x2="392.2" y2="402.96" stroke="#1a1818" stroke-width="0.9" />
<text x="386.5" y="406.04" font-size="8.8" text-anchor="end" textLength="13.65" lengthAdjust="spacingAndGlyphs">200</text>
<line x1="389.4" y1="392.07" x2="392.2" y2="392.07" stroke="#1a1818" stroke-width="0.9" />
<text x="386.5" y="395.15" font-size="8.8" text-anchor="end" textLength="13.65" lengthAdjust="spacingAndGlyphs">250</text>
<line x1="389.4" y1="381.18" x2="392.2" y2="381.18" stroke="#1a1818" stroke-width="0.9" />
<text x="386.5" y="384.26" font-size="8.8" text-anchor="end" textLength="13.65" lengthAdjust="spacingAndGlyphs">300</text>
<line x1="389.4" y1="370.3" x2="392.2" y2="370.3" stroke="#1a1818" stroke-width="0.9" />
<text x="386.5" y="373.38" font-size="8.8" text-anchor="end" textLength="13.65" lengthAdjust="spacingAndGlyphs">350</text>
<line x1="391.7" y1="448.9" x2="513.1" y2="448.9" stroke="#1a1818" stroke-width="1.3" />
<line x1="392.2" y1="448.9" x2="392.2" y2="452.1" stroke="#1a1818" stroke-width="0.9" />
<text x="392.2" y="461.42" font-size="8.9" text-anchor="middle" textLength="4.4" lengthAdjust="spacingAndGlyphs">0</text>
<line x1="405.3" y1="448.9" x2="405.3" y2="452.1" stroke="#1a1818" stroke-width="0.9" />
<text x="405.3" y="461.42" font-size="8.9" text-anchor="middle" textLength="4.4" lengthAdjust="spacingAndGlyphs">4</text>
<line x1="418.4" y1="448.9" x2="418.4" y2="452.1" stroke="#1a1818" stroke-width="0.9" />
<text x="418.4" y="461.42" font-size="8.9" text-anchor="middle" textLength="4.4" lengthAdjust="spacingAndGlyphs">8</text>
<line x1="431.5" y1="448.9" x2="431.5" y2="452.1" stroke="#1a1818" stroke-width="0.9" />
<text x="431.5" y="461.42" font-size="8.9" text-anchor="middle" textLength="8.6" lengthAdjust="spacingAndGlyphs">12</text>
<line x1="444.6" y1="448.9" x2="444.6" y2="452.1" stroke="#1a1818" stroke-width="0.9" />
<text x="444.6" y="461.42" font-size="8.9" text-anchor="middle" textLength="8.6" lengthAdjust="spacingAndGlyphs">16</text>
<line x1="457.7" y1="448.9" x2="457.7" y2="452.1" stroke="#1a1818" stroke-width="0.9" />
<text x="457.7" y="461.42" font-size="8.9" text-anchor="middle" textLength="8.6" lengthAdjust="spacingAndGlyphs">20</text>
<line x1="470.8" y1="448.9" x2="470.8" y2="452.1" stroke="#1a1818" stroke-width="0.9" />
<text x="470.8" y="461.42" font-size="8.9" text-anchor="middle" textLength="8.6" lengthAdjust="spacingAndGlyphs">24</text>
<line x1="483.9" y1="448.9" x2="483.9" y2="452.1" stroke="#1a1818" stroke-width="0.9" />
<text x="483.9" y="461.42" font-size="8.9" text-anchor="middle" textLength="8.6" lengthAdjust="spacingAndGlyphs">28</text>
<line x1="497" y1="448.9" x2="497" y2="452.1" stroke="#1a1818" stroke-width="0.9" />
<text x="497" y="461.42" font-size="8.9" text-anchor="middle" textLength="8.6" lengthAdjust="spacingAndGlyphs">32</text>
<line x1="510.1" y1="448.9" x2="510.1" y2="452.1" stroke="#1a1818" stroke-width="0.9" />
<text x="510.1" y="461.42" font-size="8.9" text-anchor="middle" textLength="8.6" lengthAdjust="spacingAndGlyphs">36</text>
<line x1="393.7" y1="446.5" x2="510.1" y2="446.5" stroke="#222" stroke-width="0.9" stroke-dasharray="0.9,1.6"/>
<text x="453.4" y="473.75" font-size="9" text-anchor="middle" textLength="41.3" lengthAdjust="spacingAndGlyphs">Time (hours)</text>
<text x="366.5" y="408.3" font-size="9" text-anchor="middle" textLength="76.6" lengthAdjust="spacingAndGlyphs" transform="rotate(-90 366.5 408.3)">Annexin-V(+)cells/field</text>
<text x="433.2" y="371.96" font-size="9.6" textLength="41.4" lengthAdjust="spacingAndGlyphs">Patient -3</text>
<path d="M392.2,446.28 L395.47,445.54 L398.75,444.8 L402.02,444.06 L405.3,443.32 L408.57,442.58 L411.85,441.92 L415.12,441.26 L418.4,440.61 L421.68,439.95 L424.95,439.42 L428.22,438.95 L431.5,438.47 L434.77,438 L438.05,437.53 L441.32,437.07 L444.6,436.62 L447.88,436.16 L451.15,435.71 L454.43,435.24 L457.7,434.77 L460.97,434.31 L464.25,433.84 L467.52,433.37 L470.8,432.95 L474.07,432.7 L477.35,432.45 L480.62,432.2 L483.9,431.95 L487.17,431.7 L490.45,431.55 L493.72,431.4 L497,431.26 L500.27,431.11 L503.55,430.97 L506.82,430.82" fill="none" stroke="#5b2a82" stroke-width="1.1" stroke-linejoin="round" />
<line x1="392.2" y1="445.48" x2="392.2" y2="447.08" stroke="#5b2a82" stroke-width="0.8" />
<line x1="391.1" y1="445.48" x2="393.3" y2="445.48" stroke="#5b2a82" stroke-width="0.7" />
<line x1="391.1" y1="447.08" x2="393.3" y2="447.08" stroke="#5b2a82" stroke-width="0.7" />
<circle cx="392.2" cy="446.28" r="0.8" fill="#5b2a82"/>
<line x1="395.47" y1="444.74" x2="395.47" y2="446.34" stroke="#5b2a82" stroke-width="0.8" />
<line x1="394.37" y1="444.74" x2="396.57" y2="444.74" stroke="#5b2a82" stroke-width="0.7" />
<line x1="394.37" y1="446.34" x2="396.57" y2="446.34" stroke="#5b2a82" stroke-width="0.7" />
<circle cx="395.47" cy="445.54" r="0.8" fill="#5b2a82"/>
<line x1="398.75" y1="444" x2="398.75" y2="445.6" stroke="#5b2a82" stroke-width="0.8" />
<line x1="397.65" y1="444" x2="399.85" y2="444" stroke="#5b2a82" stroke-width="0.7" />
<line x1="397.65" y1="445.6" x2="399.85" y2="445.6" stroke="#5b2a82" stroke-width="0.7" />
<circle cx="398.75" cy="444.8" r="0.8" fill="#5b2a82"/>
<line x1="402.02" y1="443.26" x2="402.02" y2="444.86" stroke="#5b2a82" stroke-width="0.8" />
<line x1="400.92" y1="443.26" x2="403.12" y2="443.26" stroke="#5b2a82" stroke-width="0.7" />
<line x1="400.92" y1="444.86" x2="403.12" y2="444.86" stroke="#5b2a82" stroke-width="0.7" />
<circle cx="402.02" cy="444.06" r="0.8" fill="#5b2a82"/>
<line x1="405.3" y1="442.52" x2="405.3" y2="444.12" stroke="#5b2a82" stroke-width="0.8" />
<line x1="404.2" y1="442.52" x2="406.4" y2="442.52" stroke="#5b2a82" stroke-width="0.7" />
<line x1="404.2" y1="444.12" x2="406.4" y2="444.12" stroke="#5b2a82" stroke-width="0.7" />
<circle cx="405.3" cy="443.32" r="0.8" fill="#5b2a82"/>
<line x1="408.57" y1="441.78" x2="408.57" y2="443.38" stroke="#5b2a82" stroke-width="0.8" />
<line x1="407.47" y1="441.78" x2="409.68" y2="441.78" stroke="#5b2a82" stroke-width="0.7" />
<line x1="407.47" y1="443.38" x2="409.68" y2="443.38" stroke="#5b2a82" stroke-width="0.7" />
<circle cx="408.57" cy="442.58" r="0.8" fill="#5b2a82"/>
<line x1="411.85" y1="441.12" x2="411.85" y2="442.72" stroke="#5b2a82" stroke-width="0.8" />
<line x1="410.75" y1="441.12" x2="412.95" y2="441.12" stroke="#5b2a82" stroke-width="0.7" />
<line x1="410.75" y1="442.72" x2="412.95" y2="442.72" stroke="#5b2a82" stroke-width="0.7" />
<circle cx="411.85" cy="441.92" r="0.8" fill="#5b2a82"/>
<line x1="415.12" y1="440.46" x2="415.12" y2="442.06" stroke="#5b2a82" stroke-width="0.8" />
<line x1="414.02" y1="440.46" x2="416.23" y2="440.46" stroke="#5b2a82" stroke-width="0.7" />
<line x1="414.02" y1="442.06" x2="416.23" y2="442.06" stroke="#5b2a82" stroke-width="0.7" />
<circle cx="415.12" cy="441.26" r="0.8" fill="#5b2a82"/>
<line x1="418.4" y1="439.81" x2="418.4" y2="441.41" stroke="#5b2a82" stroke-width="0.8" />
<line x1="417.3" y1="439.81" x2="419.5" y2="439.81" stroke="#5b2a82" stroke-width="0.7" />
<line x1="417.3" y1="441.41" x2="419.5" y2="441.41" stroke="#5b2a82" stroke-width="0.7" />
<circle cx="418.4" cy="440.61" r="0.8" fill="#5b2a82"/>
<line x1="421.68" y1="439.15" x2="421.68" y2="440.75" stroke="#5b2a82" stroke-width="0.8" />
<line x1="420.57" y1="439.15" x2="422.78" y2="439.15" stroke="#5b2a82" stroke-width="0.7" />
<line x1="420.57" y1="440.75" x2="422.78" y2="440.75" stroke="#5b2a82" stroke-width="0.7" />
<circle cx="421.68" cy="439.95" r="0.8" fill="#5b2a82"/>
<line x1="424.95" y1="438.62" x2="424.95" y2="440.22" stroke="#5b2a82" stroke-width="0.8" />
<line x1="423.85" y1="438.62" x2="426.05" y2="438.62" stroke="#5b2a82" stroke-width="0.7" />
<line x1="423.85" y1="440.22" x2="426.05" y2="440.22" stroke="#5b2a82" stroke-width="0.7" />
<circle cx="424.95" cy="439.42" r="0.8" fill="#5b2a82"/>
<line x1="428.22" y1="438.15" x2="428.22" y2="439.75" stroke="#5b2a82" stroke-width="0.8" />
<line x1="427.12" y1="438.15" x2="429.32" y2="438.15" stroke="#5b2a82" stroke-width="0.7" />
<line x1="427.12" y1="439.75" x2="429.32" y2="439.75" stroke="#5b2a82" stroke-width="0.7" />
<circle cx="428.22" cy="438.95" r="0.8" fill="#5b2a82"/>
<line x1="431.5" y1="437.67" x2="431.5" y2="439.27" stroke="#5b2a82" stroke-width="0.8" />
<line x1="430.4" y1="437.67" x2="432.6" y2="437.67" stroke="#5b2a82" stroke-width="0.7" />
<line x1="430.4" y1="439.27" x2="432.6" y2="439.27" stroke="#5b2a82" stroke-width="0.7" />
<circle cx="431.5" cy="438.47" r="0.8" fill="#5b2a82"/>
<line x1="434.77" y1="437.2" x2="434.77" y2="438.8" stroke="#5b2a82" stroke-width="0.8" />
<line x1="433.67" y1="437.2" x2="435.88" y2="437.2" stroke="#5b2a82" stroke-width="0.7" />
<line x1="433.67" y1="438.8" x2="435.88" y2="438.8" stroke="#5b2a82" stroke-width="0.7" />
<circle cx="434.77" cy="438" r="0.8" fill="#5b2a82"/>
<line x1="438.05" y1="436.73" x2="438.05" y2="438.33" stroke="#5b2a82" stroke-width="0.8" />
<line x1="436.95" y1="436.73" x2="439.15" y2="436.73" stroke="#5b2a82" stroke-width="0.7" />
<line x1="436.95" y1="438.33" x2="439.15" y2="438.33" stroke="#5b2a82" stroke-width="0.7" />
<circle cx="438.05" cy="437.53" r="0.8" fill="#5b2a82"/>
<line x1="441.32" y1="436.27" x2="441.32" y2="437.87" stroke="#5b2a82" stroke-width="0.8" />
<line x1="440.22" y1="436.27" x2="442.43" y2="436.27" stroke="#5b2a82" stroke-width="0.7" />
<line x1="440.22" y1="437.87" x2="442.43" y2="437.87" stroke="#5b2a82" stroke-width="0.7" />
<circle cx="441.32" cy="437.07" r="0.8" fill="#5b2a82"/>
<line x1="444.6" y1="435.82" x2="444.6" y2="437.42" stroke="#5b2a82" stroke-width="0.8" />
<line x1="443.5" y1="435.82" x2="445.7" y2="435.82" stroke="#5b2a82" stroke-width="0.7" />
<line x1="443.5" y1="437.42" x2="445.7" y2="437.42" stroke="#5b2a82" stroke-width="0.7" />
<circle cx="444.6" cy="436.62" r="0.8" fill="#5b2a82"/>
<line x1="447.88" y1="435.36" x2="447.88" y2="436.96" stroke="#5b2a82" stroke-width="0.8" />
<line x1="446.77" y1="435.36" x2="448.98" y2="435.36" stroke="#5b2a82" stroke-width="0.7" />
<line x1="446.77" y1="436.96" x2="448.98" y2="436.96" stroke="#5b2a82" stroke-width="0.7" />
<circle cx="447.88" cy="436.16" r="0.8" fill="#5b2a82"/>
<line x1="451.15" y1="434.91" x2="451.15" y2="436.51" stroke="#5b2a82" stroke-width="0.8" />
<line x1="450.05" y1="434.91" x2="452.25" y2="434.91" stroke="#5b2a82" stroke-width="0.7" />
<line x1="450.05" y1="436.51" x2="452.25" y2="436.51" stroke="#5b2a82" stroke-width="0.7" />
<circle cx="451.15" cy="435.71" r="0.8" fill="#5b2a82"/>
<line x1="454.43" y1="434.44" x2="454.43" y2="436.04" stroke="#5b2a82" stroke-width="0.8" />
<line x1="453.32" y1="434.44" x2="455.53" y2="434.44" stroke="#5b2a82" stroke-width="0.7" />
<line x1="453.32" y1="436.04" x2="455.53" y2="436.04" stroke="#5b2a82" stroke-width="0.7" />
<circle cx="454.43" cy="435.24" r="0.8" fill="#5b2a82"/>
<line x1="457.7" y1="433.97" x2="457.7" y2="435.57" stroke="#5b2a82" stroke-width="0.8" />
<line x1="456.6" y1="433.97" x2="458.8" y2="433.97" stroke="#5b2a82" stroke-width="0.7" />
<line x1="456.6" y1="435.57" x2="458.8" y2="435.57" stroke="#5b2a82" stroke-width="0.7" />
<circle cx="457.7" cy="434.77" r="0.8" fill="#5b2a82"/>
<line x1="460.97" y1="433.51" x2="460.97" y2="435.11" stroke="#5b2a82" stroke-width="0.8" />
<line x1="459.87" y1="433.51" x2="462.07" y2="433.51" stroke="#5b2a82" stroke-width="0.7" />
<line x1="459.87" y1="435.11" x2="462.07" y2="435.11" stroke="#5b2a82" stroke-width="0.7" />
<circle cx="460.97" cy="434.31" r="0.8" fill="#5b2a82"/>
<line x1="464.25" y1="433.04" x2="464.25" y2="434.64" stroke="#5b2a82" stroke-width="0.8" />
<line x1="463.15" y1="433.04" x2="465.35" y2="433.04" stroke="#5b2a82" stroke-width="0.7" />
<line x1="463.15" y1="434.64" x2="465.35" y2="434.64" stroke="#5b2a82" stroke-width="0.7" />
<circle cx="464.25" cy="433.84" r="0.8" fill="#5b2a82"/>
<line x1="467.52" y1="432.57" x2="467.52" y2="434.17" stroke="#5b2a82" stroke-width="0.8" />
<line x1="466.42" y1="432.57" x2="468.62" y2="432.57" stroke="#5b2a82" stroke-width="0.7" />
<line x1="466.42" y1="434.17" x2="468.62" y2="434.17" stroke="#5b2a82" stroke-width="0.7" />
<circle cx="467.52" cy="433.37" r="0.8" fill="#5b2a82"/>
<line x1="470.8" y1="432.15" x2="470.8" y2="433.75" stroke="#5b2a82" stroke-width="0.8" />
<line x1="469.7" y1="432.15" x2="471.9" y2="432.15" stroke="#5b2a82" stroke-width="0.7" />
<line x1="469.7" y1="433.75" x2="471.9" y2="433.75" stroke="#5b2a82" stroke-width="0.7" />
<circle cx="470.8" cy="432.95" r="0.8" fill="#5b2a82"/>
<line x1="474.07" y1="431.9" x2="474.07" y2="433.5" stroke="#5b2a82" stroke-width="0.8" />
<line x1="472.97" y1="431.9" x2="475.18" y2="431.9" stroke="#5b2a82" stroke-width="0.7" />
<line x1="472.97" y1="433.5" x2="475.18" y2="433.5" stroke="#5b2a82" stroke-width="0.7" />
<circle cx="474.07" cy="432.7" r="0.8" fill="#5b2a82"/>
<line x1="477.35" y1="431.65" x2="477.35" y2="433.25" stroke="#5b2a82" stroke-width="0.8" />
<line x1="476.25" y1="431.65" x2="478.45" y2="431.65" stroke="#5b2a82" stroke-width="0.7" />
<line x1="476.25" y1="433.25" x2="478.45" y2="433.25" stroke="#5b2a82" stroke-width="0.7" />
<circle cx="477.35" cy="432.45" r="0.8" fill="#5b2a82"/>
<line x1="480.62" y1="431.4" x2="480.62" y2="433" stroke="#5b2a82" stroke-width="0.8" />
<line x1="479.52" y1="431.4" x2="481.73" y2="431.4" stroke="#5b2a82" stroke-width="0.7" />
<line x1="479.52" y1="433" x2="481.73" y2="433" stroke="#5b2a82" stroke-width="0.7" />
<circle cx="480.62" cy="432.2" r="0.8" fill="#5b2a82"/>
<line x1="483.9" y1="431.15" x2="483.9" y2="432.75" stroke="#5b2a82" stroke-width="0.8" />
<line x1="482.8" y1="431.15" x2="485" y2="431.15" stroke="#5b2a82" stroke-width="0.7" />
<line x1="482.8" y1="432.75" x2="485" y2="432.75" stroke="#5b2a82" stroke-width="0.7" />
<circle cx="483.9" cy="431.95" r="0.8" fill="#5b2a82"/>
<line x1="487.17" y1="430.9" x2="487.17" y2="432.5" stroke="#5b2a82" stroke-width="0.8" />
<line x1="486.07" y1="430.9" x2="488.27" y2="430.9" stroke="#5b2a82" stroke-width="0.7" />
<line x1="486.07" y1="432.5" x2="488.27" y2="432.5" stroke="#5b2a82" stroke-width="0.7" />
<circle cx="487.17" cy="431.7" r="0.8" fill="#5b2a82"/>
<line x1="490.45" y1="430.75" x2="490.45" y2="432.35" stroke="#5b2a82" stroke-width="0.8" />
<line x1="489.35" y1="430.75" x2="491.55" y2="430.75" stroke="#5b2a82" stroke-width="0.7" />
<line x1="489.35" y1="432.35" x2="491.55" y2="432.35" stroke="#5b2a82" stroke-width="0.7" />
<circle cx="490.45" cy="431.55" r="0.8" fill="#5b2a82"/>
<line x1="493.72" y1="430.6" x2="493.72" y2="432.2" stroke="#5b2a82" stroke-width="0.8" />
<line x1="492.62" y1="430.6" x2="494.82" y2="430.6" stroke="#5b2a82" stroke-width="0.7" />
<line x1="492.62" y1="432.2" x2="494.82" y2="432.2" stroke="#5b2a82" stroke-width="0.7" />
<circle cx="493.72" cy="431.4" r="0.8" fill="#5b2a82"/>
<line x1="497" y1="430.46" x2="497" y2="432.06" stroke="#5b2a82" stroke-width="0.8" />
<line x1="495.9" y1="430.46" x2="498.1" y2="430.46" stroke="#5b2a82" stroke-width="0.7" />
<line x1="495.9" y1="432.06" x2="498.1" y2="432.06" stroke="#5b2a82" stroke-width="0.7" />
<circle cx="497" cy="431.26" r="0.8" fill="#5b2a82"/>
<line x1="500.27" y1="430.31" x2="500.27" y2="431.91" stroke="#5b2a82" stroke-width="0.8" />
<line x1="499.17" y1="430.31" x2="501.38" y2="430.31" stroke="#5b2a82" stroke-width="0.7" />
<line x1="499.17" y1="431.91" x2="501.38" y2="431.91" stroke="#5b2a82" stroke-width="0.7" />
<circle cx="500.27" cy="431.11" r="0.8" fill="#5b2a82"/>
<line x1="503.55" y1="430.17" x2="503.55" y2="431.77" stroke="#5b2a82" stroke-width="0.8" />
<line x1="502.45" y1="430.17" x2="504.65" y2="430.17" stroke="#5b2a82" stroke-width="0.7" />
<line x1="502.45" y1="431.77" x2="504.65" y2="431.77" stroke="#5b2a82" stroke-width="0.7" />
<circle cx="503.55" cy="430.97" r="0.8" fill="#5b2a82"/>
<line x1="506.82" y1="430.02" x2="506.82" y2="431.62" stroke="#5b2a82" stroke-width="0.8" />
<line x1="505.72" y1="430.02" x2="507.93" y2="430.02" stroke="#5b2a82" stroke-width="0.7" />
<line x1="505.72" y1="431.62" x2="507.93" y2="431.62" stroke="#5b2a82" stroke-width="0.7" />
<circle cx="506.82" cy="430.82" r="0.8" fill="#5b2a82"/>
<path d="M392.2,442.58 L395.47,441.71 L398.75,440.84 L402.02,439.97 L405.3,439.1 L408.57,438.23 L411.85,437.37 L415.12,436.51 L418.4,435.64 L421.68,434.78 L424.95,434.19 L428.22,433.72 L431.5,433.25 L434.77,432.77 L438.05,432.3 L441.32,431.79 L444.6,431.28 L447.88,430.78 L451.15,430.27 L454.43,429.86 L457.7,429.47 L460.97,429.08 L464.25,428.69 L467.52,428.3 L470.8,427.94 L474.07,427.69 L477.35,427.44 L480.62,427.19 L483.9,426.94 L487.17,426.69 L490.45,426.51 L493.72,426.32 L497,426.14 L500.27,425.96 L503.55,425.78 L506.82,425.6" fill="none" stroke="#f7941d" stroke-width="1.1" stroke-linejoin="round" />
<line x1="392.2" y1="441.78" x2="392.2" y2="443.38" stroke="#f7941d" stroke-width="0.8" />
<line x1="391.1" y1="441.78" x2="393.3" y2="441.78" stroke="#f7941d" stroke-width="0.7" />
<line x1="391.1" y1="443.38" x2="393.3" y2="443.38" stroke="#f7941d" stroke-width="0.7" />
<circle cx="392.2" cy="442.58" r="0.8" fill="#f7941d"/>
<line x1="395.47" y1="440.91" x2="395.47" y2="442.51" stroke="#f7941d" stroke-width="0.8" />
<line x1="394.37" y1="440.91" x2="396.57" y2="440.91" stroke="#f7941d" stroke-width="0.7" />
<line x1="394.37" y1="442.51" x2="396.57" y2="442.51" stroke="#f7941d" stroke-width="0.7" />
<circle cx="395.47" cy="441.71" r="0.8" fill="#f7941d"/>
<line x1="398.75" y1="440.04" x2="398.75" y2="441.64" stroke="#f7941d" stroke-width="0.8" />
<line x1="397.65" y1="440.04" x2="399.85" y2="440.04" stroke="#f7941d" stroke-width="0.7" />
<line x1="397.65" y1="441.64" x2="399.85" y2="441.64" stroke="#f7941d" stroke-width="0.7" />
<circle cx="398.75" cy="440.84" r="0.8" fill="#f7941d"/>
<line x1="402.02" y1="439.17" x2="402.02" y2="440.77" stroke="#f7941d" stroke-width="0.8" />
<line x1="400.92" y1="439.17" x2="403.12" y2="439.17" stroke="#f7941d" stroke-width="0.7" />
<line x1="400.92" y1="440.77" x2="403.12" y2="440.77" stroke="#f7941d" stroke-width="0.7" />
<circle cx="402.02" cy="439.97" r="0.8" fill="#f7941d"/>
<line x1="405.3" y1="438.3" x2="405.3" y2="439.9" stroke="#f7941d" stroke-width="0.8" />
<line x1="404.2" y1="438.3" x2="406.4" y2="438.3" stroke="#f7941d" stroke-width="0.7" />
<line x1="404.2" y1="439.9" x2="406.4" y2="439.9" stroke="#f7941d" stroke-width="0.7" />
<circle cx="405.3" cy="439.1" r="0.8" fill="#f7941d"/>
<line x1="408.57" y1="437.43" x2="408.57" y2="439.03" stroke="#f7941d" stroke-width="0.8" />
<line x1="407.47" y1="437.43" x2="409.68" y2="437.43" stroke="#f7941d" stroke-width="0.7" />
<line x1="407.47" y1="439.03" x2="409.68" y2="439.03" stroke="#f7941d" stroke-width="0.7" />
<circle cx="408.57" cy="438.23" r="0.8" fill="#f7941d"/>
<line x1="411.85" y1="436.57" x2="411.85" y2="438.17" stroke="#f7941d" stroke-width="0.8" />
<line x1="410.75" y1="436.57" x2="412.95" y2="436.57" stroke="#f7941d" stroke-width="0.7" />
<line x1="410.75" y1="438.17" x2="412.95" y2="438.17" stroke="#f7941d" stroke-width="0.7" />
<circle cx="411.85" cy="437.37" r="0.8" fill="#f7941d"/>
<line x1="415.12" y1="435.71" x2="415.12" y2="437.31" stroke="#f7941d" stroke-width="0.8" />
<line x1="414.02" y1="435.71" x2="416.23" y2="435.71" stroke="#f7941d" stroke-width="0.7" />
<line x1="414.02" y1="437.31" x2="416.23" y2="437.31" stroke="#f7941d" stroke-width="0.7" />
<circle cx="415.12" cy="436.51" r="0.8" fill="#f7941d"/>
<line x1="418.4" y1="434.84" x2="418.4" y2="436.44" stroke="#f7941d" stroke-width="0.8" />
<line x1="417.3" y1="434.84" x2="419.5" y2="434.84" stroke="#f7941d" stroke-width="0.7" />
<line x1="417.3" y1="436.44" x2="419.5" y2="436.44" stroke="#f7941d" stroke-width="0.7" />
<circle cx="418.4" cy="435.64" r="0.8" fill="#f7941d"/>
<line x1="421.68" y1="433.98" x2="421.68" y2="435.58" stroke="#f7941d" stroke-width="0.8" />
<line x1="420.57" y1="433.98" x2="422.78" y2="433.98" stroke="#f7941d" stroke-width="0.7" />
<line x1="420.57" y1="435.58" x2="422.78" y2="435.58" stroke="#f7941d" stroke-width="0.7" />
<circle cx="421.68" cy="434.78" r="0.8" fill="#f7941d"/>
<line x1="424.95" y1="433.39" x2="424.95" y2="434.99" stroke="#f7941d" stroke-width="0.8" />
<line x1="423.85" y1="433.39" x2="426.05" y2="433.39" stroke="#f7941d" stroke-width="0.7" />
<line x1="423.85" y1="434.99" x2="426.05" y2="434.99" stroke="#f7941d" stroke-width="0.7" />
<circle cx="424.95" cy="434.19" r="0.8" fill="#f7941d"/>
<line x1="428.22" y1="432.92" x2="428.22" y2="434.52" stroke="#f7941d" stroke-width="0.8" />
<line x1="427.12" y1="432.92" x2="429.32" y2="432.92" stroke="#f7941d" stroke-width="0.7" />
<line x1="427.12" y1="434.52" x2="429.32" y2="434.52" stroke="#f7941d" stroke-width="0.7" />
<circle cx="428.22" cy="433.72" r="0.8" fill="#f7941d"/>
<line x1="431.5" y1="432.45" x2="431.5" y2="434.05" stroke="#f7941d" stroke-width="0.8" />
<line x1="430.4" y1="432.45" x2="432.6" y2="432.45" stroke="#f7941d" stroke-width="0.7" />
<line x1="430.4" y1="434.05" x2="432.6" y2="434.05" stroke="#f7941d" stroke-width="0.7" />
<circle cx="431.5" cy="433.25" r="0.8" fill="#f7941d"/>
<line x1="434.77" y1="431.97" x2="434.77" y2="433.57" stroke="#f7941d" stroke-width="0.8" />
<line x1="433.67" y1="431.97" x2="435.88" y2="431.97" stroke="#f7941d" stroke-width="0.7" />
<line x1="433.67" y1="433.57" x2="435.88" y2="433.57" stroke="#f7941d" stroke-width="0.7" />
<circle cx="434.77" cy="432.77" r="0.8" fill="#f7941d"/>
<line x1="438.05" y1="431.5" x2="438.05" y2="433.1" stroke="#f7941d" stroke-width="0.8" />
<line x1="436.95" y1="431.5" x2="439.15" y2="431.5" stroke="#f7941d" stroke-width="0.7" />
<line x1="436.95" y1="433.1" x2="439.15" y2="433.1" stroke="#f7941d" stroke-width="0.7" />
<circle cx="438.05" cy="432.3" r="0.8" fill="#f7941d"/>
<line x1="441.32" y1="430.99" x2="441.32" y2="432.59" stroke="#f7941d" stroke-width="0.8" />
<line x1="440.22" y1="430.99" x2="442.43" y2="430.99" stroke="#f7941d" stroke-width="0.7" />
<line x1="440.22" y1="432.59" x2="442.43" y2="432.59" stroke="#f7941d" stroke-width="0.7" />
<circle cx="441.32" cy="431.79" r="0.8" fill="#f7941d"/>
<line x1="444.6" y1="430.48" x2="444.6" y2="432.08" stroke="#f7941d" stroke-width="0.8" />
<line x1="443.5" y1="430.48" x2="445.7" y2="430.48" stroke="#f7941d" stroke-width="0.7" />
<line x1="443.5" y1="432.08" x2="445.7" y2="432.08" stroke="#f7941d" stroke-width="0.7" />
<circle cx="444.6" cy="431.28" r="0.8" fill="#f7941d"/>
<line x1="447.88" y1="429.98" x2="447.88" y2="431.58" stroke="#f7941d" stroke-width="0.8" />
<line x1="446.77" y1="429.98" x2="448.98" y2="429.98" stroke="#f7941d" stroke-width="0.7" />
<line x1="446.77" y1="431.58" x2="448.98" y2="431.58" stroke="#f7941d" stroke-width="0.7" />
<circle cx="447.88" cy="430.78" r="0.8" fill="#f7941d"/>
<line x1="451.15" y1="429.47" x2="451.15" y2="431.07" stroke="#f7941d" stroke-width="0.8" />
<line x1="450.05" y1="429.47" x2="452.25" y2="429.47" stroke="#f7941d" stroke-width="0.7" />
<line x1="450.05" y1="431.07" x2="452.25" y2="431.07" stroke="#f7941d" stroke-width="0.7" />
<circle cx="451.15" cy="430.27" r="0.8" fill="#f7941d"/>
<line x1="454.43" y1="429.06" x2="454.43" y2="430.66" stroke="#f7941d" stroke-width="0.8" />
<line x1="453.32" y1="429.06" x2="455.53" y2="429.06" stroke="#f7941d" stroke-width="0.7" />
<line x1="453.32" y1="430.66" x2="455.53" y2="430.66" stroke="#f7941d" stroke-width="0.7" />
<circle cx="454.43" cy="429.86" r="0.8" fill="#f7941d"/>
<line x1="457.7" y1="428.67" x2="457.7" y2="430.27" stroke="#f7941d" stroke-width="0.8" />
<line x1="456.6" y1="428.67" x2="458.8" y2="428.67" stroke="#f7941d" stroke-width="0.7" />
<line x1="456.6" y1="430.27" x2="458.8" y2="430.27" stroke="#f7941d" stroke-width="0.7" />
<circle cx="457.7" cy="429.47" r="0.8" fill="#f7941d"/>
<line x1="460.97" y1="428.28" x2="460.97" y2="429.88" stroke="#f7941d" stroke-width="0.8" />
<line x1="459.87" y1="428.28" x2="462.07" y2="428.28" stroke="#f7941d" stroke-width="0.7" />
<line x1="459.87" y1="429.88" x2="462.07" y2="429.88" stroke="#f7941d" stroke-width="0.7" />
<circle cx="460.97" cy="429.08" r="0.8" fill="#f7941d"/>
<line x1="464.25" y1="427.89" x2="464.25" y2="429.49" stroke="#f7941d" stroke-width="0.8" />
<line x1="463.15" y1="427.89" x2="465.35" y2="427.89" stroke="#f7941d" stroke-width="0.7" />
<line x1="463.15" y1="429.49" x2="465.35" y2="429.49" stroke="#f7941d" stroke-width="0.7" />
<circle cx="464.25" cy="428.69" r="0.8" fill="#f7941d"/>
<line x1="467.52" y1="427.5" x2="467.52" y2="429.1" stroke="#f7941d" stroke-width="0.8" />
<line x1="466.42" y1="427.5" x2="468.62" y2="427.5" stroke="#f7941d" stroke-width="0.7" />
<line x1="466.42" y1="429.1" x2="468.62" y2="429.1" stroke="#f7941d" stroke-width="0.7" />
<circle cx="467.52" cy="428.3" r="0.8" fill="#f7941d"/>
<line x1="470.8" y1="427.14" x2="470.8" y2="428.74" stroke="#f7941d" stroke-width="0.8" />
<line x1="469.7" y1="427.14" x2="471.9" y2="427.14" stroke="#f7941d" stroke-width="0.7" />
<line x1="469.7" y1="428.74" x2="471.9" y2="428.74" stroke="#f7941d" stroke-width="0.7" />
<circle cx="470.8" cy="427.94" r="0.8" fill="#f7941d"/>
<line x1="474.07" y1="426.89" x2="474.07" y2="428.49" stroke="#f7941d" stroke-width="0.8" />
<line x1="472.97" y1="426.89" x2="475.18" y2="426.89" stroke="#f7941d" stroke-width="0.7" />
<line x1="472.97" y1="428.49" x2="475.18" y2="428.49" stroke="#f7941d" stroke-width="0.7" />
<circle cx="474.07" cy="427.69" r="0.8" fill="#f7941d"/>
<line x1="477.35" y1="426.64" x2="477.35" y2="428.24" stroke="#f7941d" stroke-width="0.8" />
<line x1="476.25" y1="426.64" x2="478.45" y2="426.64" stroke="#f7941d" stroke-width="0.7" />
<line x1="476.25" y1="428.24" x2="478.45" y2="428.24" stroke="#f7941d" stroke-width="0.7" />
<circle cx="477.35" cy="427.44" r="0.8" fill="#f7941d"/>
<line x1="480.62" y1="426.39" x2="480.62" y2="427.99" stroke="#f7941d" stroke-width="0.8" />
<line x1="479.52" y1="426.39" x2="481.73" y2="426.39" stroke="#f7941d" stroke-width="0.7" />
<line x1="479.52" y1="427.99" x2="481.73" y2="427.99" stroke="#f7941d" stroke-width="0.7" />
<circle cx="480.62" cy="427.19" r="0.8" fill="#f7941d"/>
<line x1="483.9" y1="426.14" x2="483.9" y2="427.74" stroke="#f7941d" stroke-width="0.8" />
<line x1="482.8" y1="426.14" x2="485" y2="426.14" stroke="#f7941d" stroke-width="0.7" />
<line x1="482.8" y1="427.74" x2="485" y2="427.74" stroke="#f7941d" stroke-width="0.7" />
<circle cx="483.9" cy="426.94" r="0.8" fill="#f7941d"/>
<line x1="487.17" y1="425.89" x2="487.17" y2="427.49" stroke="#f7941d" stroke-width="0.8" />
<line x1="486.07" y1="425.89" x2="488.27" y2="425.89" stroke="#f7941d" stroke-width="0.7" />
<line x1="486.07" y1="427.49" x2="488.27" y2="427.49" stroke="#f7941d" stroke-width="0.7" />
<circle cx="487.17" cy="426.69" r="0.8" fill="#f7941d"/>
<line x1="490.45" y1="425.71" x2="490.45" y2="427.31" stroke="#f7941d" stroke-width="0.8" />
<line x1="489.35" y1="425.71" x2="491.55" y2="425.71" stroke="#f7941d" stroke-width="0.7" />
<line x1="489.35" y1="427.31" x2="491.55" y2="427.31" stroke="#f7941d" stroke-width="0.7" />
<circle cx="490.45" cy="426.51" r="0.8" fill="#f7941d"/>
<line x1="493.72" y1="425.52" x2="493.72" y2="427.12" stroke="#f7941d" stroke-width="0.8" />
<line x1="492.62" y1="425.52" x2="494.82" y2="425.52" stroke="#f7941d" stroke-width="0.7" />
<line x1="492.62" y1="427.12" x2="494.82" y2="427.12" stroke="#f7941d" stroke-width="0.7" />
<circle cx="493.72" cy="426.32" r="0.8" fill="#f7941d"/>
<line x1="497" y1="425.34" x2="497" y2="426.94" stroke="#f7941d" stroke-width="0.8" />
<line x1="495.9" y1="425.34" x2="498.1" y2="425.34" stroke="#f7941d" stroke-width="0.7" />
<line x1="495.9" y1="426.94" x2="498.1" y2="426.94" stroke="#f7941d" stroke-width="0.7" />
<circle cx="497" cy="426.14" r="0.8" fill="#f7941d"/>
<line x1="500.27" y1="425.16" x2="500.27" y2="426.76" stroke="#f7941d" stroke-width="0.8" />
<line x1="499.17" y1="425.16" x2="501.38" y2="425.16" stroke="#f7941d" stroke-width="0.7" />
<line x1="499.17" y1="426.76" x2="501.38" y2="426.76" stroke="#f7941d" stroke-width="0.7" />
<circle cx="500.27" cy="425.96" r="0.8" fill="#f7941d"/>
<line x1="503.55" y1="424.98" x2="503.55" y2="426.58" stroke="#f7941d" stroke-width="0.8" />
<line x1="502.45" y1="424.98" x2="504.65" y2="424.98" stroke="#f7941d" stroke-width="0.7" />
<line x1="502.45" y1="426.58" x2="504.65" y2="426.58" stroke="#f7941d" stroke-width="0.7" />
<circle cx="503.55" cy="425.78" r="0.8" fill="#f7941d"/>
<line x1="506.82" y1="424.8" x2="506.82" y2="426.4" stroke="#f7941d" stroke-width="0.8" />
<line x1="505.72" y1="424.8" x2="507.93" y2="424.8" stroke="#f7941d" stroke-width="0.7" />
<line x1="505.72" y1="426.4" x2="507.93" y2="426.4" stroke="#f7941d" stroke-width="0.7" />
<circle cx="506.82" cy="425.6" r="0.8" fill="#f7941d"/>
<path d="M392.2,444.11 L395.47,443.23 L398.75,442.36 L402.02,441.49 L405.3,440.62 L408.57,439.75 L411.85,438.89 L415.12,438.03 L418.4,437.17 L421.68,436.31 L424.95,435.68 L428.22,435.16 L431.5,434.64 L434.77,434.12 L438.05,433.6 L441.32,433.04 L444.6,432.48 L447.88,431.93 L451.15,431.37 L454.43,430.89 L457.7,430.42 L460.97,429.95 L464.25,429.49 L467.52,429.02 L470.8,428.59 L474.07,428.3 L477.35,428 L480.62,427.71 L483.9,427.42 L487.17,427.12 L490.45,426.94 L493.72,426.76 L497,426.58 L500.27,426.4 L503.55,426.22 L506.82,426.03" fill="none" stroke="#3cb44b" stroke-width="1.1" stroke-linejoin="round" />
<line x1="392.2" y1="443.31" x2="392.2" y2="444.91" stroke="#3cb44b" stroke-width="0.8" />
<line x1="391.1" y1="443.31" x2="393.3" y2="443.31" stroke="#3cb44b" stroke-width="0.7" />
<line x1="391.1" y1="444.91" x2="393.3" y2="444.91" stroke="#3cb44b" stroke-width="0.7" />
<circle cx="392.2" cy="444.11" r="0.8" fill="#3cb44b"/>
<line x1="395.47" y1="442.43" x2="395.47" y2="444.03" stroke="#3cb44b" stroke-width="0.8" />
<line x1="394.37" y1="442.43" x2="396.57" y2="442.43" stroke="#3cb44b" stroke-width="0.7" />
<line x1="394.37" y1="444.03" x2="396.57" y2="444.03" stroke="#3cb44b" stroke-width="0.7" />
<circle cx="395.47" cy="443.23" r="0.8" fill="#3cb44b"/>
<line x1="398.75" y1="441.56" x2="398.75" y2="443.16" stroke="#3cb44b" stroke-width="0.8" />
<line x1="397.65" y1="441.56" x2="399.85" y2="441.56" stroke="#3cb44b" stroke-width="0.7" />
<line x1="397.65" y1="443.16" x2="399.85" y2="443.16" stroke="#3cb44b" stroke-width="0.7" />
<circle cx="398.75" cy="442.36" r="0.8" fill="#3cb44b"/>
<line x1="402.02" y1="440.69" x2="402.02" y2="442.29" stroke="#3cb44b" stroke-width="0.8" />
<line x1="400.92" y1="440.69" x2="403.12" y2="440.69" stroke="#3cb44b" stroke-width="0.7" />
<line x1="400.92" y1="442.29" x2="403.12" y2="442.29" stroke="#3cb44b" stroke-width="0.7" />
<circle cx="402.02" cy="441.49" r="0.8" fill="#3cb44b"/>
<line x1="405.3" y1="439.82" x2="405.3" y2="441.42" stroke="#3cb44b" stroke-width="0.8" />
<line x1="404.2" y1="439.82" x2="406.4" y2="439.82" stroke="#3cb44b" stroke-width="0.7" />
<line x1="404.2" y1="441.42" x2="406.4" y2="441.42" stroke="#3cb44b" stroke-width="0.7" />
<circle cx="405.3" cy="440.62" r="0.8" fill="#3cb44b"/>
<line x1="408.57" y1="438.95" x2="408.57" y2="440.55" stroke="#3cb44b" stroke-width="0.8" />
<line x1="407.47" y1="438.95" x2="409.68" y2="438.95" stroke="#3cb44b" stroke-width="0.7" />
<line x1="407.47" y1="440.55" x2="409.68" y2="440.55" stroke="#3cb44b" stroke-width="0.7" />
<circle cx="408.57" cy="439.75" r="0.8" fill="#3cb44b"/>
<line x1="411.85" y1="438.09" x2="411.85" y2="439.69" stroke="#3cb44b" stroke-width="0.8" />
<line x1="410.75" y1="438.09" x2="412.95" y2="438.09" stroke="#3cb44b" stroke-width="0.7" />
<line x1="410.75" y1="439.69" x2="412.95" y2="439.69" stroke="#3cb44b" stroke-width="0.7" />
<circle cx="411.85" cy="438.89" r="0.8" fill="#3cb44b"/>
<line x1="415.12" y1="437.23" x2="415.12" y2="438.83" stroke="#3cb44b" stroke-width="0.8" />
<line x1="414.02" y1="437.23" x2="416.23" y2="437.23" stroke="#3cb44b" stroke-width="0.7" />
<line x1="414.02" y1="438.83" x2="416.23" y2="438.83" stroke="#3cb44b" stroke-width="0.7" />
<circle cx="415.12" cy="438.03" r="0.8" fill="#3cb44b"/>
<line x1="418.4" y1="436.37" x2="418.4" y2="437.97" stroke="#3cb44b" stroke-width="0.8" />
<line x1="417.3" y1="436.37" x2="419.5" y2="436.37" stroke="#3cb44b" stroke-width="0.7" />
<line x1="417.3" y1="437.97" x2="419.5" y2="437.97" stroke="#3cb44b" stroke-width="0.7" />
<circle cx="418.4" cy="437.17" r="0.8" fill="#3cb44b"/>
<line x1="421.68" y1="435.51" x2="421.68" y2="437.11" stroke="#3cb44b" stroke-width="0.8" />
<line x1="420.57" y1="435.51" x2="422.78" y2="435.51" stroke="#3cb44b" stroke-width="0.7" />
<line x1="420.57" y1="437.11" x2="422.78" y2="437.11" stroke="#3cb44b" stroke-width="0.7" />
<circle cx="421.68" cy="436.31" r="0.8" fill="#3cb44b"/>
<line x1="424.95" y1="434.88" x2="424.95" y2="436.48" stroke="#3cb44b" stroke-width="0.8" />
<line x1="423.85" y1="434.88" x2="426.05" y2="434.88" stroke="#3cb44b" stroke-width="0.7" />
<line x1="423.85" y1="436.48" x2="426.05" y2="436.48" stroke="#3cb44b" stroke-width="0.7" />
<circle cx="424.95" cy="435.68" r="0.8" fill="#3cb44b"/>
<line x1="428.22" y1="434.36" x2="428.22" y2="435.96" stroke="#3cb44b" stroke-width="0.8" />
<line x1="427.12" y1="434.36" x2="429.32" y2="434.36" stroke="#3cb44b" stroke-width="0.7" />
<line x1="427.12" y1="435.96" x2="429.32" y2="435.96" stroke="#3cb44b" stroke-width="0.7" />
<circle cx="428.22" cy="435.16" r="0.8" fill="#3cb44b"/>
<line x1="431.5" y1="433.84" x2="431.5" y2="435.44" stroke="#3cb44b" stroke-width="0.8" />
<line x1="430.4" y1="433.84" x2="432.6" y2="433.84" stroke="#3cb44b" stroke-width="0.7" />
<line x1="430.4" y1="435.44" x2="432.6" y2="435.44" stroke="#3cb44b" stroke-width="0.7" />
<circle cx="431.5" cy="434.64" r="0.8" fill="#3cb44b"/>
<line x1="434.77" y1="433.32" x2="434.77" y2="434.92" stroke="#3cb44b" stroke-width="0.8" />
<line x1="433.67" y1="433.32" x2="435.88" y2="433.32" stroke="#3cb44b" stroke-width="0.7" />
<line x1="433.67" y1="434.92" x2="435.88" y2="434.92" stroke="#3cb44b" stroke-width="0.7" />
<circle cx="434.77" cy="434.12" r="0.8" fill="#3cb44b"/>
<line x1="438.05" y1="432.8" x2="438.05" y2="434.4" stroke="#3cb44b" stroke-width="0.8" />
<line x1="436.95" y1="432.8" x2="439.15" y2="432.8" stroke="#3cb44b" stroke-width="0.7" />
<line x1="436.95" y1="434.4" x2="439.15" y2="434.4" stroke="#3cb44b" stroke-width="0.7" />
<circle cx="438.05" cy="433.6" r="0.8" fill="#3cb44b"/>
<line x1="441.32" y1="432.24" x2="441.32" y2="433.84" stroke="#3cb44b" stroke-width="0.8" />
<line x1="440.22" y1="432.24" x2="442.43" y2="432.24" stroke="#3cb44b" stroke-width="0.7" />
<line x1="440.22" y1="433.84" x2="442.43" y2="433.84" stroke="#3cb44b" stroke-width="0.7" />
<circle cx="441.32" cy="433.04" r="0.8" fill="#3cb44b"/>
<line x1="444.6" y1="431.68" x2="444.6" y2="433.28" stroke="#3cb44b" stroke-width="0.8" />
<line x1="443.5" y1="431.68" x2="445.7" y2="431.68" stroke="#3cb44b" stroke-width="0.7" />
<line x1="443.5" y1="433.28" x2="445.7" y2="433.28" stroke="#3cb44b" stroke-width="0.7" />
<circle cx="444.6" cy="432.48" r="0.8" fill="#3cb44b"/>
<line x1="447.88" y1="431.13" x2="447.88" y2="432.73" stroke="#3cb44b" stroke-width="0.8" />
<line x1="446.77" y1="431.13" x2="448.98" y2="431.13" stroke="#3cb44b" stroke-width="0.7" />
<line x1="446.77" y1="432.73" x2="448.98" y2="432.73" stroke="#3cb44b" stroke-width="0.7" />
<circle cx="447.88" cy="431.93" r="0.8" fill="#3cb44b"/>
<line x1="451.15" y1="430.57" x2="451.15" y2="432.17" stroke="#3cb44b" stroke-width="0.8" />
<line x1="450.05" y1="430.57" x2="452.25" y2="430.57" stroke="#3cb44b" stroke-width="0.7" />
<line x1="450.05" y1="432.17" x2="452.25" y2="432.17" stroke="#3cb44b" stroke-width="0.7" />
<circle cx="451.15" cy="431.37" r="0.8" fill="#3cb44b"/>
<line x1="454.43" y1="430.09" x2="454.43" y2="431.69" stroke="#3cb44b" stroke-width="0.8" />
<line x1="453.32" y1="430.09" x2="455.53" y2="430.09" stroke="#3cb44b" stroke-width="0.7" />
<line x1="453.32" y1="431.69" x2="455.53" y2="431.69" stroke="#3cb44b" stroke-width="0.7" />
<circle cx="454.43" cy="430.89" r="0.8" fill="#3cb44b"/>
<line x1="457.7" y1="429.62" x2="457.7" y2="431.22" stroke="#3cb44b" stroke-width="0.8" />
<line x1="456.6" y1="429.62" x2="458.8" y2="429.62" stroke="#3cb44b" stroke-width="0.7" />
<line x1="456.6" y1="431.22" x2="458.8" y2="431.22" stroke="#3cb44b" stroke-width="0.7" />
<circle cx="457.7" cy="430.42" r="0.8" fill="#3cb44b"/>
<line x1="460.97" y1="429.15" x2="460.97" y2="430.75" stroke="#3cb44b" stroke-width="0.8" />
<line x1="459.87" y1="429.15" x2="462.07" y2="429.15" stroke="#3cb44b" stroke-width="0.7" />
<line x1="459.87" y1="430.75" x2="462.07" y2="430.75" stroke="#3cb44b" stroke-width="0.7" />
<circle cx="460.97" cy="429.95" r="0.8" fill="#3cb44b"/>
<line x1="464.25" y1="428.69" x2="464.25" y2="430.29" stroke="#3cb44b" stroke-width="0.8" />
<line x1="463.15" y1="428.69" x2="465.35" y2="428.69" stroke="#3cb44b" stroke-width="0.7" />
<line x1="463.15" y1="430.29" x2="465.35" y2="430.29" stroke="#3cb44b" stroke-width="0.7" />
<circle cx="464.25" cy="429.49" r="0.8" fill="#3cb44b"/>
<line x1="467.52" y1="428.22" x2="467.52" y2="429.82" stroke="#3cb44b" stroke-width="0.8" />
<line x1="466.42" y1="428.22" x2="468.62" y2="428.22" stroke="#3cb44b" stroke-width="0.7" />
<line x1="466.42" y1="429.82" x2="468.62" y2="429.82" stroke="#3cb44b" stroke-width="0.7" />
<circle cx="467.52" cy="429.02" r="0.8" fill="#3cb44b"/>
<line x1="470.8" y1="427.79" x2="470.8" y2="429.39" stroke="#3cb44b" stroke-width="0.8" />
<line x1="469.7" y1="427.79" x2="471.9" y2="427.79" stroke="#3cb44b" stroke-width="0.7" />
<line x1="469.7" y1="429.39" x2="471.9" y2="429.39" stroke="#3cb44b" stroke-width="0.7" />
<circle cx="470.8" cy="428.59" r="0.8" fill="#3cb44b"/>
<line x1="474.07" y1="427.5" x2="474.07" y2="429.1" stroke="#3cb44b" stroke-width="0.8" />
<line x1="472.97" y1="427.5" x2="475.18" y2="427.5" stroke="#3cb44b" stroke-width="0.7" />
<line x1="472.97" y1="429.1" x2="475.18" y2="429.1" stroke="#3cb44b" stroke-width="0.7" />
<circle cx="474.07" cy="428.3" r="0.8" fill="#3cb44b"/>
<line x1="477.35" y1="427.2" x2="477.35" y2="428.8" stroke="#3cb44b" stroke-width="0.8" />
<line x1="476.25" y1="427.2" x2="478.45" y2="427.2" stroke="#3cb44b" stroke-width="0.7" />
<line x1="476.25" y1="428.8" x2="478.45" y2="428.8" stroke="#3cb44b" stroke-width="0.7" />
<circle cx="477.35" cy="428" r="0.8" fill="#3cb44b"/>
<line x1="480.62" y1="426.91" x2="480.62" y2="428.51" stroke="#3cb44b" stroke-width="0.8" />
<line x1="479.52" y1="426.91" x2="481.73" y2="426.91" stroke="#3cb44b" stroke-width="0.7" />
<line x1="479.52" y1="428.51" x2="481.73" y2="428.51" stroke="#3cb44b" stroke-width="0.7" />
<circle cx="480.62" cy="427.71" r="0.8" fill="#3cb44b"/>
<line x1="483.9" y1="426.62" x2="483.9" y2="428.22" stroke="#3cb44b" stroke-width="0.8" />
<line x1="482.8" y1="426.62" x2="485" y2="426.62" stroke="#3cb44b" stroke-width="0.7" />
<line x1="482.8" y1="428.22" x2="485" y2="428.22" stroke="#3cb44b" stroke-width="0.7" />
<circle cx="483.9" cy="427.42" r="0.8" fill="#3cb44b"/>
<line x1="487.17" y1="426.32" x2="487.17" y2="427.92" stroke="#3cb44b" stroke-width="0.8" />
<line x1="486.07" y1="426.32" x2="488.27" y2="426.32" stroke="#3cb44b" stroke-width="0.7" />
<line x1="486.07" y1="427.92" x2="488.27" y2="427.92" stroke="#3cb44b" stroke-width="0.7" />
<circle cx="487.17" cy="427.12" r="0.8" fill="#3cb44b"/>
<line x1="490.45" y1="426.14" x2="490.45" y2="427.74" stroke="#3cb44b" stroke-width="0.8" />
<line x1="489.35" y1="426.14" x2="491.55" y2="426.14" stroke="#3cb44b" stroke-width="0.7" />
<line x1="489.35" y1="427.74" x2="491.55" y2="427.74" stroke="#3cb44b" stroke-width="0.7" />
<circle cx="490.45" cy="426.94" r="0.8" fill="#3cb44b"/>
<line x1="493.72" y1="425.96" x2="493.72" y2="427.56" stroke="#3cb44b" stroke-width="0.8" />
<line x1="492.62" y1="425.96" x2="494.82" y2="425.96" stroke="#3cb44b" stroke-width="0.7" />
<line x1="492.62" y1="427.56" x2="494.82" y2="427.56" stroke="#3cb44b" stroke-width="0.7" />
<circle cx="493.72" cy="426.76" r="0.8" fill="#3cb44b"/>
<line x1="497" y1="425.78" x2="497" y2="427.38" stroke="#3cb44b" stroke-width="0.8" />
<line x1="495.9" y1="425.78" x2="498.1" y2="425.78" stroke="#3cb44b" stroke-width="0.7" />
<line x1="495.9" y1="427.38" x2="498.1" y2="427.38" stroke="#3cb44b" stroke-width="0.7" />
<circle cx="497" cy="426.58" r="0.8" fill="#3cb44b"/>
<line x1="500.27" y1="425.6" x2="500.27" y2="427.2" stroke="#3cb44b" stroke-width="0.8" />
<line x1="499.17" y1="425.6" x2="501.38" y2="425.6" stroke="#3cb44b" stroke-width="0.7" />
<line x1="499.17" y1="427.2" x2="501.38" y2="427.2" stroke="#3cb44b" stroke-width="0.7" />
<circle cx="500.27" cy="426.4" r="0.8" fill="#3cb44b"/>
<line x1="503.55" y1="425.42" x2="503.55" y2="427.02" stroke="#3cb44b" stroke-width="0.8" />
<line x1="502.45" y1="425.42" x2="504.65" y2="425.42" stroke="#3cb44b" stroke-width="0.7" />
<line x1="502.45" y1="427.02" x2="504.65" y2="427.02" stroke="#3cb44b" stroke-width="0.7" />
<circle cx="503.55" cy="426.22" r="0.8" fill="#3cb44b"/>
<line x1="506.82" y1="425.23" x2="506.82" y2="426.83" stroke="#3cb44b" stroke-width="0.8" />
<line x1="505.72" y1="425.23" x2="507.93" y2="425.23" stroke="#3cb44b" stroke-width="0.7" />
<line x1="505.72" y1="426.83" x2="507.93" y2="426.83" stroke="#3cb44b" stroke-width="0.7" />
<circle cx="506.82" cy="426.03" r="0.8" fill="#3cb44b"/>
<path d="M392.2,438.4 L395.47,437.08 L398.75,436.07 L402.02,434.79 L405.3,433.28 L408.57,431.98 L411.85,430.73 L415.12,428.9 L418.4,427.15 L421.68,425.39 L424.95,423.68 L428.22,422.81 L431.5,421.36 L434.77,420.06 L438.05,418.47 L441.32,418.1 L444.6,417.09 L447.88,415.93 L451.15,415.12 L454.43,413.21 L457.7,412.86 L460.97,413.26 L464.25,411.97 L467.52,410.69 L470.8,410.33 L474.07,411.2 L477.35,411.1 L480.62,410.83 L483.9,410.15 L487.17,409.99 L490.45,411.14 L493.72,412.04 L497,412.39 L500.27,412.12 L503.55,412.35 L506.82,412.03" fill="none" stroke="#1f5b97" stroke-width="1.1" stroke-linejoin="round" />
<line x1="392.2" y1="436.2" x2="392.2" y2="440.6" stroke="#1f5b97" stroke-width="0.8" />
<line x1="391.1" y1="436.2" x2="393.3" y2="436.2" stroke="#1f5b97" stroke-width="0.7" />
<line x1="391.1" y1="440.6" x2="393.3" y2="440.6" stroke="#1f5b97" stroke-width="0.7" />
<circle cx="392.2" cy="438.4" r="0.8" fill="#1f5b97"/>
<line x1="395.47" y1="434.88" x2="395.47" y2="439.28" stroke="#1f5b97" stroke-width="0.8" />
<line x1="394.37" y1="434.88" x2="396.57" y2="434.88" stroke="#1f5b97" stroke-width="0.7" />
<line x1="394.37" y1="439.28" x2="396.57" y2="439.28" stroke="#1f5b97" stroke-width="0.7" />
<circle cx="395.47" cy="437.08" r="0.8" fill="#1f5b97"/>
<line x1="398.75" y1="433.87" x2="398.75" y2="438.27" stroke="#1f5b97" stroke-width="0.8" />
<line x1="397.65" y1="433.87" x2="399.85" y2="433.87" stroke="#1f5b97" stroke-width="0.7" />
<line x1="397.65" y1="438.27" x2="399.85" y2="438.27" stroke="#1f5b97" stroke-width="0.7" />
<circle cx="398.75" cy="436.07" r="0.8" fill="#1f5b97"/>
<line x1="402.02" y1="432.59" x2="402.02" y2="436.99" stroke="#1f5b97" stroke-width="0.8" />
<line x1="400.92" y1="432.59" x2="403.12" y2="432.59" stroke="#1f5b97" stroke-width="0.7" />
<line x1="400.92" y1="436.99" x2="403.12" y2="436.99" stroke="#1f5b97" stroke-width="0.7" />
<circle cx="402.02" cy="434.79" r="0.8" fill="#1f5b97"/>
<line x1="405.3" y1="431.08" x2="405.3" y2="435.48" stroke="#1f5b97" stroke-width="0.8" />
<line x1="404.2" y1="431.08" x2="406.4" y2="431.08" stroke="#1f5b97" stroke-width="0.7" />
<line x1="404.2" y1="435.48" x2="406.4" y2="435.48" stroke="#1f5b97" stroke-width="0.7" />
<circle cx="405.3" cy="433.28" r="0.8" fill="#1f5b97"/>
<line x1="408.57" y1="429.78" x2="408.57" y2="434.18" stroke="#1f5b97" stroke-width="0.8" />
<line x1="407.47" y1="429.78" x2="409.68" y2="429.78" stroke="#1f5b97" stroke-width="0.7" />
<line x1="407.47" y1="434.18" x2="409.68" y2="434.18" stroke="#1f5b97" stroke-width="0.7" />
<circle cx="408.57" cy="431.98" r="0.8" fill="#1f5b97"/>
<line x1="411.85" y1="428.53" x2="411.85" y2="432.93" stroke="#1f5b97" stroke-width="0.8" />
<line x1="410.75" y1="428.53" x2="412.95" y2="428.53" stroke="#1f5b97" stroke-width="0.7" />
<line x1="410.75" y1="432.93" x2="412.95" y2="432.93" stroke="#1f5b97" stroke-width="0.7" />
<circle cx="411.85" cy="430.73" r="0.8" fill="#1f5b97"/>
<line x1="415.12" y1="426.7" x2="415.12" y2="431.1" stroke="#1f5b97" stroke-width="0.8" />
<line x1="414.02" y1="426.7" x2="416.23" y2="426.7" stroke="#1f5b97" stroke-width="0.7" />
<line x1="414.02" y1="431.1" x2="416.23" y2="431.1" stroke="#1f5b97" stroke-width="0.7" />
<circle cx="415.12" cy="428.9" r="0.8" fill="#1f5b97"/>
<line x1="418.4" y1="424.95" x2="418.4" y2="429.35" stroke="#1f5b97" stroke-width="0.8" />
<line x1="417.3" y1="424.95" x2="419.5" y2="424.95" stroke="#1f5b97" stroke-width="0.7" />
<line x1="417.3" y1="429.35" x2="419.5" y2="429.35" stroke="#1f5b97" stroke-width="0.7" />
<circle cx="418.4" cy="427.15" r="0.8" fill="#1f5b97"/>
<line x1="421.68" y1="423.19" x2="421.68" y2="427.59" stroke="#1f5b97" stroke-width="0.8" />
<line x1="420.57" y1="423.19" x2="422.78" y2="423.19" stroke="#1f5b97" stroke-width="0.7" />
<line x1="420.57" y1="427.59" x2="422.78" y2="427.59" stroke="#1f5b97" stroke-width="0.7" />
<circle cx="421.68" cy="425.39" r="0.8" fill="#1f5b97"/>
<line x1="424.95" y1="421.48" x2="424.95" y2="425.88" stroke="#1f5b97" stroke-width="0.8" />
<line x1="423.85" y1="421.48" x2="426.05" y2="421.48" stroke="#1f5b97" stroke-width="0.7" />
<line x1="423.85" y1="425.88" x2="426.05" y2="425.88" stroke="#1f5b97" stroke-width="0.7" />
<circle cx="424.95" cy="423.68" r="0.8" fill="#1f5b97"/>
<line x1="428.22" y1="420.61" x2="428.22" y2="425.01" stroke="#1f5b97" stroke-width="0.8" />
<line x1="427.12" y1="420.61" x2="429.32" y2="420.61" stroke="#1f5b97" stroke-width="0.7" />
<line x1="427.12" y1="425.01" x2="429.32" y2="425.01" stroke="#1f5b97" stroke-width="0.7" />
<circle cx="428.22" cy="422.81" r="0.8" fill="#1f5b97"/>
<line x1="431.5" y1="419.16" x2="431.5" y2="423.56" stroke="#1f5b97" stroke-width="0.8" />
<line x1="430.4" y1="419.16" x2="432.6" y2="419.16" stroke="#1f5b97" stroke-width="0.7" />
<line x1="430.4" y1="423.56" x2="432.6" y2="423.56" stroke="#1f5b97" stroke-width="0.7" />
<circle cx="431.5" cy="421.36" r="0.8" fill="#1f5b97"/>
<line x1="434.77" y1="417.86" x2="434.77" y2="422.26" stroke="#1f5b97" stroke-width="0.8" />
<line x1="433.67" y1="417.86" x2="435.88" y2="417.86" stroke="#1f5b97" stroke-width="0.7" />
<line x1="433.67" y1="422.26" x2="435.88" y2="422.26" stroke="#1f5b97" stroke-width="0.7" />
<circle cx="434.77" cy="420.06" r="0.8" fill="#1f5b97"/>
<line x1="438.05" y1="416.27" x2="438.05" y2="420.67" stroke="#1f5b97" stroke-width="0.8" />
<line x1="436.95" y1="416.27" x2="439.15" y2="416.27" stroke="#1f5b97" stroke-width="0.7" />
<line x1="436.95" y1="420.67" x2="439.15" y2="420.67" stroke="#1f5b97" stroke-width="0.7" />
<circle cx="438.05" cy="418.47" r="0.8" fill="#1f5b97"/>
<line x1="441.32" y1="415.9" x2="441.32" y2="420.3" stroke="#1f5b97" stroke-width="0.8" />
<line x1="440.22" y1="415.9" x2="442.43" y2="415.9" stroke="#1f5b97" stroke-width="0.7" />
<line x1="440.22" y1="420.3" x2="442.43" y2="420.3" stroke="#1f5b97" stroke-width="0.7" />
<circle cx="441.32" cy="418.1" r="0.8" fill="#1f5b97"/>
<line x1="444.6" y1="414.89" x2="444.6" y2="419.29" stroke="#1f5b97" stroke-width="0.8" />
<line x1="443.5" y1="414.89" x2="445.7" y2="414.89" stroke="#1f5b97" stroke-width="0.7" />
<line x1="443.5" y1="419.29" x2="445.7" y2="419.29" stroke="#1f5b97" stroke-width="0.7" />
<circle cx="444.6" cy="417.09" r="0.8" fill="#1f5b97"/>
<line x1="447.88" y1="413.73" x2="447.88" y2="418.13" stroke="#1f5b97" stroke-width="0.8" />
<line x1="446.77" y1="413.73" x2="448.98" y2="413.73" stroke="#1f5b97" stroke-width="0.7" />
<line x1="446.77" y1="418.13" x2="448.98" y2="418.13" stroke="#1f5b97" stroke-width="0.7" />
<circle cx="447.88" cy="415.93" r="0.8" fill="#1f5b97"/>
<line x1="451.15" y1="412.92" x2="451.15" y2="417.32" stroke="#1f5b97" stroke-width="0.8" />
<line x1="450.05" y1="412.92" x2="452.25" y2="412.92" stroke="#1f5b97" stroke-width="0.7" />
<line x1="450.05" y1="417.32" x2="452.25" y2="417.32" stroke="#1f5b97" stroke-width="0.7" />
<circle cx="451.15" cy="415.12" r="0.8" fill="#1f5b97"/>
<line x1="454.43" y1="411.01" x2="454.43" y2="415.41" stroke="#1f5b97" stroke-width="0.8" />
<line x1="453.32" y1="411.01" x2="455.53" y2="411.01" stroke="#1f5b97" stroke-width="0.7" />
<line x1="453.32" y1="415.41" x2="455.53" y2="415.41" stroke="#1f5b97" stroke-width="0.7" />
<circle cx="454.43" cy="413.21" r="0.8" fill="#1f5b97"/>
<line x1="457.7" y1="410.66" x2="457.7" y2="415.06" stroke="#1f5b97" stroke-width="0.8" />
<line x1="456.6" y1="410.66" x2="458.8" y2="410.66" stroke="#1f5b97" stroke-width="0.7" />
<line x1="456.6" y1="415.06" x2="458.8" y2="415.06" stroke="#1f5b97" stroke-width="0.7" />
<circle cx="457.7" cy="412.86" r="0.8" fill="#1f5b97"/>
<line x1="460.97" y1="411.06" x2="460.97" y2="415.46" stroke="#1f5b97" stroke-width="0.8" />
<line x1="459.87" y1="411.06" x2="462.07" y2="411.06" stroke="#1f5b97" stroke-width="0.7" />
<line x1="459.87" y1="415.46" x2="462.07" y2="415.46" stroke="#1f5b97" stroke-width="0.7" />
<circle cx="460.97" cy="413.26" r="0.8" fill="#1f5b97"/>
<line x1="464.25" y1="409.77" x2="464.25" y2="414.17" stroke="#1f5b97" stroke-width="0.8" />
<line x1="463.15" y1="409.77" x2="465.35" y2="409.77" stroke="#1f5b97" stroke-width="0.7" />
<line x1="463.15" y1="414.17" x2="465.35" y2="414.17" stroke="#1f5b97" stroke-width="0.7" />
<circle cx="464.25" cy="411.97" r="0.8" fill="#1f5b97"/>
<line x1="467.52" y1="408.49" x2="467.52" y2="412.89" stroke="#1f5b97" stroke-width="0.8" />
<line x1="466.42" y1="408.49" x2="468.62" y2="408.49" stroke="#1f5b97" stroke-width="0.7" />
<line x1="466.42" y1="412.89" x2="468.62" y2="412.89" stroke="#1f5b97" stroke-width="0.7" />
<circle cx="467.52" cy="410.69" r="0.8" fill="#1f5b97"/>
<line x1="470.8" y1="408.13" x2="470.8" y2="412.53" stroke="#1f5b97" stroke-width="0.8" />
<line x1="469.7" y1="408.13" x2="471.9" y2="408.13" stroke="#1f5b97" stroke-width="0.7" />
<line x1="469.7" y1="412.53" x2="471.9" y2="412.53" stroke="#1f5b97" stroke-width="0.7" />
<circle cx="470.8" cy="410.33" r="0.8" fill="#1f5b97"/>
<line x1="474.07" y1="409" x2="474.07" y2="413.4" stroke="#1f5b97" stroke-width="0.8" />
<line x1="472.97" y1="409" x2="475.18" y2="409" stroke="#1f5b97" stroke-width="0.7" />
<line x1="472.97" y1="413.4" x2="475.18" y2="413.4" stroke="#1f5b97" stroke-width="0.7" />
<circle cx="474.07" cy="411.2" r="0.8" fill="#1f5b97"/>
<line x1="477.35" y1="408.9" x2="477.35" y2="413.3" stroke="#1f5b97" stroke-width="0.8" />
<line x1="476.25" y1="408.9" x2="478.45" y2="408.9" stroke="#1f5b97" stroke-width="0.7" />
<line x1="476.25" y1="413.3" x2="478.45" y2="413.3" stroke="#1f5b97" stroke-width="0.7" />
<circle cx="477.35" cy="411.1" r="0.8" fill="#1f5b97"/>
<line x1="480.62" y1="408.63" x2="480.62" y2="413.03" stroke="#1f5b97" stroke-width="0.8" />
<line x1="479.52" y1="408.63" x2="481.73" y2="408.63" stroke="#1f5b97" stroke-width="0.7" />
<line x1="479.52" y1="413.03" x2="481.73" y2="413.03" stroke="#1f5b97" stroke-width="0.7" />
<circle cx="480.62" cy="410.83" r="0.8" fill="#1f5b97"/>
<line x1="483.9" y1="407.95" x2="483.9" y2="412.35" stroke="#1f5b97" stroke-width="0.8" />
<line x1="482.8" y1="407.95" x2="485" y2="407.95" stroke="#1f5b97" stroke-width="0.7" />
<line x1="482.8" y1="412.35" x2="485" y2="412.35" stroke="#1f5b97" stroke-width="0.7" />
<circle cx="483.9" cy="410.15" r="0.8" fill="#1f5b97"/>
<line x1="487.17" y1="407.79" x2="487.17" y2="412.19" stroke="#1f5b97" stroke-width="0.8" />
<line x1="486.07" y1="407.79" x2="488.27" y2="407.79" stroke="#1f5b97" stroke-width="0.7" />
<line x1="486.07" y1="412.19" x2="488.27" y2="412.19" stroke="#1f5b97" stroke-width="0.7" />
<circle cx="487.17" cy="409.99" r="0.8" fill="#1f5b97"/>
<line x1="490.45" y1="408.94" x2="490.45" y2="413.34" stroke="#1f5b97" stroke-width="0.8" />
<line x1="489.35" y1="408.94" x2="491.55" y2="408.94" stroke="#1f5b97" stroke-width="0.7" />
<line x1="489.35" y1="413.34" x2="491.55" y2="413.34" stroke="#1f5b97" stroke-width="0.7" />
<circle cx="490.45" cy="411.14" r="0.8" fill="#1f5b97"/>
<line x1="493.72" y1="409.84" x2="493.72" y2="414.24" stroke="#1f5b97" stroke-width="0.8" />
<line x1="492.62" y1="409.84" x2="494.82" y2="409.84" stroke="#1f5b97" stroke-width="0.7" />
<line x1="492.62" y1="414.24" x2="494.82" y2="414.24" stroke="#1f5b97" stroke-width="0.7" />
<circle cx="493.72" cy="412.04" r="0.8" fill="#1f5b97"/>
<line x1="497" y1="410.19" x2="497" y2="414.59" stroke="#1f5b97" stroke-width="0.8" />
<line x1="495.9" y1="410.19" x2="498.1" y2="410.19" stroke="#1f5b97" stroke-width="0.7" />
<line x1="495.9" y1="414.59" x2="498.1" y2="414.59" stroke="#1f5b97" stroke-width="0.7" />
<circle cx="497" cy="412.39" r="0.8" fill="#1f5b97"/>
<line x1="500.27" y1="409.92" x2="500.27" y2="414.32" stroke="#1f5b97" stroke-width="0.8" />
<line x1="499.17" y1="409.92" x2="501.38" y2="409.92" stroke="#1f5b97" stroke-width="0.7" />
<line x1="499.17" y1="414.32" x2="501.38" y2="414.32" stroke="#1f5b97" stroke-width="0.7" />
<circle cx="500.27" cy="412.12" r="0.8" fill="#1f5b97"/>
<line x1="503.55" y1="410.15" x2="503.55" y2="414.55" stroke="#1f5b97" stroke-width="0.8" />
<line x1="502.45" y1="410.15" x2="504.65" y2="410.15" stroke="#1f5b97" stroke-width="0.7" />
<line x1="502.45" y1="414.55" x2="504.65" y2="414.55" stroke="#1f5b97" stroke-width="0.7" />
<circle cx="503.55" cy="412.35" r="0.8" fill="#1f5b97"/>
<line x1="506.82" y1="409.83" x2="506.82" y2="414.23" stroke="#1f5b97" stroke-width="0.8" />
<line x1="505.72" y1="409.83" x2="507.93" y2="409.83" stroke="#1f5b97" stroke-width="0.7" />
<line x1="505.72" y1="414.23" x2="507.93" y2="414.23" stroke="#1f5b97" stroke-width="0.7" />
<circle cx="506.82" cy="412.03" r="0.8" fill="#1f5b97"/>
<path d="M392.2,436.24 L395.47,434.79 L398.75,432.59 L402.02,430.86 L405.3,427.81 L408.57,425.21 L411.85,420.73 L415.12,417.06 L418.4,414.2 L421.68,411.99 L424.95,409.8 L428.22,407.47 L431.5,405.31 L434.77,403.04 L438.05,401.24 L441.32,399.4 L444.6,397.74 L447.88,395.76 L451.15,394.08 L454.43,392.49 L457.7,390.21 L460.97,389.12 L464.25,390.81 L467.52,388.76 L470.8,386.84 L474.07,386.97 L477.35,386.15 L480.62,385.01 L483.9,384.33 L487.17,383.8 L490.45,382.61 L493.72,381.61 L497,381.24 L500.27,381.42 L503.55,381.9 L506.82,382.28" fill="none" stroke="#d4163c" stroke-width="1.1" stroke-linejoin="round" />
<line x1="392.2" y1="434.04" x2="392.2" y2="438.44" stroke="#d4163c" stroke-width="0.8" />
<line x1="391.1" y1="434.04" x2="393.3" y2="434.04" stroke="#d4163c" stroke-width="0.7" />
<line x1="391.1" y1="438.44" x2="393.3" y2="438.44" stroke="#d4163c" stroke-width="0.7" />
<circle cx="392.2" cy="436.24" r="0.8" fill="#d4163c"/>
<line x1="395.47" y1="432.59" x2="395.47" y2="436.99" stroke="#d4163c" stroke-width="0.8" />
<line x1="394.37" y1="432.59" x2="396.57" y2="432.59" stroke="#d4163c" stroke-width="0.7" />
<line x1="394.37" y1="436.99" x2="396.57" y2="436.99" stroke="#d4163c" stroke-width="0.7" />
<circle cx="395.47" cy="434.79" r="0.8" fill="#d4163c"/>
<line x1="398.75" y1="430.39" x2="398.75" y2="434.79" stroke="#d4163c" stroke-width="0.8" />
<line x1="397.65" y1="430.39" x2="399.85" y2="430.39" stroke="#d4163c" stroke-width="0.7" />
<line x1="397.65" y1="434.79" x2="399.85" y2="434.79" stroke="#d4163c" stroke-width="0.7" />
<circle cx="398.75" cy="432.59" r="0.8" fill="#d4163c"/>
<line x1="402.02" y1="428.66" x2="402.02" y2="433.06" stroke="#d4163c" stroke-width="0.8" />
<line x1="400.92" y1="428.66" x2="403.12" y2="428.66" stroke="#d4163c" stroke-width="0.7" />
<line x1="400.92" y1="433.06" x2="403.12" y2="433.06" stroke="#d4163c" stroke-width="0.7" />
<circle cx="402.02" cy="430.86" r="0.8" fill="#d4163c"/>
<line x1="405.3" y1="425.61" x2="405.3" y2="430.01" stroke="#d4163c" stroke-width="0.8" />
<line x1="404.2" y1="425.61" x2="406.4" y2="425.61" stroke="#d4163c" stroke-width="0.7" />
<line x1="404.2" y1="430.01" x2="406.4" y2="430.01" stroke="#d4163c" stroke-width="0.7" />
<circle cx="405.3" cy="427.81" r="0.8" fill="#d4163c"/>
<line x1="408.57" y1="423.01" x2="408.57" y2="427.41" stroke="#d4163c" stroke-width="0.8" />
<line x1="407.47" y1="423.01" x2="409.68" y2="423.01" stroke="#d4163c" stroke-width="0.7" />
<line x1="407.47" y1="427.41" x2="409.68" y2="427.41" stroke="#d4163c" stroke-width="0.7" />
<circle cx="408.57" cy="425.21" r="0.8" fill="#d4163c"/>
<line x1="411.85" y1="418.53" x2="411.85" y2="422.93" stroke="#d4163c" stroke-width="0.8" />
<line x1="410.75" y1="418.53" x2="412.95" y2="418.53" stroke="#d4163c" stroke-width="0.7" />
<line x1="410.75" y1="422.93" x2="412.95" y2="422.93" stroke="#d4163c" stroke-width="0.7" />
<circle cx="411.85" cy="420.73" r="0.8" fill="#d4163c"/>
<line x1="415.12" y1="414.86" x2="415.12" y2="419.26" stroke="#d4163c" stroke-width="0.8" />
<line x1="414.02" y1="414.86" x2="416.23" y2="414.86" stroke="#d4163c" stroke-width="0.7" />
<line x1="414.02" y1="419.26" x2="416.23" y2="419.26" stroke="#d4163c" stroke-width="0.7" />
<circle cx="415.12" cy="417.06" r="0.8" fill="#d4163c"/>
<line x1="418.4" y1="412" x2="418.4" y2="416.4" stroke="#d4163c" stroke-width="0.8" />
<line x1="417.3" y1="412" x2="419.5" y2="412" stroke="#d4163c" stroke-width="0.7" />
<line x1="417.3" y1="416.4" x2="419.5" y2="416.4" stroke="#d4163c" stroke-width="0.7" />
<circle cx="418.4" cy="414.2" r="0.8" fill="#d4163c"/>
<line x1="421.68" y1="409.79" x2="421.68" y2="414.19" stroke="#d4163c" stroke-width="0.8" />
<line x1="420.57" y1="409.79" x2="422.78" y2="409.79" stroke="#d4163c" stroke-width="0.7" />
<line x1="420.57" y1="414.19" x2="422.78" y2="414.19" stroke="#d4163c" stroke-width="0.7" />
<circle cx="421.68" cy="411.99" r="0.8" fill="#d4163c"/>
<line x1="424.95" y1="407.6" x2="424.95" y2="412" stroke="#d4163c" stroke-width="0.8" />
<line x1="423.85" y1="407.6" x2="426.05" y2="407.6" stroke="#d4163c" stroke-width="0.7" />
<line x1="423.85" y1="412" x2="426.05" y2="412" stroke="#d4163c" stroke-width="0.7" />
<circle cx="424.95" cy="409.8" r="0.8" fill="#d4163c"/>
<line x1="428.22" y1="405.27" x2="428.22" y2="409.67" stroke="#d4163c" stroke-width="0.8" />
<line x1="427.12" y1="405.27" x2="429.32" y2="405.27" stroke="#d4163c" stroke-width="0.7" />
<line x1="427.12" y1="409.67" x2="429.32" y2="409.67" stroke="#d4163c" stroke-width="0.7" />
<circle cx="428.22" cy="407.47" r="0.8" fill="#d4163c"/>
<line x1="431.5" y1="403.11" x2="431.5" y2="407.51" stroke="#d4163c" stroke-width="0.8" />
<line x1="430.4" y1="403.11" x2="432.6" y2="403.11" stroke="#d4163c" stroke-width="0.7" />
<line x1="430.4" y1="407.51" x2="432.6" y2="407.51" stroke="#d4163c" stroke-width="0.7" />
<circle cx="431.5" cy="405.31" r="0.8" fill="#d4163c"/>
<line x1="434.77" y1="400.84" x2="434.77" y2="405.24" stroke="#d4163c" stroke-width="0.8" />
<line x1="433.67" y1="400.84" x2="435.88" y2="400.84" stroke="#d4163c" stroke-width="0.7" />
<line x1="433.67" y1="405.24" x2="435.88" y2="405.24" stroke="#d4163c" stroke-width="0.7" />
<circle cx="434.77" cy="403.04" r="0.8" fill="#d4163c"/>
<line x1="438.05" y1="399.04" x2="438.05" y2="403.44" stroke="#d4163c" stroke-width="0.8" />
<line x1="436.95" y1="399.04" x2="439.15" y2="399.04" stroke="#d4163c" stroke-width="0.7" />
<line x1="436.95" y1="403.44" x2="439.15" y2="403.44" stroke="#d4163c" stroke-width="0.7" />
<circle cx="438.05" cy="401.24" r="0.8" fill="#d4163c"/>
<line x1="441.32" y1="397.2" x2="441.32" y2="401.6" stroke="#d4163c" stroke-width="0.8" />
<line x1="440.22" y1="397.2" x2="442.43" y2="397.2" stroke="#d4163c" stroke-width="0.7" />
<line x1="440.22" y1="401.6" x2="442.43" y2="401.6" stroke="#d4163c" stroke-width="0.7" />
<circle cx="441.32" cy="399.4" r="0.8" fill="#d4163c"/>
<line x1="444.6" y1="395.54" x2="444.6" y2="399.94" stroke="#d4163c" stroke-width="0.8" />
<line x1="443.5" y1="395.54" x2="445.7" y2="395.54" stroke="#d4163c" stroke-width="0.7" />
<line x1="443.5" y1="399.94" x2="445.7" y2="399.94" stroke="#d4163c" stroke-width="0.7" />
<circle cx="444.6" cy="397.74" r="0.8" fill="#d4163c"/>
<line x1="447.88" y1="393.56" x2="447.88" y2="397.96" stroke="#d4163c" stroke-width="0.8" />
<line x1="446.77" y1="393.56" x2="448.98" y2="393.56" stroke="#d4163c" stroke-width="0.7" />
<line x1="446.77" y1="397.96" x2="448.98" y2="397.96" stroke="#d4163c" stroke-width="0.7" />
<circle cx="447.88" cy="395.76" r="0.8" fill="#d4163c"/>
<line x1="451.15" y1="391.88" x2="451.15" y2="396.28" stroke="#d4163c" stroke-width="0.8" />
<line x1="450.05" y1="391.88" x2="452.25" y2="391.88" stroke="#d4163c" stroke-width="0.7" />
<line x1="450.05" y1="396.28" x2="452.25" y2="396.28" stroke="#d4163c" stroke-width="0.7" />
<circle cx="451.15" cy="394.08" r="0.8" fill="#d4163c"/>
<line x1="454.43" y1="390.29" x2="454.43" y2="394.69" stroke="#d4163c" stroke-width="0.8" />
<line x1="453.32" y1="390.29" x2="455.53" y2="390.29" stroke="#d4163c" stroke-width="0.7" />
<line x1="453.32" y1="394.69" x2="455.53" y2="394.69" stroke="#d4163c" stroke-width="0.7" />
<circle cx="454.43" cy="392.49" r="0.8" fill="#d4163c"/>
<line x1="457.7" y1="388.01" x2="457.7" y2="392.41" stroke="#d4163c" stroke-width="0.8" />
<line x1="456.6" y1="388.01" x2="458.8" y2="388.01" stroke="#d4163c" stroke-width="0.7" />
<line x1="456.6" y1="392.41" x2="458.8" y2="392.41" stroke="#d4163c" stroke-width="0.7" />
<circle cx="457.7" cy="390.21" r="0.8" fill="#d4163c"/>
<line x1="460.97" y1="386.92" x2="460.97" y2="391.32" stroke="#d4163c" stroke-width="0.8" />
<line x1="459.87" y1="386.92" x2="462.07" y2="386.92" stroke="#d4163c" stroke-width="0.7" />
<line x1="459.87" y1="391.32" x2="462.07" y2="391.32" stroke="#d4163c" stroke-width="0.7" />
<circle cx="460.97" cy="389.12" r="0.8" fill="#d4163c"/>
<line x1="464.25" y1="388.61" x2="464.25" y2="393.01" stroke="#d4163c" stroke-width="0.8" />
<line x1="463.15" y1="388.61" x2="465.35" y2="388.61" stroke="#d4163c" stroke-width="0.7" />
<line x1="463.15" y1="393.01" x2="465.35" y2="393.01" stroke="#d4163c" stroke-width="0.7" />
<circle cx="464.25" cy="390.81" r="0.8" fill="#d4163c"/>
<line x1="467.52" y1="386.56" x2="467.52" y2="390.96" stroke="#d4163c" stroke-width="0.8" />
<line x1="466.42" y1="386.56" x2="468.62" y2="386.56" stroke="#d4163c" stroke-width="0.7" />
<line x1="466.42" y1="390.96" x2="468.62" y2="390.96" stroke="#d4163c" stroke-width="0.7" />
<circle cx="467.52" cy="388.76" r="0.8" fill="#d4163c"/>
<line x1="470.8" y1="384.64" x2="470.8" y2="389.04" stroke="#d4163c" stroke-width="0.8" />
<line x1="469.7" y1="384.64" x2="471.9" y2="384.64" stroke="#d4163c" stroke-width="0.7" />
<line x1="469.7" y1="389.04" x2="471.9" y2="389.04" stroke="#d4163c" stroke-width="0.7" />
<circle cx="470.8" cy="386.84" r="0.8" fill="#d4163c"/>
<line x1="474.07" y1="384.77" x2="474.07" y2="389.17" stroke="#d4163c" stroke-width="0.8" />
<line x1="472.97" y1="384.77" x2="475.18" y2="384.77" stroke="#d4163c" stroke-width="0.7" />
<line x1="472.97" y1="389.17" x2="475.18" y2="389.17" stroke="#d4163c" stroke-width="0.7" />
<circle cx="474.07" cy="386.97" r="0.8" fill="#d4163c"/>
<line x1="477.35" y1="383.95" x2="477.35" y2="388.35" stroke="#d4163c" stroke-width="0.8" />
<line x1="476.25" y1="383.95" x2="478.45" y2="383.95" stroke="#d4163c" stroke-width="0.7" />
<line x1="476.25" y1="388.35" x2="478.45" y2="388.35" stroke="#d4163c" stroke-width="0.7" />
<circle cx="477.35" cy="386.15" r="0.8" fill="#d4163c"/>
<line x1="480.62" y1="382.81" x2="480.62" y2="387.21" stroke="#d4163c" stroke-width="0.8" />
<line x1="479.52" y1="382.81" x2="481.73" y2="382.81" stroke="#d4163c" stroke-width="0.7" />
<line x1="479.52" y1="387.21" x2="481.73" y2="387.21" stroke="#d4163c" stroke-width="0.7" />
<circle cx="480.62" cy="385.01" r="0.8" fill="#d4163c"/>
<line x1="483.9" y1="382.13" x2="483.9" y2="386.53" stroke="#d4163c" stroke-width="0.8" />
<line x1="482.8" y1="382.13" x2="485" y2="382.13" stroke="#d4163c" stroke-width="0.7" />
<line x1="482.8" y1="386.53" x2="485" y2="386.53" stroke="#d4163c" stroke-width="0.7" />
<circle cx="483.9" cy="384.33" r="0.8" fill="#d4163c"/>
<line x1="487.17" y1="381.6" x2="487.17" y2="386" stroke="#d4163c" stroke-width="0.8" />
<line x1="486.07" y1="381.6" x2="488.27" y2="381.6" stroke="#d4163c" stroke-width="0.7" />
<line x1="486.07" y1="386" x2="488.27" y2="386" stroke="#d4163c" stroke-width="0.7" />
<circle cx="487.17" cy="383.8" r="0.8" fill="#d4163c"/>
<line x1="490.45" y1="380.41" x2="490.45" y2="384.81" stroke="#d4163c" stroke-width="0.8" />
<line x1="489.35" y1="380.41" x2="491.55" y2="380.41" stroke="#d4163c" stroke-width="0.7" />
<line x1="489.35" y1="384.81" x2="491.55" y2="384.81" stroke="#d4163c" stroke-width="0.7" />
<circle cx="490.45" cy="382.61" r="0.8" fill="#d4163c"/>
<line x1="493.72" y1="379.41" x2="493.72" y2="383.81" stroke="#d4163c" stroke-width="0.8" />
<line x1="492.62" y1="379.41" x2="494.82" y2="379.41" stroke="#d4163c" stroke-width="0.7" />
<line x1="492.62" y1="383.81" x2="494.82" y2="383.81" stroke="#d4163c" stroke-width="0.7" />
<circle cx="493.72" cy="381.61" r="0.8" fill="#d4163c"/>
<line x1="497" y1="379.04" x2="497" y2="383.44" stroke="#d4163c" stroke-width="0.8" />
<line x1="495.9" y1="379.04" x2="498.1" y2="379.04" stroke="#d4163c" stroke-width="0.7" />
<line x1="495.9" y1="383.44" x2="498.1" y2="383.44" stroke="#d4163c" stroke-width="0.7" />
<circle cx="497" cy="381.24" r="0.8" fill="#d4163c"/>
<line x1="500.27" y1="379.22" x2="500.27" y2="383.62" stroke="#d4163c" stroke-width="0.8" />
<line x1="499.17" y1="379.22" x2="501.38" y2="379.22" stroke="#d4163c" stroke-width="0.7" />
<line x1="499.17" y1="383.62" x2="501.38" y2="383.62" stroke="#d4163c" stroke-width="0.7" />
<circle cx="500.27" cy="381.42" r="0.8" fill="#d4163c"/>
<line x1="503.55" y1="379.7" x2="503.55" y2="384.1" stroke="#d4163c" stroke-width="0.8" />
<line x1="502.45" y1="379.7" x2="504.65" y2="379.7" stroke="#d4163c" stroke-width="0.7" />
<line x1="502.45" y1="384.1" x2="504.65" y2="384.1" stroke="#d4163c" stroke-width="0.7" />
<circle cx="503.55" cy="381.9" r="0.8" fill="#d4163c"/>
<line x1="506.82" y1="380.08" x2="506.82" y2="384.48" stroke="#d4163c" stroke-width="0.8" />
<line x1="505.72" y1="380.08" x2="507.93" y2="380.08" stroke="#d4163c" stroke-width="0.7" />
<line x1="505.72" y1="384.48" x2="507.93" y2="384.48" stroke="#d4163c" stroke-width="0.7" />
<circle cx="506.82" cy="382.28" r="0.8" fill="#d4163c"/>
<rect x="0.5" y="0.5" width="519" height="480" fill="none" stroke="#000" stroke-width="1.2"/>
</svg>
</body></html>
